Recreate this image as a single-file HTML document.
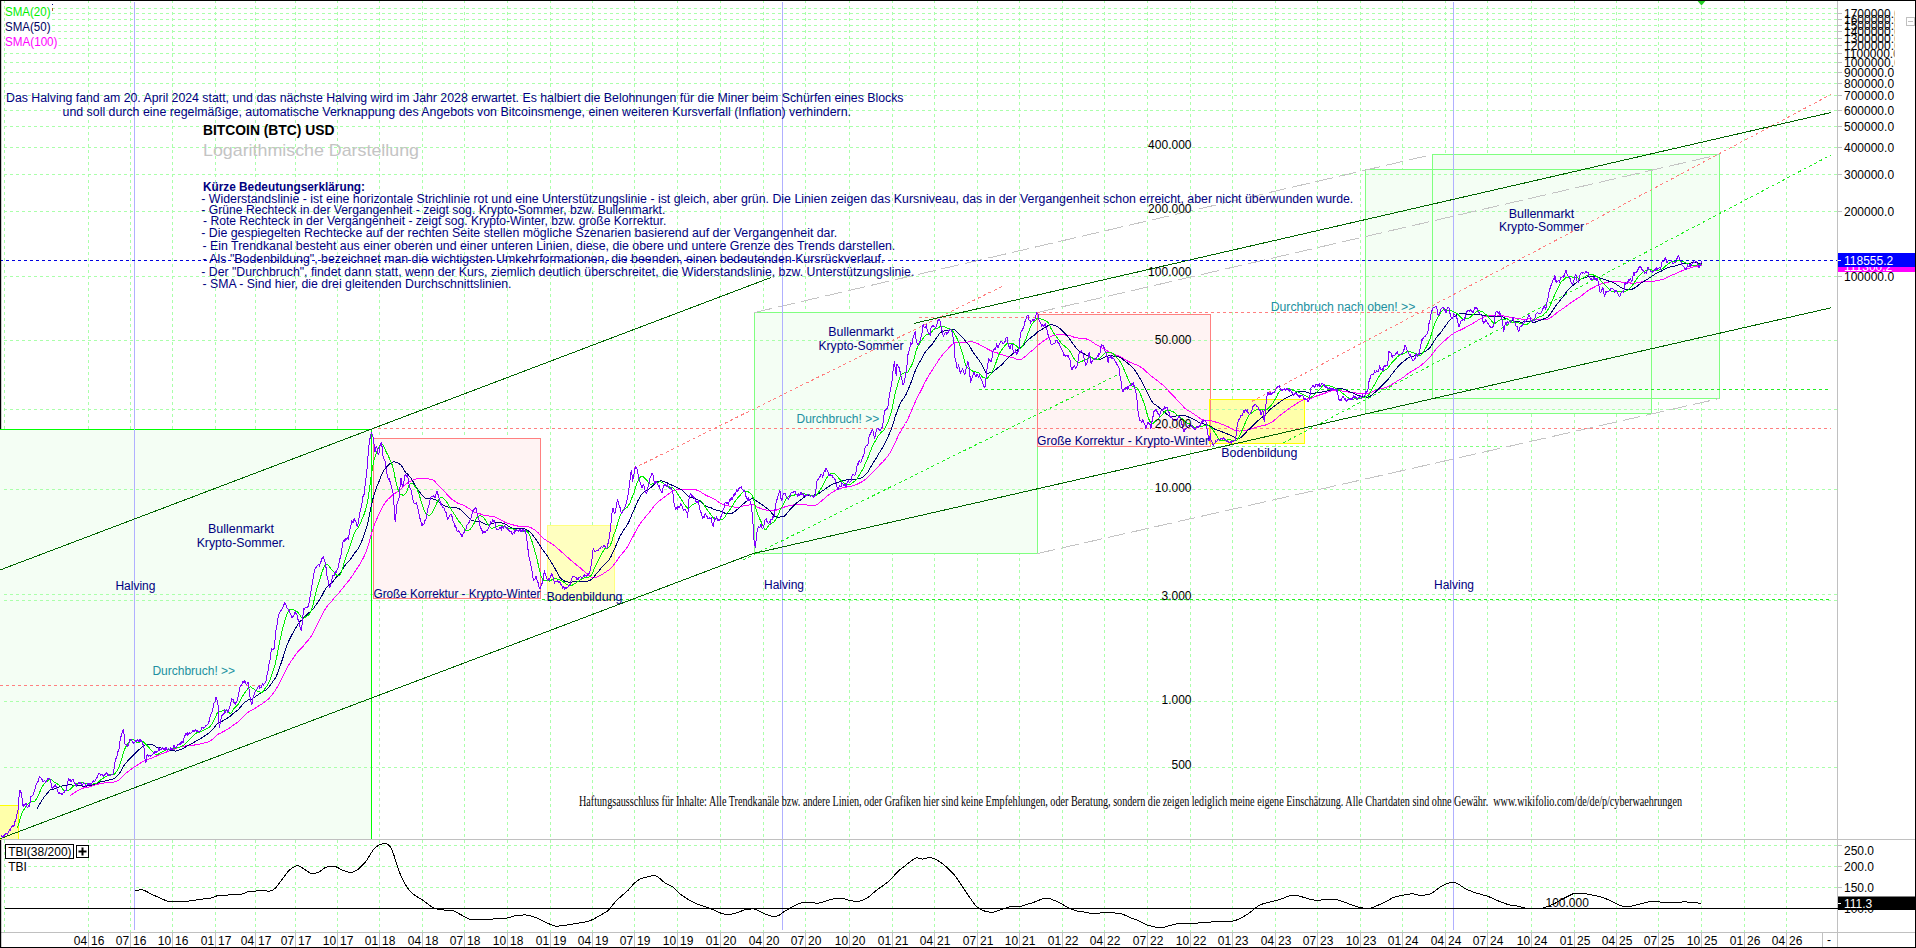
<!DOCTYPE html>
<html lang="de"><head><meta charset="utf-8"><title>BITCOIN (BTC) USD</title>
<style>html,body{margin:0;padding:0;background:#fff;overflow:hidden}svg text{white-space:pre}</style></head>
<body>
<svg width="1916" height="948" viewBox="0 0 1916 948" style="display:block;font-family:'Liberation Sans',Arial,sans-serif;font-size:12px">
<rect width="1916" height="948" fill="#ffffff"/>
<g stroke="#aaffaa" stroke-width="1" stroke-dasharray="3 3" shape-rendering="crispEdges">
<line x1="4.5" y1="0" x2="4.5" y2="932.5"/>
<line x1="88.5" y1="0" x2="88.5" y2="932.5"/>
<line x1="130.5" y1="0" x2="130.5" y2="932.5"/>
<line x1="172.5" y1="0" x2="172.5" y2="932.5"/>
<line x1="215.5" y1="0" x2="215.5" y2="932.5"/>
<line x1="255.5" y1="0" x2="255.5" y2="932.5"/>
<line x1="295.5" y1="0" x2="295.5" y2="932.5"/>
<line x1="337.5" y1="0" x2="337.5" y2="932.5"/>
<line x1="379.5" y1="0" x2="379.5" y2="932.5"/>
<line x1="422.5" y1="0" x2="422.5" y2="932.5"/>
<line x1="464.5" y1="0" x2="464.5" y2="932.5"/>
<line x1="507.5" y1="0" x2="507.5" y2="932.5"/>
<line x1="550.5" y1="0" x2="550.5" y2="932.5"/>
<line x1="592.5" y1="0" x2="592.5" y2="932.5"/>
<line x1="634.5" y1="0" x2="634.5" y2="932.5"/>
<line x1="677.5" y1="0" x2="677.5" y2="932.5"/>
<line x1="720.5" y1="0" x2="720.5" y2="932.5"/>
<line x1="763.5" y1="0" x2="763.5" y2="932.5"/>
<line x1="805.5" y1="0" x2="805.5" y2="932.5"/>
<line x1="849.5" y1="0" x2="849.5" y2="932.5"/>
<line x1="892.5" y1="0" x2="892.5" y2="932.5"/>
<line x1="934.5" y1="0" x2="934.5" y2="932.5"/>
<line x1="977.5" y1="0" x2="977.5" y2="932.5"/>
<line x1="1019.5" y1="0" x2="1019.5" y2="932.5"/>
<line x1="1062.5" y1="0" x2="1062.5" y2="932.5"/>
<line x1="1104.5" y1="0" x2="1104.5" y2="932.5"/>
<line x1="1147.5" y1="0" x2="1147.5" y2="932.5"/>
<line x1="1190.5" y1="0" x2="1190.5" y2="932.5"/>
<line x1="1232.5" y1="0" x2="1232.5" y2="932.5"/>
<line x1="1275.5" y1="0" x2="1275.5" y2="932.5"/>
<line x1="1317.5" y1="0" x2="1317.5" y2="932.5"/>
<line x1="1360.5" y1="0" x2="1360.5" y2="932.5"/>
<line x1="1402.5" y1="0" x2="1402.5" y2="932.5"/>
<line x1="1445.5" y1="0" x2="1445.5" y2="932.5"/>
<line x1="1487.5" y1="0" x2="1487.5" y2="932.5"/>
<line x1="1531.5" y1="0" x2="1531.5" y2="932.5"/>
<line x1="1574.5" y1="0" x2="1574.5" y2="932.5"/>
<line x1="1616.5" y1="0" x2="1616.5" y2="932.5"/>
<line x1="1658.5" y1="0" x2="1658.5" y2="932.5"/>
<line x1="1701.5" y1="0" x2="1701.5" y2="932.5"/>
<line x1="1744.5" y1="0" x2="1744.5" y2="932.5"/>
<line x1="1786.5" y1="0" x2="1786.5" y2="932.5"/>
</g>
<rect x="0" y="429" width="371" height="410.5" fill="#f4fef4"/>
<rect x="754.5" y="312.5" width="283.0" height="241.0" fill="#f4fef4"/>
<rect x="1365.5" y="169.5" width="286.0" height="244.0" fill="#f4fef4"/>
<rect x="1432.5" y="154.5" width="287.0" height="244.0" fill="#f4fef4"/>
<rect x="373.5" y="438.5" width="167.0" height="160.0" fill="#fff3f3"/>
<rect x="1037.5" y="314.5" width="173.0" height="132.0" fill="#fff3f3"/>
<rect x="547.5" y="525.5" width="67.0" height="75.0" fill="#ffffc0"/>
<rect x="1209.5" y="399.5" width="95.0" height="44.0" fill="#ffffaa"/>
<rect x="-1" y="805.5" width="19.5" height="34.0" fill="#ffffaa"/>
<g stroke="#aaffaa" stroke-width="1" stroke-dasharray="3 3" shape-rendering="crispEdges">
<line x1="4" y1="8.5" x2="1837.5" y2="8.5"/>
<line x1="4" y1="13.5" x2="1837.5" y2="13.5"/>
<line x1="4" y1="19.5" x2="1837.5" y2="19.5"/>
<line x1="4" y1="25.5" x2="1837.5" y2="25.5"/>
<line x1="4" y1="31.5" x2="1837.5" y2="31.5"/>
<line x1="4" y1="38.5" x2="1837.5" y2="38.5"/>
<line x1="4" y1="45.5" x2="1837.5" y2="45.5"/>
<line x1="4" y1="53.5" x2="1837.5" y2="53.5"/>
<line x1="4" y1="62.5" x2="1837.5" y2="62.5"/>
<line x1="4" y1="72.5" x2="1837.5" y2="72.5"/>
<line x1="4" y1="83.5" x2="1837.5" y2="83.5"/>
<line x1="4" y1="95.5" x2="1837.5" y2="95.5"/>
<line x1="4" y1="110.5" x2="1837.5" y2="110.5"/>
<line x1="4" y1="126.5" x2="1837.5" y2="126.5"/>
<line x1="4" y1="147.5" x2="1837.5" y2="147.5"/>
<line x1="4" y1="174.5" x2="1837.5" y2="174.5"/>
<line x1="4" y1="211.5" x2="1837.5" y2="211.5"/>
<line x1="4" y1="276.5" x2="1837.5" y2="276.5"/>
<line x1="4" y1="340.5" x2="1837.5" y2="340.5"/>
<line x1="4" y1="409.5" x2="1837.5" y2="409.5"/>
<line x1="4" y1="489.5" x2="1837.5" y2="489.5"/>
<line x1="4" y1="594.5" x2="1837.5" y2="594.5"/>
<line x1="4" y1="600.5" x2="1837.5" y2="600.5"/>
<line x1="4" y1="701.5" x2="1837.5" y2="701.5"/>
<line x1="4" y1="767.5" x2="1837.5" y2="767.5"/>
<line x1="4" y1="845.5" x2="1837.5" y2="845.5"/>
<line x1="4" y1="866.5" x2="1837.5" y2="866.5"/>
<line x1="4" y1="887.5" x2="1837.5" y2="887.5"/>
<line x1="1212" y1="446.5" x2="1502" y2="446.5" stroke="#80ff80"/>
</g>
<g fill="none" stroke-width="1" shape-rendering="crispEdges">
<rect x="754.5" y="312.5" width="283.0" height="241.0" stroke="#80ff80"/>
<rect x="1365.5" y="169.5" width="286.0" height="244.0" stroke="#80ff80"/>
<rect x="1432.5" y="154.5" width="287.0" height="244.0" stroke="#80ff80"/>
<rect x="373.5" y="438.5" width="167.0" height="160.0" stroke="#ff8080"/>
<rect x="1037.5" y="314.5" width="173.0" height="132.0" stroke="#ff8080"/>
<rect x="1209.5" y="399.5" width="95.0" height="44.0" stroke="#ffff00"/>
<rect x="547.5" y="525.5" width="67.0" height="75.0" stroke="#ffff80"/>
<rect x="-1" y="805.5" width="19.5" height="34.0" stroke="#ffff00"/>
</g>
<g stroke="#00ff00" shape-rendering="crispEdges"><line x1="0" y1="429.5" x2="372" y2="429.5" stroke-width="1"/><line x1="371.5" y1="429" x2="371.5" y2="839" stroke-width="1"/></g>
<g stroke="#c4c4c4" stroke-width="1" stroke-dasharray="18 6" fill="none" shape-rendering="crispEdges">
<line x1="754.5" y1="312.5" x2="1432.5" y2="154.5"/>
<line x1="1037.5" y1="312.5" x2="1719.5" y2="154.5"/>
<line x1="1037.5" y1="553.5" x2="1719.5" y2="398.5"/>
</g>
<rect x="577" y="795" width="1108" height="15" fill="#fff"/>
<g stroke="#b0b0ff" stroke-width="1" shape-rendering="crispEdges">
<line x1="134.5" y1="2" x2="134.5" y2="930"/>
<line x1="782.5" y1="2" x2="782.5" y2="930"/>
<line x1="1453.5" y1="2" x2="1453.5" y2="930"/>
</g>
<g stroke-width="1" stroke-dasharray="3 3" fill="none" shape-rendering="crispEdges">
<g stroke="#ff8080">
<line x1="0" y1="685.5" x2="261" y2="685.5" shape-rendering="crispEdges"/>
<line x1="372" y1="428.5" x2="1831" y2="428.5" shape-rendering="crispEdges"/>
<line x1="919" y1="317.5" x2="1037" y2="317.5" shape-rendering="crispEdges"/>
<line x1="1037" y1="312.5" x2="1436" y2="312.5" shape-rendering="crispEdges"/>
<line x1="633.5" y1="468.4" x2="1002" y2="286.4"/>
<line x1="1252" y1="401.3" x2="1831" y2="94.5"/>
</g>
<g stroke="#22ee22">
<line x1="542" y1="599.5" x2="1831" y2="599.5" shape-rendering="crispEdges"/>
<line x1="979" y1="389.5" x2="1831" y2="389.5" shape-rendering="crispEdges"/>
<line x1="743" y1="560" x2="1120" y2="373.6"/>
<line x1="1283" y1="443" x2="1831" y2="155"/>
</g></g>
<g stroke="#006400" stroke-width="1" fill="none" shape-rendering="crispEdges">
<line x1="0" y1="570" x2="771" y2="277.5"/>
<line x1="0" y1="838.7" x2="756" y2="552.5"/>
<line x1="756" y1="553" x2="1831" y2="307.8"/>
<line x1="914" y1="323.4" x2="1831" y2="112.5"/>
</g>
<g fill="none" stroke-width="1" stroke-linejoin="round" shape-rendering="crispEdges">
<polyline stroke="#ff00ff" points="70.0,795.8 71.5,794.7 73.0,793.6 74.5,792.6 76.0,791.8 77.5,790.9 79.0,790.1 80.5,789.3 82.0,788.5 83.5,788.0 85.0,787.7 86.5,787.5 88.0,787.2 89.5,786.8 91.0,786.4 92.5,785.9 94.0,785.4 95.5,784.9 97.0,784.5 98.5,784.0 100.0,783.6 101.5,783.3 103.0,783.1 104.5,783.0 106.0,782.9 107.5,782.8 109.0,782.7 110.5,782.5 112.0,782.4 113.5,782.2 115.0,781.9 116.5,781.3 118.0,780.5 119.5,779.4 121.0,778.1 122.5,776.6 124.0,774.9 125.5,773.6 127.0,772.5 128.5,771.3 130.0,770.1 131.5,768.9 133.0,767.8 134.5,766.9 136.0,766.0 137.5,765.0 139.0,764.1 140.5,763.1 142.0,762.1 143.5,761.2 145.0,760.5 146.5,760.1 148.0,759.5 149.5,758.9 151.0,758.3 152.5,757.7 154.0,757.1 155.5,756.4 157.0,755.8 158.5,755.1 160.0,754.5 161.5,753.8 163.0,753.3 164.5,752.7 166.0,752.2 167.5,751.6 169.0,751.1 170.5,750.6 172.0,750.0 173.5,749.5 175.0,748.9 176.5,748.3 178.0,747.7 179.5,747.2 181.0,746.8 182.5,746.5 184.0,746.1 185.5,745.9 187.0,745.9 188.5,746.0 190.0,745.9 191.5,745.7 193.0,745.3 194.5,745.0 196.0,744.7 197.5,744.5 199.0,744.2 200.5,743.9 202.0,743.5 203.5,743.2 205.0,742.8 206.5,742.4 208.0,741.9 209.5,741.3 211.0,740.4 212.5,739.2 214.0,738.0 215.5,736.6 217.0,735.1 218.5,734.0 220.0,733.4 221.5,732.6 223.0,731.8 224.5,731.0 226.0,730.1 227.5,729.2 229.0,728.4 230.5,727.3 232.0,726.2 233.5,725.1 235.0,724.0 236.5,723.0 238.0,721.8 239.5,720.6 241.0,719.1 242.5,717.6 244.0,716.1 245.5,714.6 247.0,713.2 248.5,711.9 250.0,710.9 251.5,710.2 253.0,709.5 254.5,708.6 256.0,707.7 257.5,706.7 259.0,705.7 260.5,704.7 262.0,703.8 263.5,702.7 265.0,701.7 266.5,700.6 268.0,699.4 269.5,697.9 271.0,696.1 272.5,694.2 274.0,692.3 275.5,690.2 277.0,687.6 278.5,684.9 280.0,682.0 281.5,679.2 283.0,676.3 284.5,673.2 286.0,670.0 287.5,667.1 289.0,664.5 290.5,662.1 292.0,659.9 293.5,657.8 295.0,655.6 296.5,653.6 298.0,651.7 299.5,650.0 301.0,648.5 302.5,647.0 304.0,645.2 305.5,643.3 307.0,641.5 308.5,639.8 310.0,637.9 311.5,635.7 313.0,633.2 314.5,630.4 316.0,627.3 317.5,624.2 319.0,621.2 320.5,618.2 322.0,615.3 323.5,612.3 325.0,609.6 326.5,607.3 328.0,605.2 329.5,603.5 331.0,601.9 332.5,600.1 334.0,598.3 335.5,596.7 337.0,595.1 338.5,593.4 340.0,591.5 341.5,589.7 343.0,587.8 344.5,585.8 346.0,584.0 347.5,582.2 349.0,580.4 350.5,578.4 352.0,576.2 353.5,573.9 355.0,571.5 356.5,569.3 358.0,567.1 359.5,564.8 361.0,562.2 362.5,559.5 364.0,556.5 365.5,553.0 367.0,549.1 368.5,544.4 370.0,539.2 371.5,533.8 373.0,528.7 374.5,524.5 376.0,520.8 377.5,517.3 379.0,514.2 380.5,511.0 382.0,507.9 383.5,505.3 385.0,503.0 386.5,501.0 388.0,499.3 389.5,497.9 391.0,496.4 392.5,495.1 394.0,493.9 395.5,493.0 397.0,492.0 398.5,491.0 400.0,489.7 401.5,488.3 403.0,487.0 404.5,485.7 406.0,484.3 407.5,483.0 409.0,481.9 410.5,481.1 412.0,480.3 413.5,479.7 415.0,479.3 416.5,478.9 418.0,478.6 419.5,478.5 421.0,478.5 422.5,478.5 424.0,478.6 425.5,478.6 427.0,478.8 428.5,478.9 430.0,479.1 431.5,479.3 433.0,480.0 434.5,481.1 436.0,482.7 437.5,484.4 439.0,486.1 440.5,487.4 442.0,488.9 443.5,490.4 445.0,491.9 446.5,493.8 448.0,495.7 449.5,497.2 451.0,498.5 452.5,499.7 454.0,500.7 455.5,501.7 457.0,502.7 458.5,503.6 460.0,504.1 461.5,504.4 463.0,505.0 464.5,505.6 466.0,506.6 467.5,507.6 469.0,508.5 470.5,509.5 472.0,510.6 473.5,511.6 475.0,512.3 476.5,512.8 478.0,513.3 479.5,513.7 481.0,514.2 482.5,514.9 484.0,515.4 485.5,515.7 487.0,515.9 488.5,516.0 490.0,516.0 491.5,516.1 493.0,516.3 494.5,516.6 496.0,517.3 497.5,518.1 499.0,518.9 500.5,519.7 502.0,520.6 503.5,521.4 505.0,522.2 506.5,522.8 508.0,523.4 509.5,523.9 511.0,524.4 512.5,524.8 514.0,525.1 515.5,525.5 517.0,525.9 518.5,526.2 520.0,526.4 521.5,526.4 523.0,526.4 524.5,526.4 526.0,526.4 527.5,526.5 529.0,526.9 530.5,527.4 532.0,528.2 533.5,529.2 535.0,530.2 536.5,531.4 538.0,532.7 539.5,534.3 541.0,535.9 542.5,537.5 544.0,538.8 545.5,539.8 547.0,540.8 548.5,541.8 550.0,542.7 551.5,543.6 553.0,544.6 554.5,545.8 556.0,547.0 557.5,548.3 559.0,549.7 560.5,551.1 562.0,552.3 563.5,553.6 565.0,554.9 566.5,556.3 568.0,557.6 569.5,559.0 571.0,560.4 572.5,561.7 574.0,562.9 575.5,564.1 577.0,565.3 578.5,566.5 580.0,567.7 581.5,569.0 583.0,570.3 584.5,571.6 586.0,572.9 587.5,574.1 589.0,575.4 590.5,576.6 592.0,577.6 593.5,577.7 595.0,577.5 596.5,577.2 598.0,576.6 599.5,575.8 601.0,575.0 602.5,574.2 604.0,573.2 605.5,572.2 607.0,571.2 608.5,570.3 610.0,569.2 611.5,567.7 613.0,565.7 614.5,563.8 616.0,561.8 617.5,559.7 619.0,557.6 620.5,555.6 622.0,553.8 623.5,552.1 625.0,550.2 626.5,548.2 628.0,546.0 629.5,543.4 631.0,540.4 632.5,537.4 634.0,534.6 635.5,531.7 637.0,528.8 638.5,526.3 640.0,524.0 641.5,522.0 643.0,520.0 644.5,518.1 646.0,516.3 647.5,514.7 649.0,512.9 650.5,510.9 652.0,508.8 653.5,506.8 655.0,505.1 656.5,503.5 658.0,502.1 659.5,500.8 661.0,499.7 662.5,498.6 664.0,497.4 665.5,496.2 667.0,495.1 668.5,494.0 670.0,492.9 671.5,491.9 673.0,490.9 674.5,490.3 676.0,489.9 677.5,489.7 679.0,489.6 680.5,489.5 682.0,489.4 683.5,489.5 685.0,489.6 686.5,489.6 688.0,489.7 689.5,489.5 691.0,489.2 692.5,489.1 694.0,489.2 695.5,489.5 697.0,490.2 698.5,490.7 700.0,491.5 701.5,492.5 703.0,493.6 704.5,494.5 706.0,495.3 707.5,496.0 709.0,496.7 710.5,497.3 712.0,497.9 713.5,498.7 715.0,499.5 716.5,500.5 718.0,501.6 719.5,502.6 721.0,503.4 722.5,504.2 724.0,504.8 725.5,505.2 727.0,505.5 728.5,505.8 730.0,506.2 731.5,506.6 733.0,506.9 734.5,507.1 736.0,507.3 737.5,507.3 739.0,507.2 740.5,506.8 742.0,506.2 743.5,505.8 745.0,505.5 746.5,505.3 748.0,505.1 749.5,504.9 751.0,504.7 752.5,504.7 754.0,505.1 755.5,506.1 757.0,506.9 758.5,507.6 760.0,508.2 761.5,508.8 763.0,509.3 764.5,509.8 766.0,510.0 767.5,510.2 769.0,510.3 770.5,510.4 772.0,510.5 773.5,510.5 775.0,510.4 776.5,510.0 778.0,509.5 779.5,508.7 781.0,508.2 782.5,507.8 784.0,507.2 785.5,506.6 787.0,506.1 788.5,505.9 790.0,505.6 791.5,505.3 793.0,505.1 794.5,504.8 796.0,504.6 797.5,504.5 799.0,504.5 800.5,504.4 802.0,504.5 803.5,504.6 805.0,504.8 806.5,505.0 808.0,505.2 809.5,505.3 811.0,505.4 812.5,505.4 814.0,505.3 815.5,505.2 817.0,504.7 818.5,503.7 820.0,502.3 821.5,500.9 823.0,499.6 824.5,498.3 826.0,497.0 827.5,495.7 829.0,494.5 830.5,493.5 832.0,492.6 833.5,491.6 835.0,490.7 836.5,489.9 838.0,489.3 839.5,488.7 841.0,488.2 842.5,487.8 844.0,487.5 845.5,487.4 847.0,487.1 848.5,486.7 850.0,486.4 851.5,486.1 853.0,485.6 854.5,485.1 856.0,484.6 857.5,484.0 859.0,483.3 860.5,482.5 862.0,481.7 863.5,480.8 865.0,479.7 866.5,478.6 868.0,477.3 869.5,475.8 871.0,474.2 872.5,472.5 874.0,471.0 875.5,469.6 877.0,467.9 878.5,466.3 880.0,464.7 881.5,463.1 883.0,461.8 884.5,460.0 886.0,458.2 887.5,456.4 889.0,454.3 890.5,452.0 892.0,449.3 893.5,446.2 895.0,442.7 896.5,439.7 898.0,436.4 899.5,433.4 901.0,430.7 902.5,428.3 904.0,426.0 905.5,423.5 907.0,420.8 908.5,417.7 910.0,414.2 911.5,410.8 913.0,407.3 914.5,403.7 916.0,400.2 917.5,397.1 919.0,394.3 920.5,391.5 922.0,388.5 923.5,385.4 925.0,382.4 926.5,379.5 928.0,376.8 929.5,374.4 931.0,372.0 932.5,369.6 934.0,367.2 935.5,364.9 937.0,362.7 938.5,360.4 940.0,358.1 941.5,356.0 943.0,354.3 944.5,352.7 946.0,351.0 947.5,349.3 949.0,347.7 950.5,346.2 952.0,344.7 953.5,343.5 955.0,342.8 956.5,342.3 958.0,342.1 959.5,342.1 961.0,342.2 962.5,342.2 964.0,342.3 965.5,342.3 967.0,342.2 968.5,341.8 970.0,341.6 971.5,341.7 973.0,341.9 974.5,342.3 976.0,342.9 977.5,343.5 979.0,344.2 980.5,345.2 982.0,346.0 983.5,346.8 985.0,347.6 986.5,348.4 988.0,349.2 989.5,350.0 991.0,350.8 992.5,351.6 994.0,352.0 995.5,352.4 997.0,352.8 998.5,353.4 1000.0,353.9 1001.5,354.3 1003.0,354.9 1004.5,355.6 1006.0,356.1 1007.5,356.4 1009.0,356.7 1010.5,357.1 1012.0,357.4 1013.5,357.9 1015.0,358.5 1016.5,359.2 1018.0,359.8 1019.5,360.0 1021.0,359.4 1022.5,358.5 1024.0,357.5 1025.5,356.3 1027.0,354.8 1028.5,353.4 1030.0,352.1 1031.5,350.9 1033.0,349.8 1034.5,348.7 1036.0,347.3 1037.5,345.7 1039.0,344.4 1040.5,343.3 1042.0,342.2 1043.5,341.1 1045.0,340.1 1046.5,339.0 1048.0,338.1 1049.5,337.2 1051.0,336.5 1052.5,335.9 1054.0,335.6 1055.5,335.2 1057.0,334.9 1058.5,334.6 1060.0,334.6 1061.5,334.6 1063.0,334.7 1064.5,334.8 1066.0,335.1 1067.5,335.4 1069.0,335.6 1070.5,335.9 1072.0,336.5 1073.5,337.0 1075.0,337.4 1076.5,337.7 1078.0,338.1 1079.5,338.1 1081.0,338.1 1082.5,338.1 1084.0,338.1 1085.5,338.5 1087.0,339.2 1088.5,339.8 1090.0,340.5 1091.5,341.4 1093.0,342.5 1094.5,343.5 1096.0,344.4 1097.5,345.3 1099.0,346.2 1100.5,347.0 1102.0,347.9 1103.5,348.8 1105.0,349.6 1106.5,350.4 1108.0,351.2 1109.5,352.1 1111.0,352.9 1112.5,353.7 1114.0,354.3 1115.5,354.9 1117.0,355.3 1118.5,355.8 1120.0,356.4 1121.5,357.3 1123.0,358.3 1124.5,359.3 1126.0,360.2 1127.5,361.0 1129.0,361.8 1130.5,362.4 1132.0,363.0 1133.5,363.7 1135.0,364.3 1136.5,364.8 1138.0,365.5 1139.5,366.4 1141.0,367.4 1142.5,368.3 1144.0,369.5 1145.5,370.9 1147.0,372.4 1148.5,373.7 1150.0,375.0 1151.5,376.2 1153.0,377.3 1154.5,378.5 1156.0,379.7 1157.5,380.8 1159.0,381.9 1160.5,383.2 1162.0,384.4 1163.5,385.6 1165.0,386.9 1166.5,388.4 1168.0,390.2 1169.5,391.9 1171.0,393.6 1172.5,395.2 1174.0,396.6 1175.5,398.2 1177.0,399.9 1178.5,401.5 1180.0,403.0 1181.5,404.6 1183.0,406.2 1184.5,407.9 1186.0,409.2 1187.5,410.2 1189.0,411.0 1190.5,411.9 1192.0,412.8 1193.5,413.8 1195.0,414.8 1196.5,415.8 1198.0,417.0 1199.5,418.1 1201.0,419.1 1202.5,419.8 1204.0,420.0 1205.5,420.0 1207.0,420.1 1208.5,420.4 1210.0,420.7 1211.5,420.9 1213.0,421.3 1214.5,421.8 1216.0,422.1 1217.5,422.5 1219.0,423.0 1220.5,423.7 1222.0,424.3 1223.5,424.9 1225.0,425.4 1226.5,426.1 1228.0,426.8 1229.5,427.6 1231.0,428.4 1232.5,429.2 1234.0,429.9 1235.5,430.5 1237.0,430.9 1238.5,431.0 1240.0,431.0 1241.5,430.8 1243.0,430.7 1244.5,430.5 1246.0,430.3 1247.5,430.0 1249.0,429.6 1250.5,429.2 1252.0,428.7 1253.5,428.2 1255.0,427.7 1256.5,427.2 1258.0,426.7 1259.5,426.3 1261.0,425.9 1262.5,425.5 1264.0,425.3 1265.5,425.0 1267.0,424.4 1268.5,423.6 1270.0,422.9 1271.5,422.2 1273.0,421.3 1274.5,420.1 1276.0,419.0 1277.5,417.7 1279.0,416.3 1280.5,415.0 1282.0,413.8 1283.5,412.7 1285.0,411.5 1286.5,410.4 1288.0,409.3 1289.5,408.3 1291.0,407.2 1292.5,406.2 1294.0,405.3 1295.5,404.3 1297.0,403.4 1298.5,402.4 1300.0,401.6 1301.5,400.7 1303.0,400.1 1304.5,399.7 1306.0,399.3 1307.5,399.0 1309.0,398.7 1310.5,398.4 1312.0,397.9 1313.5,397.3 1315.0,396.7 1316.5,396.0 1318.0,395.5 1319.5,395.0 1321.0,394.5 1322.5,394.0 1324.0,393.5 1325.5,393.0 1327.0,392.4 1328.5,391.9 1330.0,391.3 1331.5,390.9 1333.0,390.7 1334.5,390.6 1336.0,390.5 1337.5,390.4 1339.0,390.6 1340.5,390.8 1342.0,391.0 1343.5,391.2 1345.0,391.5 1346.5,391.8 1348.0,392.0 1349.5,392.2 1351.0,392.5 1352.5,392.7 1354.0,392.8 1355.5,393.0 1357.0,393.1 1358.5,393.3 1360.0,393.3 1361.5,393.4 1363.0,393.4 1364.5,393.4 1366.0,393.4 1367.5,393.2 1369.0,393.0 1370.5,392.5 1372.0,391.9 1373.5,391.3 1375.0,390.6 1376.5,390.1 1378.0,389.7 1379.5,389.2 1381.0,388.8 1382.5,388.4 1384.0,387.9 1385.5,387.4 1387.0,386.9 1388.5,386.3 1390.0,385.4 1391.5,384.5 1393.0,383.7 1394.5,382.8 1396.0,381.9 1397.5,380.9 1399.0,380.0 1400.5,379.2 1402.0,378.2 1403.5,377.3 1405.0,376.0 1406.5,374.7 1408.0,373.6 1409.5,372.6 1411.0,371.7 1412.5,370.8 1414.0,370.0 1415.5,369.1 1417.0,368.1 1418.5,367.2 1420.0,366.2 1421.5,365.1 1423.0,363.7 1424.5,362.4 1426.0,361.1 1427.5,359.7 1429.0,358.2 1430.5,356.4 1432.0,354.5 1433.5,352.4 1435.0,350.5 1436.5,348.7 1438.0,347.2 1439.5,345.8 1441.0,344.3 1442.5,342.7 1444.0,341.3 1445.5,339.9 1447.0,338.6 1448.5,337.2 1450.0,335.9 1451.5,334.8 1453.0,333.8 1454.5,332.9 1456.0,332.1 1457.5,331.3 1459.0,330.6 1460.5,330.0 1462.0,329.3 1463.5,328.5 1465.0,327.8 1466.5,326.9 1468.0,326.0 1469.5,325.2 1471.0,324.4 1472.5,323.6 1474.0,322.7 1475.5,321.7 1477.0,320.8 1478.5,319.8 1480.0,318.9 1481.5,318.2 1483.0,317.5 1484.5,316.9 1486.0,316.4 1487.5,316.0 1489.0,315.7 1490.5,315.5 1492.0,315.3 1493.5,315.2 1495.0,315.1 1496.5,315.0 1498.0,315.0 1499.5,315.2 1501.0,315.4 1502.5,315.7 1504.0,316.1 1505.5,316.3 1507.0,316.6 1508.5,316.9 1510.0,317.2 1511.5,317.4 1513.0,317.6 1514.5,317.9 1516.0,318.2 1517.5,318.4 1519.0,318.7 1520.5,319.0 1522.0,319.1 1523.5,319.2 1525.0,319.1 1526.5,319.1 1528.0,319.0 1529.5,318.9 1531.0,318.9 1532.5,319.1 1534.0,319.4 1535.5,319.5 1537.0,319.6 1538.5,319.6 1540.0,319.7 1541.5,319.8 1543.0,319.8 1544.5,319.6 1546.0,319.5 1547.5,319.2 1549.0,318.5 1550.5,317.6 1552.0,316.7 1553.5,315.6 1555.0,314.3 1556.5,313.1 1558.0,311.9 1559.5,310.8 1561.0,309.8 1562.5,308.8 1564.0,307.9 1565.5,306.8 1567.0,305.6 1568.5,304.4 1570.0,303.3 1571.5,302.3 1573.0,301.3 1574.5,300.4 1576.0,299.3 1577.5,298.4 1579.0,297.5 1580.5,296.5 1582.0,295.3 1583.5,294.1 1585.0,292.9 1586.5,291.7 1588.0,290.6 1589.5,289.6 1591.0,288.8 1592.5,288.0 1594.0,287.2 1595.5,286.5 1597.0,285.6 1598.5,284.8 1600.0,284.2 1601.5,283.8 1603.0,283.3 1604.5,283.0 1606.0,282.6 1607.5,282.3 1609.0,282.0 1610.5,281.7 1612.0,281.3 1613.5,281.1 1615.0,281.0 1616.5,281.1 1618.0,281.3 1619.5,281.7 1621.0,282.0 1622.5,282.2 1624.0,282.5 1625.5,282.6 1627.0,282.7 1628.5,282.8 1630.0,282.9 1631.5,283.2 1633.0,283.2 1634.5,283.2 1636.0,283.0 1637.5,282.7 1639.0,282.4 1640.5,282.1 1642.0,281.9 1643.5,281.6 1645.0,281.4 1646.5,281.4 1648.0,281.3 1649.5,281.2 1651.0,281.2 1652.5,281.1 1654.0,281.1 1655.5,280.9 1657.0,280.7 1658.5,280.4 1660.0,280.1 1661.5,279.8 1663.0,279.4 1664.5,278.8 1666.0,278.0 1667.5,277.3 1669.0,276.6 1670.5,275.8 1672.0,275.1 1673.5,274.5 1675.0,273.9 1676.5,273.2 1678.0,272.5 1679.5,271.8 1681.0,271.2 1682.5,270.6 1684.0,270.0 1685.5,269.4 1687.0,268.9 1688.5,268.4 1690.0,267.9 1691.5,267.5 1693.0,267.1 1694.5,266.7 1696.0,266.3 1697.5,266.0 1699.0,265.8 1700.5,265.6 1702.0,265.3"/>
<polyline stroke="#000070" points="37.0,808.5 38.0,806.8 39.0,805.1 40.0,803.4 41.0,801.7 42.0,800.2 43.0,798.7 44.0,797.3 45.0,796.0 46.0,794.8 47.0,793.6 48.0,792.4 49.0,791.3 50.0,790.2 51.0,789.5 52.0,789.2 53.0,789.2 54.0,789.0 55.0,788.6 56.0,788.1 57.0,787.6 58.0,787.3 59.0,787.0 60.0,786.6 61.0,786.2 62.0,785.9 63.0,785.7 64.0,785.6 65.0,785.5 66.0,785.3 67.0,785.2 68.0,785.0 69.0,784.9 70.0,784.8 71.0,784.9 72.0,785.0 73.0,785.1 74.0,785.2 75.0,785.3 76.0,785.5 77.0,785.6 78.0,785.6 79.0,785.7 80.0,785.8 81.0,785.9 82.0,786.1 83.0,786.2 84.0,786.2 85.0,786.1 86.0,786.0 87.0,786.0 88.0,785.9 89.0,785.8 90.0,785.6 91.0,785.4 92.0,785.1 93.0,784.8 94.0,784.4 95.0,784.1 96.0,783.6 97.0,783.2 98.0,782.8 99.0,782.3 100.0,782.0 101.0,781.8 102.0,781.6 103.0,781.4 104.0,781.2 105.0,781.0 106.0,780.8 107.0,780.6 108.0,780.3 109.0,780.0 110.0,779.7 111.0,779.4 112.0,779.2 113.0,778.9 114.0,778.5 115.0,777.9 116.0,777.1 117.0,776.1 118.0,775.1 119.0,773.9 120.0,772.5 121.0,770.8 122.0,769.1 123.0,767.2 124.0,765.4 125.0,764.0 126.0,762.9 127.0,761.8 128.0,760.7 129.0,759.6 130.0,758.6 131.0,757.4 132.0,756.4 133.0,755.5 134.0,754.5 135.0,753.6 136.0,752.6 137.0,751.6 138.0,750.7 139.0,749.7 140.0,748.8 141.0,747.9 142.0,747.0 143.0,746.1 144.0,745.4 145.0,744.9 146.0,744.6 147.0,744.4 148.0,744.2 149.0,744.1 150.0,744.1 151.0,744.3 152.0,744.5 153.0,745.0 154.0,745.5 155.0,746.1 156.0,746.9 157.0,747.3 158.0,747.6 159.0,747.7 160.0,747.8 161.0,748.0 162.0,748.2 163.0,748.4 164.0,748.7 165.0,749.0 166.0,749.1 167.0,749.3 168.0,749.5 169.0,749.7 170.0,750.0 171.0,750.2 172.0,750.5 173.0,750.7 174.0,750.9 175.0,751.0 176.0,751.0 177.0,750.9 178.0,750.4 179.0,750.0 180.0,749.6 181.0,749.3 182.0,748.9 183.0,748.5 184.0,747.9 185.0,747.3 186.0,746.7 187.0,746.2 188.0,745.6 189.0,745.1 190.0,744.5 191.0,743.9 192.0,743.4 193.0,742.8 194.0,742.2 195.0,741.7 196.0,741.1 197.0,740.5 198.0,740.0 199.0,739.4 200.0,738.9 201.0,738.3 202.0,737.7 203.0,737.0 204.0,736.3 205.0,735.6 206.0,735.0 207.0,734.3 208.0,733.6 209.0,732.9 210.0,732.1 211.0,731.2 212.0,730.2 213.0,729.0 214.0,727.8 215.0,726.5 216.0,725.1 217.0,723.8 218.0,722.8 219.0,722.3 220.0,722.1 221.0,721.7 222.0,721.2 223.0,720.7 224.0,720.1 225.0,719.5 226.0,718.9 227.0,718.3 228.0,717.7 229.0,717.1 230.0,716.4 231.0,715.5 232.0,714.6 233.0,713.7 234.0,712.8 235.0,712.1 236.0,711.4 237.0,710.6 238.0,709.8 239.0,708.8 240.0,707.7 241.0,706.5 242.0,705.3 243.0,704.2 244.0,703.1 245.0,702.2 246.0,701.4 247.0,700.8 248.0,700.1 249.0,699.8 250.0,699.6 251.0,699.4 252.0,698.9 253.0,698.2 254.0,697.6 255.0,696.9 256.0,696.2 257.0,695.5 258.0,694.8 259.0,694.1 260.0,693.4 261.0,692.7 262.0,692.0 263.0,691.5 264.0,690.9 265.0,690.4 266.0,689.8 267.0,689.1 268.0,688.1 269.0,687.0 270.0,685.6 271.0,684.2 272.0,682.7 273.0,681.3 274.0,680.0 275.0,678.6 276.0,676.7 277.0,674.5 278.0,671.9 279.0,669.2 280.0,666.4 281.0,663.6 282.0,660.6 283.0,657.5 284.0,654.3 285.0,651.1 286.0,648.1 287.0,645.4 288.0,642.9 289.0,640.6 290.0,638.5 291.0,636.5 292.0,634.6 293.0,632.9 294.0,631.1 295.0,629.2 296.0,627.4 297.0,625.7 298.0,624.2 299.0,622.8 300.0,621.6 301.0,620.7 302.0,619.8 303.0,618.8 304.0,617.7 305.0,616.6 306.0,615.4 307.0,614.3 308.0,613.4 309.0,612.7 310.0,612.0 311.0,611.1 312.0,610.2 313.0,609.1 314.0,607.8 315.0,606.3 316.0,604.8 317.0,603.4 318.0,602.0 319.0,600.5 320.0,599.0 321.0,597.3 322.0,595.5 323.0,593.5 324.0,591.6 325.0,589.8 326.0,588.3 327.0,587.1 328.0,586.1 329.0,585.3 330.0,584.6 331.0,583.7 332.0,582.6 333.0,581.4 334.0,580.0 335.0,578.8 336.0,577.7 337.0,576.7 338.0,575.6 339.0,574.4 340.0,573.1 341.0,571.7 342.0,570.1 343.0,568.5 344.0,567.0 345.0,565.6 346.0,564.3 347.0,563.3 348.0,562.3 349.0,561.2 350.0,560.0 351.0,558.6 352.0,557.1 353.0,555.5 354.0,554.1 355.0,552.6 356.0,551.4 357.0,550.2 358.0,548.9 359.0,547.3 360.0,545.4 361.0,543.1 362.0,540.5 363.0,537.8 364.0,535.1 365.0,532.3 366.0,529.2 367.0,525.7 368.0,521.7 369.0,517.1 370.0,512.2 371.0,507.4 372.0,502.7 373.0,498.5 374.0,495.0 375.0,492.1 376.0,489.3 377.0,486.4 378.0,483.9 379.0,481.6 380.0,479.0 381.0,476.4 382.0,473.9 383.0,472.0 384.0,470.3 385.0,468.8 386.0,467.5 387.0,466.4 388.0,465.5 389.0,464.5 390.0,463.6 391.0,462.9 392.0,462.2 393.0,461.9 394.0,461.8 395.0,462.0 396.0,462.4 397.0,462.7 398.0,463.1 399.0,463.6 400.0,464.3 401.0,465.1 402.0,466.4 403.0,468.0 404.0,469.8 405.0,471.4 406.0,472.8 407.0,473.7 408.0,474.6 409.0,475.8 410.0,477.1 411.0,478.2 412.0,479.7 413.0,481.5 414.0,483.6 415.0,485.4 416.0,487.0 417.0,488.4 418.0,489.9 419.0,491.2 420.0,492.5 421.0,493.8 422.0,495.0 423.0,496.2 424.0,497.3 425.0,498.3 426.0,498.9 427.0,499.1 428.0,498.8 429.0,498.6 430.0,498.5 431.0,498.4 432.0,498.4 433.0,498.8 434.0,499.4 435.0,499.7 436.0,500.0 437.0,500.4 438.0,501.1 439.0,501.8 440.0,502.7 441.0,503.5 442.0,504.3 443.0,504.9 444.0,505.5 445.0,505.9 446.0,506.3 447.0,506.6 448.0,507.0 449.0,507.4 450.0,507.8 451.0,507.9 452.0,507.9 453.0,507.8 454.0,507.8 455.0,507.8 456.0,507.9 457.0,508.1 458.0,508.4 459.0,508.8 460.0,509.3 461.0,510.1 462.0,511.0 463.0,512.0 464.0,513.1 465.0,514.2 466.0,515.2 467.0,516.1 468.0,517.1 469.0,518.1 470.0,519.1 471.0,519.9 472.0,520.5 473.0,520.9 474.0,521.1 475.0,521.1 476.0,521.1 477.0,521.1 478.0,521.3 479.0,521.5 480.0,521.7 481.0,522.0 482.0,522.4 483.0,522.9 484.0,523.5 485.0,524.0 486.0,524.4 487.0,524.6 488.0,524.7 489.0,524.6 490.0,524.4 491.0,524.1 492.0,523.9 493.0,523.5 494.0,523.1 495.0,522.8 496.0,522.6 497.0,522.5 498.0,522.5 499.0,522.6 500.0,522.7 501.0,522.9 502.0,523.0 503.0,523.3 504.0,523.6 505.0,524.1 506.0,524.6 507.0,525.2 508.0,525.9 509.0,526.6 510.0,527.2 511.0,527.7 512.0,528.0 513.0,528.2 514.0,528.3 515.0,528.3 516.0,528.2 517.0,528.2 518.0,528.1 519.0,528.1 520.0,528.1 521.0,528.2 522.0,528.4 523.0,528.6 524.0,528.8 525.0,529.1 526.0,529.5 527.0,530.0 528.0,530.6 529.0,531.3 530.0,532.1 531.0,533.1 532.0,534.2 533.0,535.4 534.0,536.7 535.0,538.1 536.0,539.4 537.0,540.8 538.0,542.4 539.0,544.0 540.0,545.6 541.0,547.2 542.0,548.7 543.0,550.2 544.0,551.4 545.0,552.7 546.0,554.1 547.0,555.5 548.0,557.1 549.0,558.7 550.0,560.3 551.0,561.8 552.0,563.4 553.0,565.0 554.0,566.7 555.0,568.5 556.0,570.4 557.0,572.3 558.0,574.2 559.0,576.0 560.0,577.4 561.0,578.6 562.0,579.5 563.0,580.2 564.0,580.8 565.0,581.3 566.0,581.6 567.0,581.8 568.0,582.1 569.0,582.4 570.0,582.5 571.0,582.4 572.0,582.1 573.0,581.7 574.0,581.4 575.0,581.2 576.0,581.2 577.0,581.4 578.0,581.6 579.0,581.6 580.0,581.5 581.0,581.5 582.0,581.4 583.0,581.4 584.0,581.4 585.0,581.5 586.0,581.4 587.0,581.2 588.0,580.9 589.0,580.6 590.0,580.3 591.0,579.8 592.0,579.1 593.0,578.0 594.0,576.7 595.0,575.5 596.0,574.3 597.0,573.2 598.0,572.0 599.0,570.7 600.0,569.5 601.0,568.3 602.0,567.0 603.0,565.9 604.0,564.8 605.0,563.8 606.0,562.9 607.0,562.0 608.0,561.0 609.0,559.8 610.0,558.3 611.0,556.5 612.0,554.4 613.0,552.0 614.0,549.8 615.0,547.7 616.0,545.5 617.0,543.1 618.0,540.7 619.0,538.5 620.0,536.4 621.0,534.5 622.0,532.8 623.0,531.2 624.0,529.6 625.0,528.2 626.0,526.7 627.0,525.2 628.0,523.5 629.0,521.5 630.0,519.3 631.0,516.7 632.0,514.3 633.0,512.1 634.0,509.9 635.0,507.5 636.0,505.1 637.0,502.8 638.0,500.6 639.0,498.7 640.0,496.9 641.0,495.3 642.0,494.0 643.0,492.9 644.0,491.9 645.0,491.2 646.0,490.7 647.0,490.1 648.0,489.5 649.0,488.9 650.0,488.2 651.0,487.4 652.0,486.4 653.0,485.4 654.0,484.5 655.0,483.7 656.0,483.0 657.0,482.3 658.0,481.7 659.0,481.3 660.0,481.0 661.0,480.9 662.0,481.0 663.0,481.3 664.0,481.8 665.0,482.0 666.0,482.3 667.0,482.7 668.0,483.2 669.0,483.8 670.0,484.4 671.0,484.8 672.0,485.2 673.0,485.5 674.0,485.9 675.0,486.4 676.0,487.1 677.0,487.6 678.0,488.1 679.0,488.5 680.0,488.9 681.0,489.4 682.0,490.1 683.0,491.0 684.0,492.1 685.0,493.2 686.0,494.2 687.0,495.2 688.0,496.1 689.0,496.7 690.0,497.2 691.0,497.5 692.0,497.8 693.0,498.1 694.0,498.3 695.0,498.5 696.0,499.0 697.0,499.5 698.0,500.0 699.0,500.6 700.0,501.3 701.0,502.1 702.0,503.0 703.0,504.0 704.0,504.9 705.0,505.6 706.0,506.3 707.0,506.6 708.0,506.9 709.0,507.2 710.0,507.5 711.0,507.8 712.0,508.3 713.0,508.9 714.0,509.5 715.0,509.8 716.0,510.1 717.0,510.4 718.0,510.7 719.0,510.9 720.0,511.1 721.0,511.3 722.0,511.9 723.0,512.4 724.0,512.8 725.0,513.2 726.0,513.3 727.0,513.4 728.0,513.5 729.0,513.6 730.0,513.6 731.0,513.5 732.0,513.2 733.0,512.8 734.0,512.2 735.0,511.4 736.0,510.6 737.0,509.7 738.0,508.9 739.0,508.0 740.0,507.1 741.0,506.1 742.0,505.1 743.0,504.2 744.0,503.4 745.0,502.5 746.0,501.6 747.0,501.0 748.0,500.5 749.0,499.9 750.0,499.4 751.0,499.0 752.0,498.7 753.0,498.7 754.0,499.1 755.0,499.9 756.0,500.7 757.0,501.3 758.0,502.0 759.0,502.6 760.0,503.3 761.0,503.9 762.0,504.6 763.0,505.4 764.0,506.1 765.0,506.8 766.0,507.5 767.0,508.3 768.0,509.3 769.0,510.2 770.0,511.3 771.0,512.3 772.0,513.4 773.0,514.4 774.0,515.5 775.0,516.3 776.0,516.8 777.0,517.1 778.0,517.3 779.0,517.2 780.0,516.9 781.0,516.8 782.0,516.8 783.0,516.7 784.0,516.3 785.0,515.6 786.0,514.5 787.0,513.2 788.0,511.9 789.0,510.8 790.0,509.7 791.0,508.7 792.0,507.6 793.0,506.6 794.0,505.6 795.0,504.5 796.0,503.6 797.0,502.7 798.0,502.0 799.0,501.2 800.0,500.4 801.0,499.6 802.0,498.8 803.0,498.0 804.0,497.4 805.0,496.7 806.0,496.2 807.0,495.6 808.0,495.3 809.0,495.1 810.0,495.0 811.0,495.0 812.0,495.1 813.0,495.2 814.0,495.1 815.0,494.9 816.0,494.9 817.0,494.5 818.0,494.0 819.0,493.4 820.0,492.7 821.0,491.9 822.0,491.2 823.0,490.5 824.0,489.8 825.0,489.1 826.0,488.4 827.0,487.6 828.0,487.0 829.0,486.3 830.0,485.7 831.0,485.1 832.0,484.6 833.0,484.1 834.0,483.6 835.0,483.2 836.0,482.8 837.0,482.5 838.0,482.3 839.0,482.0 840.0,481.8 841.0,481.5 842.0,481.2 843.0,480.8 844.0,480.5 845.0,480.2 846.0,479.9 847.0,479.5 848.0,479.1 849.0,479.0 850.0,479.1 851.0,479.2 852.0,479.2 853.0,479.2 854.0,479.2 855.0,479.2 856.0,479.2 857.0,479.1 858.0,478.9 859.0,478.7 860.0,478.4 861.0,478.0 862.0,477.5 863.0,476.9 864.0,476.1 865.0,475.2 866.0,474.1 867.0,473.0 868.0,471.8 869.0,470.2 870.0,468.4 871.0,466.6 872.0,464.8 873.0,463.0 874.0,461.4 875.0,460.0 876.0,458.4 877.0,456.7 878.0,454.9 879.0,453.3 880.0,451.7 881.0,450.1 882.0,448.6 883.0,446.9 884.0,445.0 885.0,443.0 886.0,440.9 887.0,438.9 888.0,436.8 889.0,434.5 890.0,432.2 891.0,429.7 892.0,426.9 893.0,423.9 894.0,420.6 895.0,417.3 896.0,414.6 897.0,411.8 898.0,409.1 899.0,406.5 900.0,404.2 901.0,402.2 902.0,400.6 903.0,399.1 904.0,397.7 905.0,396.2 906.0,394.5 907.0,392.4 908.0,390.1 909.0,387.6 910.0,385.1 911.0,382.5 912.0,379.9 913.0,377.2 914.0,374.4 915.0,371.5 916.0,369.0 917.0,366.9 918.0,365.1 919.0,363.3 920.0,361.5 921.0,359.7 922.0,357.8 923.0,355.9 924.0,354.1 925.0,352.6 926.0,351.1 927.0,350.0 928.0,348.8 929.0,347.6 930.0,346.7 931.0,345.7 932.0,344.5 933.0,343.1 934.0,341.6 935.0,340.1 936.0,338.6 937.0,337.1 938.0,335.7 939.0,334.2 940.0,333.0 941.0,332.2 942.0,331.7 943.0,331.4 944.0,331.1 945.0,330.9 946.0,330.8 947.0,330.8 948.0,330.7 949.0,330.5 950.0,330.1 951.0,329.6 952.0,329.2 953.0,329.1 954.0,329.3 955.0,330.0 956.0,330.9 957.0,331.9 958.0,332.9 959.0,334.0 960.0,335.1 961.0,336.1 962.0,337.1 963.0,338.0 964.0,339.2 965.0,340.5 966.0,341.8 967.0,343.0 968.0,344.0 969.0,345.2 970.0,346.7 971.0,348.6 972.0,350.4 973.0,352.2 974.0,353.6 975.0,354.9 976.0,356.1 977.0,357.4 978.0,358.7 979.0,360.2 980.0,361.7 981.0,363.3 982.0,365.1 983.0,367.0 984.0,369.0 985.0,370.8 986.0,372.4 987.0,373.0 988.0,373.1 989.0,373.0 990.0,372.8 991.0,372.7 992.0,372.4 993.0,371.7 994.0,370.9 995.0,370.2 996.0,369.4 997.0,368.4 998.0,367.6 999.0,366.9 1000.0,366.1 1001.0,365.4 1002.0,364.5 1003.0,363.4 1004.0,362.3 1005.0,361.2 1006.0,360.0 1007.0,358.9 1008.0,357.9 1009.0,357.0 1010.0,356.2 1011.0,355.4 1012.0,354.5 1013.0,353.6 1014.0,352.9 1015.0,352.1 1016.0,351.2 1017.0,350.4 1018.0,349.7 1019.0,349.0 1020.0,348.2 1021.0,347.4 1022.0,346.4 1023.0,345.4 1024.0,344.4 1025.0,343.3 1026.0,342.3 1027.0,341.2 1028.0,340.1 1029.0,339.2 1030.0,338.3 1031.0,337.5 1032.0,336.7 1033.0,336.0 1034.0,335.3 1035.0,334.5 1036.0,333.6 1037.0,332.6 1038.0,331.7 1039.0,331.1 1040.0,330.6 1041.0,330.0 1042.0,329.4 1043.0,328.7 1044.0,328.1 1045.0,327.5 1046.0,326.8 1047.0,326.2 1048.0,325.7 1049.0,325.3 1050.0,324.9 1051.0,324.7 1052.0,324.7 1053.0,324.9 1054.0,325.2 1055.0,325.5 1056.0,326.0 1057.0,326.4 1058.0,327.0 1059.0,327.8 1060.0,328.7 1061.0,329.6 1062.0,330.5 1063.0,331.4 1064.0,332.3 1065.0,333.4 1066.0,334.4 1067.0,335.5 1068.0,336.7 1069.0,338.0 1070.0,339.5 1071.0,341.0 1072.0,342.5 1073.0,343.9 1074.0,345.1 1075.0,346.4 1076.0,347.7 1077.0,349.1 1078.0,350.3 1079.0,351.2 1080.0,351.9 1081.0,352.5 1082.0,352.9 1083.0,353.3 1084.0,353.7 1085.0,354.2 1086.0,354.9 1087.0,355.5 1088.0,356.1 1089.0,356.6 1090.0,357.0 1091.0,357.6 1092.0,358.2 1093.0,358.7 1094.0,359.1 1095.0,359.3 1096.0,359.4 1097.0,359.5 1098.0,359.5 1099.0,359.4 1100.0,359.3 1101.0,359.1 1102.0,358.7 1103.0,358.2 1104.0,357.6 1105.0,357.0 1106.0,356.5 1107.0,356.3 1108.0,356.1 1109.0,355.9 1110.0,355.7 1111.0,355.6 1112.0,355.8 1113.0,356.0 1114.0,356.2 1115.0,356.5 1116.0,356.7 1117.0,356.9 1118.0,356.9 1119.0,356.9 1120.0,357.3 1121.0,357.9 1122.0,358.7 1123.0,359.6 1124.0,360.3 1125.0,361.0 1126.0,361.8 1127.0,362.6 1128.0,363.4 1129.0,364.3 1130.0,365.1 1131.0,366.0 1132.0,367.0 1133.0,368.0 1134.0,369.2 1135.0,370.5 1136.0,371.9 1137.0,373.5 1138.0,375.2 1139.0,376.9 1140.0,378.6 1141.0,380.3 1142.0,382.1 1143.0,384.0 1144.0,385.9 1145.0,388.0 1146.0,390.1 1147.0,392.1 1148.0,394.0 1149.0,395.9 1150.0,397.9 1151.0,399.9 1152.0,401.6 1153.0,402.9 1154.0,403.9 1155.0,404.5 1156.0,405.2 1157.0,405.9 1158.0,406.7 1159.0,407.6 1160.0,408.4 1161.0,409.2 1162.0,410.0 1163.0,410.8 1164.0,411.6 1165.0,412.5 1166.0,413.4 1167.0,414.3 1168.0,415.1 1169.0,415.7 1170.0,416.1 1171.0,416.3 1172.0,416.2 1173.0,416.1 1174.0,416.0 1175.0,416.0 1176.0,416.0 1177.0,415.9 1178.0,415.6 1179.0,415.3 1180.0,415.0 1181.0,415.0 1182.0,415.0 1183.0,415.1 1184.0,415.2 1185.0,415.5 1186.0,415.9 1187.0,416.4 1188.0,416.8 1189.0,417.3 1190.0,417.7 1191.0,418.0 1192.0,418.4 1193.0,418.8 1194.0,419.4 1195.0,420.0 1196.0,420.6 1197.0,421.2 1198.0,421.8 1199.0,422.4 1200.0,422.9 1201.0,423.4 1202.0,423.7 1203.0,423.9 1204.0,424.0 1205.0,424.1 1206.0,424.2 1207.0,424.4 1208.0,424.8 1209.0,425.4 1210.0,425.9 1211.0,426.5 1212.0,427.3 1213.0,428.1 1214.0,428.8 1215.0,429.3 1216.0,429.7 1217.0,430.0 1218.0,430.3 1219.0,430.7 1220.0,431.0 1221.0,431.4 1222.0,431.8 1223.0,432.2 1224.0,432.6 1225.0,433.0 1226.0,433.4 1227.0,433.8 1228.0,434.2 1229.0,434.6 1230.0,435.1 1231.0,435.5 1232.0,436.0 1233.0,436.5 1234.0,437.1 1235.0,437.6 1236.0,438.2 1237.0,438.5 1238.0,438.6 1239.0,438.4 1240.0,438.0 1241.0,437.3 1242.0,436.4 1243.0,435.6 1244.0,434.6 1245.0,433.5 1246.0,432.4 1247.0,431.2 1248.0,430.2 1249.0,429.3 1250.0,428.5 1251.0,427.6 1252.0,426.7 1253.0,425.7 1254.0,424.7 1255.0,423.6 1256.0,422.6 1257.0,421.7 1258.0,420.7 1259.0,419.8 1260.0,418.9 1261.0,418.1 1262.0,417.3 1263.0,416.5 1264.0,415.8 1265.0,415.2 1266.0,414.3 1267.0,413.1 1268.0,411.7 1269.0,410.5 1270.0,409.6 1271.0,408.7 1272.0,407.9 1273.0,407.2 1274.0,406.4 1275.0,405.7 1276.0,405.0 1277.0,404.2 1278.0,403.5 1279.0,402.7 1280.0,402.0 1281.0,401.2 1282.0,400.5 1283.0,399.8 1284.0,399.1 1285.0,398.5 1286.0,398.0 1287.0,397.4 1288.0,397.0 1289.0,396.5 1290.0,396.0 1291.0,395.5 1292.0,395.0 1293.0,394.4 1294.0,393.9 1295.0,393.4 1296.0,392.8 1297.0,392.1 1298.0,391.6 1299.0,391.4 1300.0,391.4 1301.0,391.5 1302.0,391.6 1303.0,391.7 1304.0,391.8 1305.0,391.9 1306.0,392.1 1307.0,392.3 1308.0,392.7 1309.0,393.0 1310.0,393.3 1311.0,393.4 1312.0,393.4 1313.0,393.4 1314.0,393.3 1315.0,393.1 1316.0,392.9 1317.0,392.8 1318.0,392.7 1319.0,392.6 1320.0,392.4 1321.0,392.3 1322.0,392.0 1323.0,391.8 1324.0,391.6 1325.0,391.4 1326.0,391.2 1327.0,391.0 1328.0,390.8 1329.0,390.6 1330.0,390.4 1331.0,390.3 1332.0,390.1 1333.0,389.9 1334.0,389.7 1335.0,389.5 1336.0,389.3 1337.0,389.1 1338.0,388.9 1339.0,388.9 1340.0,388.9 1341.0,388.9 1342.0,388.9 1343.0,389.0 1344.0,389.3 1345.0,389.7 1346.0,390.1 1347.0,390.6 1348.0,391.0 1349.0,391.5 1350.0,391.9 1351.0,392.3 1352.0,392.7 1353.0,393.1 1354.0,393.6 1355.0,394.0 1356.0,394.4 1357.0,394.9 1358.0,395.2 1359.0,395.6 1360.0,395.9 1361.0,396.1 1362.0,396.4 1363.0,396.6 1364.0,396.7 1365.0,396.9 1366.0,397.0 1367.0,397.0 1368.0,397.0 1369.0,396.8 1370.0,396.4 1371.0,395.7 1372.0,394.9 1373.0,394.0 1374.0,393.1 1375.0,392.3 1376.0,391.4 1377.0,390.5 1378.0,389.5 1379.0,388.5 1380.0,387.5 1381.0,386.5 1382.0,385.5 1383.0,384.6 1384.0,383.6 1385.0,382.6 1386.0,381.6 1387.0,380.6 1388.0,379.5 1389.0,378.1 1390.0,376.7 1391.0,375.2 1392.0,374.0 1393.0,372.8 1394.0,371.5 1395.0,370.3 1396.0,369.0 1397.0,367.8 1398.0,366.7 1399.0,365.6 1400.0,364.6 1401.0,363.6 1402.0,362.7 1403.0,362.0 1404.0,361.2 1405.0,360.3 1406.0,359.5 1407.0,358.7 1408.0,358.1 1409.0,357.6 1410.0,357.1 1411.0,356.7 1412.0,356.4 1413.0,356.2 1414.0,355.9 1415.0,355.7 1416.0,355.3 1417.0,354.9 1418.0,354.6 1419.0,354.2 1420.0,353.8 1421.0,353.4 1422.0,353.0 1423.0,352.6 1424.0,352.0 1425.0,351.4 1426.0,350.8 1427.0,350.1 1428.0,349.4 1429.0,348.5 1430.0,347.4 1431.0,346.1 1432.0,344.5 1433.0,342.9 1434.0,341.3 1435.0,339.7 1436.0,338.1 1437.0,336.8 1438.0,335.6 1439.0,334.6 1440.0,333.4 1441.0,332.1 1442.0,330.7 1443.0,329.2 1444.0,327.8 1445.0,326.4 1446.0,325.0 1447.0,323.7 1448.0,322.3 1449.0,321.0 1450.0,319.9 1451.0,318.9 1452.0,318.0 1453.0,317.2 1454.0,316.5 1455.0,315.8 1456.0,315.2 1457.0,314.7 1458.0,314.3 1459.0,314.0 1460.0,313.7 1461.0,313.5 1462.0,313.4 1463.0,313.4 1464.0,313.6 1465.0,313.9 1466.0,314.1 1467.0,314.2 1468.0,314.4 1469.0,314.5 1470.0,314.6 1471.0,314.5 1472.0,314.4 1473.0,314.4 1474.0,314.4 1475.0,314.4 1476.0,314.4 1477.0,314.4 1478.0,314.4 1479.0,314.4 1480.0,314.6 1481.0,314.8 1482.0,315.0 1483.0,315.2 1484.0,315.3 1485.0,315.4 1486.0,315.5 1487.0,315.7 1488.0,316.0 1489.0,316.2 1490.0,316.4 1491.0,316.5 1492.0,316.5 1493.0,316.7 1494.0,316.8 1495.0,316.7 1496.0,316.5 1497.0,316.3 1498.0,316.2 1499.0,316.2 1500.0,316.3 1501.0,316.4 1502.0,316.7 1503.0,317.1 1504.0,317.7 1505.0,318.2 1506.0,318.6 1507.0,319.0 1508.0,319.4 1509.0,319.9 1510.0,320.2 1511.0,320.5 1512.0,320.8 1513.0,320.9 1514.0,321.0 1515.0,321.1 1516.0,321.2 1517.0,321.4 1518.0,321.6 1519.0,321.9 1520.0,322.1 1521.0,322.1 1522.0,322.1 1523.0,322.0 1524.0,321.9 1525.0,321.7 1526.0,321.5 1527.0,321.4 1528.0,321.4 1529.0,321.5 1530.0,321.6 1531.0,321.9 1532.0,322.1 1533.0,322.3 1534.0,322.4 1535.0,322.3 1536.0,321.8 1537.0,321.4 1538.0,321.0 1539.0,320.7 1540.0,320.4 1541.0,320.0 1542.0,319.7 1543.0,319.3 1544.0,318.8 1545.0,318.4 1546.0,318.2 1547.0,317.6 1548.0,316.8 1549.0,315.7 1550.0,314.5 1551.0,313.0 1552.0,311.5 1553.0,310.1 1554.0,308.5 1555.0,307.0 1556.0,305.6 1557.0,304.3 1558.0,303.0 1559.0,301.7 1560.0,300.5 1561.0,299.3 1562.0,298.1 1563.0,296.9 1564.0,295.5 1565.0,294.1 1566.0,292.6 1567.0,291.2 1568.0,290.0 1569.0,288.9 1570.0,288.0 1571.0,287.1 1572.0,286.2 1573.0,285.4 1574.0,284.6 1575.0,283.7 1576.0,282.8 1577.0,282.0 1578.0,281.3 1579.0,280.6 1580.0,279.9 1581.0,279.2 1582.0,278.6 1583.0,278.2 1584.0,277.8 1585.0,277.5 1586.0,277.2 1587.0,277.0 1588.0,276.8 1589.0,276.6 1590.0,276.6 1591.0,276.6 1592.0,276.6 1593.0,276.6 1594.0,276.7 1595.0,276.7 1596.0,276.7 1597.0,276.8 1598.0,277.1 1599.0,277.4 1600.0,277.9 1601.0,278.3 1602.0,278.7 1603.0,278.9 1604.0,279.2 1605.0,279.6 1606.0,279.9 1607.0,280.3 1608.0,280.8 1609.0,281.2 1610.0,281.5 1611.0,281.8 1612.0,282.1 1613.0,282.5 1614.0,283.0 1615.0,283.6 1616.0,284.2 1617.0,284.8 1618.0,285.4 1619.0,286.2 1620.0,286.9 1621.0,287.6 1622.0,288.1 1623.0,288.5 1624.0,288.8 1625.0,289.1 1626.0,289.2 1627.0,289.3 1628.0,289.4 1629.0,289.5 1630.0,289.6 1631.0,289.5 1632.0,289.3 1633.0,288.8 1634.0,288.2 1635.0,287.7 1636.0,287.1 1637.0,286.4 1638.0,285.5 1639.0,284.7 1640.0,283.9 1641.0,283.1 1642.0,282.4 1643.0,281.8 1644.0,281.2 1645.0,280.7 1646.0,280.2 1647.0,279.6 1648.0,278.9 1649.0,278.2 1650.0,277.6 1651.0,276.9 1652.0,276.1 1653.0,275.5 1654.0,274.9 1655.0,274.2 1656.0,273.6 1657.0,273.0 1658.0,272.5 1659.0,272.1 1660.0,271.7 1661.0,271.3 1662.0,270.7 1663.0,270.2 1664.0,269.5 1665.0,268.9 1666.0,268.4 1667.0,268.0 1668.0,267.7 1669.0,267.3 1670.0,267.0 1671.0,266.7 1672.0,266.6 1673.0,266.4 1674.0,266.3 1675.0,266.1 1676.0,265.8 1677.0,265.4 1678.0,265.0 1679.0,264.5 1680.0,264.2 1681.0,264.0 1682.0,263.9 1683.0,263.7 1684.0,263.6 1685.0,263.5 1686.0,263.4 1687.0,263.4 1688.0,263.3 1689.0,263.2 1690.0,263.1 1691.0,263.0 1692.0,262.9 1693.0,262.8 1694.0,262.7 1695.0,262.7 1696.0,262.8 1697.0,262.9 1698.0,263.0 1699.0,263.3 1700.0,263.4 1701.0,263.5 1702.0,263.5"/>
<polyline stroke="#00ee00" points="17.0,827.7 18.0,825.8 19.0,823.0 20.0,819.4 21.0,816.0 22.0,813.2 23.0,811.3 24.0,809.5 25.0,807.9 26.0,806.3 27.0,804.9 28.0,803.8 29.0,803.0 30.0,802.1 31.0,801.2 32.0,800.9 33.0,801.2 34.0,801.4 35.0,800.9 36.0,799.5 37.0,797.8 38.0,795.9 39.0,793.9 40.0,791.6 41.0,789.4 42.0,787.3 43.0,785.6 44.0,784.3 45.0,783.2 46.0,782.2 47.0,781.3 48.0,780.6 49.0,780.0 50.0,779.6 51.0,779.6 52.0,780.2 53.0,781.1 54.0,781.8 55.0,782.4 56.0,783.0 57.0,783.6 58.0,784.3 59.0,785.1 60.0,786.0 61.0,787.0 62.0,788.2 63.0,789.5 64.0,790.3 65.0,790.7 66.0,790.8 67.0,790.8 68.0,790.5 69.0,789.9 70.0,789.3 71.0,788.5 72.0,787.6 73.0,786.6 74.0,785.6 75.0,784.9 76.0,784.3 77.0,783.6 78.0,783.1 79.0,782.6 80.0,782.3 81.0,782.3 82.0,782.6 83.0,782.9 84.0,783.1 85.0,783.4 86.0,783.8 87.0,784.1 88.0,784.2 89.0,784.1 90.0,784.1 91.0,784.1 92.0,784.1 93.0,784.1 94.0,783.9 95.0,783.7 96.0,783.4 97.0,782.9 98.0,782.1 99.0,781.3 100.0,780.5 101.0,779.7 102.0,779.1 103.0,778.4 104.0,777.7 105.0,777.0 106.0,776.4 107.0,775.8 108.0,775.3 109.0,775.0 110.0,774.8 111.0,774.8 112.0,774.8 113.0,774.7 114.0,774.4 115.0,773.5 116.0,772.3 117.0,770.7 118.0,769.0 119.0,766.9 120.0,764.4 121.0,761.3 122.0,757.9 123.0,754.3 124.0,750.9 125.0,748.5 126.0,746.5 127.0,744.9 128.0,743.6 129.0,742.4 130.0,741.3 131.0,740.3 132.0,739.7 133.0,739.7 134.0,740.1 135.0,740.9 136.0,741.8 137.0,742.6 138.0,742.6 139.0,742.3 140.0,742.0 141.0,741.7 142.0,741.6 143.0,741.8 144.0,742.3 145.0,743.4 146.0,744.6 147.0,745.7 148.0,746.6 149.0,747.6 150.0,748.8 151.0,750.0 152.0,751.1 153.0,752.1 154.0,753.0 155.0,753.9 156.0,754.5 157.0,754.9 158.0,754.6 159.0,753.7 160.0,753.1 161.0,752.6 162.0,752.1 163.0,751.5 164.0,751.0 165.0,750.5 166.0,750.1 167.0,749.7 168.0,749.5 169.0,749.3 170.0,749.1 171.0,749.0 172.0,748.8 173.0,748.7 174.0,748.5 175.0,748.3 176.0,748.1 177.0,747.9 178.0,747.6 179.0,747.3 180.0,747.0 181.0,746.6 182.0,746.2 183.0,745.6 184.0,744.8 185.0,743.8 186.0,742.8 187.0,741.8 188.0,740.9 189.0,739.9 190.0,739.0 191.0,738.1 192.0,737.1 193.0,736.1 194.0,735.1 195.0,734.1 196.0,733.3 197.0,732.8 198.0,732.4 199.0,732.1 200.0,731.7 201.0,731.4 202.0,731.0 203.0,730.5 204.0,730.0 205.0,729.5 206.0,729.1 207.0,728.6 208.0,728.1 209.0,727.4 210.0,726.5 211.0,725.3 212.0,723.8 213.0,722.1 214.0,720.2 215.0,718.1 216.0,715.8 217.0,713.6 218.0,712.0 219.0,711.4 220.0,711.5 221.0,711.3 222.0,710.9 223.0,710.6 224.0,710.4 225.0,710.3 226.0,710.5 227.0,711.0 228.0,711.7 229.0,712.7 230.0,713.3 231.0,713.3 232.0,711.9 233.0,709.9 234.0,708.4 235.0,707.4 236.0,706.5 237.0,705.5 238.0,704.5 239.0,703.2 240.0,701.4 241.0,699.4 242.0,697.3 243.0,695.4 244.0,693.7 245.0,692.4 246.0,691.2 247.0,689.8 248.0,688.2 249.0,687.2 250.0,686.9 251.0,687.1 252.0,687.8 253.0,688.5 254.0,689.2 255.0,689.9 256.0,690.6 257.0,691.1 258.0,691.5 259.0,691.7 260.0,692.0 261.0,692.4 262.0,692.3 263.0,691.5 264.0,690.1 265.0,688.6 266.0,687.2 267.0,685.8 268.0,684.2 269.0,682.2 270.0,679.9 271.0,677.0 272.0,673.9 273.0,670.9 274.0,667.9 275.0,664.7 276.0,660.3 277.0,655.6 278.0,650.5 279.0,645.3 280.0,640.3 281.0,635.7 282.0,631.4 283.0,627.4 284.0,623.8 285.0,620.4 286.0,617.2 287.0,614.2 288.0,611.7 289.0,610.2 290.0,609.3 291.0,609.0 292.0,609.1 293.0,609.5 294.0,609.9 295.0,610.3 296.0,610.8 297.0,611.5 298.0,612.5 299.0,613.8 300.0,615.3 301.0,616.8 302.0,618.1 303.0,618.5 304.0,618.2 305.0,617.5 306.0,616.7 307.0,615.9 308.0,615.3 309.0,614.6 310.0,613.2 311.0,611.1 312.0,608.3 313.0,604.7 314.0,600.5 315.0,595.9 316.0,591.9 317.0,588.4 318.0,585.2 319.0,582.0 320.0,578.8 321.0,575.6 322.0,572.4 323.0,569.5 324.0,566.9 325.0,565.2 326.0,564.3 327.0,564.1 328.0,564.8 329.0,565.9 330.0,567.4 331.0,568.8 332.0,569.9 333.0,570.9 334.0,571.9 335.0,573.1 336.0,574.4 337.0,575.6 338.0,576.1 339.0,575.9 340.0,574.8 341.0,572.9 342.0,570.1 343.0,566.6 344.0,563.1 345.0,560.0 346.0,557.1 347.0,554.4 348.0,551.8 349.0,549.1 350.0,546.1 351.0,542.9 352.0,539.8 353.0,536.9 354.0,534.2 355.0,531.9 356.0,530.2 357.0,529.0 358.0,527.9 359.0,526.4 360.0,524.4 361.0,522.0 362.0,519.4 363.0,516.9 364.0,514.5 365.0,511.6 366.0,508.2 367.0,504.1 368.0,498.7 369.0,492.1 370.0,484.9 371.0,477.6 372.0,470.8 373.0,465.0 374.0,460.5 375.0,457.2 376.0,454.0 377.0,450.9 378.0,448.6 379.0,446.9 380.0,445.3 381.0,444.2 382.0,444.0 383.0,445.0 384.0,446.8 385.0,449.0 386.0,451.4 387.0,453.5 388.0,455.3 389.0,457.4 390.0,459.9 391.0,462.1 392.0,464.5 393.0,467.8 394.0,472.2 395.0,477.5 396.0,482.2 397.0,486.0 398.0,489.4 399.0,492.2 400.0,493.9 401.0,494.2 402.0,494.7 403.0,495.2 404.0,495.1 405.0,494.3 406.0,492.9 407.0,491.0 408.0,488.1 409.0,485.5 410.0,484.2 411.0,483.4 412.0,483.1 413.0,483.7 414.0,485.2 415.0,486.6 416.0,487.7 417.0,489.3 418.0,491.5 419.0,494.3 420.0,497.5 421.0,501.0 422.0,504.3 423.0,507.3 424.0,510.0 425.0,512.2 426.0,513.8 427.0,514.7 428.0,515.1 429.0,515.3 430.0,515.1 431.0,514.3 432.0,512.8 433.0,511.1 434.0,509.2 435.0,507.1 436.0,504.9 437.0,502.5 438.0,500.5 439.0,498.9 440.0,497.9 441.0,497.5 442.0,497.6 443.0,498.0 444.0,498.8 445.0,499.9 446.0,501.1 447.0,502.4 448.0,504.0 449.0,505.8 450.0,507.6 451.0,509.3 452.0,510.8 453.0,512.2 454.0,513.7 455.0,515.2 456.0,516.7 457.0,518.4 458.0,520.0 459.0,521.4 460.0,522.6 461.0,523.8 462.0,525.3 463.0,526.7 464.0,528.2 465.0,529.5 466.0,530.3 467.0,530.7 468.0,530.6 469.0,530.2 470.0,529.4 471.0,528.3 472.0,527.0 473.0,525.4 474.0,523.5 475.0,521.4 476.0,519.2 477.0,517.6 478.0,516.4 479.0,515.8 480.0,515.7 481.0,516.0 482.0,516.5 483.0,517.2 484.0,518.3 485.0,519.6 486.0,521.2 487.0,522.8 488.0,524.5 489.0,526.1 490.0,527.3 491.0,528.0 492.0,528.2 493.0,527.9 494.0,527.3 495.0,526.9 496.0,526.6 497.0,526.3 498.0,526.1 499.0,525.9 500.0,525.8 501.0,525.8 502.0,525.8 503.0,526.0 504.0,526.3 505.0,526.7 506.0,527.3 507.0,527.8 508.0,528.1 509.0,528.3 510.0,528.4 511.0,528.6 512.0,528.8 513.0,529.1 514.0,529.4 515.0,529.6 516.0,529.9 517.0,530.1 518.0,530.4 519.0,530.7 520.0,530.9 521.0,531.1 522.0,531.2 523.0,531.2 524.0,531.1 525.0,530.8 526.0,530.7 527.0,531.3 528.0,532.4 529.0,534.1 530.0,536.2 531.0,538.7 532.0,541.5 533.0,544.7 534.0,548.1 535.0,551.7 536.0,555.2 537.0,559.1 538.0,563.5 539.0,568.1 540.0,572.2 541.0,575.6 542.0,578.1 543.0,579.7 544.0,580.5 545.0,580.8 546.0,580.8 547.0,580.7 548.0,580.8 549.0,581.1 550.0,581.1 551.0,580.5 552.0,579.6 553.0,578.8 554.0,578.3 555.0,578.2 556.0,578.3 557.0,578.8 558.0,579.4 559.0,579.8 560.0,580.1 561.0,580.5 562.0,580.8 563.0,581.4 564.0,582.3 565.0,583.3 566.0,584.2 567.0,584.8 568.0,585.1 569.0,585.3 570.0,585.5 571.0,585.6 572.0,585.3 573.0,584.8 574.0,584.1 575.0,583.4 576.0,582.8 577.0,582.2 578.0,581.6 579.0,580.8 580.0,580.1 581.0,579.4 582.0,578.7 583.0,578.2 584.0,577.9 585.0,577.7 586.0,577.7 587.0,577.6 588.0,577.4 589.0,577.0 590.0,576.4 591.0,575.4 592.0,574.0 593.0,571.7 594.0,569.3 595.0,567.1 596.0,565.1 597.0,563.2 598.0,561.2 599.0,559.2 600.0,557.2 601.0,555.2 602.0,553.3 603.0,551.4 604.0,549.8 605.0,548.7 606.0,548.5 607.0,548.4 608.0,547.9 609.0,547.1 610.0,545.7 611.0,543.6 612.0,540.8 613.0,537.4 614.0,534.4 615.0,531.7 616.0,528.8 617.0,525.5 618.0,522.1 619.0,519.0 620.0,516.1 621.0,513.8 622.0,511.9 623.0,510.5 624.0,509.4 625.0,508.7 626.0,508.2 627.0,507.4 628.0,506.1 629.0,504.5 630.0,502.8 631.0,500.2 632.0,497.6 633.0,495.4 634.0,492.7 635.0,489.4 636.0,486.2 637.0,483.2 638.0,480.7 639.0,478.9 640.0,477.5 641.0,476.6 642.0,476.4 643.0,476.6 644.0,477.4 645.0,478.5 646.0,479.4 647.0,480.5 648.0,481.9 649.0,483.2 650.0,484.2 651.0,484.4 652.0,484.1 653.0,483.7 654.0,483.4 655.0,483.1 656.0,482.9 657.0,482.7 658.0,482.4 659.0,482.0 660.0,481.7 661.0,481.8 662.0,482.4 663.0,483.1 664.0,483.9 665.0,484.8 666.0,485.7 667.0,486.2 668.0,486.5 669.0,486.8 670.0,487.2 671.0,487.5 672.0,487.8 673.0,488.1 674.0,488.9 675.0,489.8 676.0,491.1 677.0,492.7 678.0,494.4 679.0,496.0 680.0,497.5 681.0,498.9 682.0,500.4 683.0,502.0 684.0,503.7 685.0,505.2 686.0,506.7 687.0,507.6 688.0,508.3 689.0,507.8 690.0,506.9 691.0,506.0 692.0,505.1 693.0,504.4 694.0,503.9 695.0,503.4 696.0,502.9 697.0,502.3 698.0,501.8 699.0,501.3 700.0,501.0 701.0,500.8 702.0,501.8 703.0,503.3 704.0,505.0 705.0,506.5 706.0,508.0 707.0,509.4 708.0,510.9 709.0,512.3 710.0,513.6 711.0,514.9 712.0,516.3 713.0,517.7 714.0,518.6 715.0,518.8 716.0,518.8 717.0,519.0 718.0,519.2 719.0,519.5 720.0,519.8 721.0,519.8 722.0,519.5 723.0,518.9 724.0,518.2 725.0,516.9 726.0,515.0 727.0,513.3 728.0,512.1 729.0,510.8 730.0,509.5 731.0,508.0 732.0,506.4 733.0,504.7 734.0,503.0 735.0,501.5 736.0,500.1 737.0,498.8 738.0,497.6 739.0,496.5 740.0,495.4 741.0,494.3 742.0,493.1 743.0,492.2 744.0,491.6 745.0,491.2 746.0,491.1 747.0,491.3 748.0,491.7 749.0,492.2 750.0,492.9 751.0,493.8 752.0,495.3 753.0,497.5 754.0,500.9 755.0,504.8 756.0,508.6 757.0,511.7 758.0,514.6 759.0,517.1 760.0,519.5 761.0,521.6 762.0,523.9 763.0,526.3 764.0,528.3 765.0,529.4 766.0,529.4 767.0,528.2 768.0,526.6 769.0,525.1 770.0,524.4 771.0,523.8 772.0,523.2 773.0,522.6 774.0,521.8 775.0,520.6 776.0,518.7 777.0,516.7 778.0,514.8 779.0,512.8 780.0,510.3 781.0,508.2 782.0,506.7 783.0,504.9 784.0,502.9 785.0,501.0 786.0,499.3 787.0,497.9 788.0,497.1 789.0,496.7 790.0,496.4 791.0,496.0 792.0,495.8 793.0,495.9 794.0,495.5 795.0,494.7 796.0,494.4 797.0,494.4 798.0,494.5 799.0,494.5 800.0,494.3 801.0,493.8 802.0,493.5 803.0,493.4 804.0,493.6 805.0,493.9 806.0,494.2 807.0,494.5 808.0,494.8 809.0,494.9 810.0,495.1 811.0,495.2 812.0,495.3 813.0,495.5 814.0,495.7 815.0,495.9 816.0,495.7 817.0,494.5 818.0,493.1 819.0,491.6 820.0,490.0 821.0,488.5 822.0,486.8 823.0,485.1 824.0,483.3 825.0,481.4 826.0,479.4 827.0,477.4 828.0,475.8 829.0,474.4 830.0,474.0 831.0,473.7 832.0,473.6 833.0,473.6 834.0,473.8 835.0,474.1 836.0,474.7 837.0,475.8 838.0,477.0 839.0,478.4 840.0,479.7 841.0,480.7 842.0,481.5 843.0,482.2 844.0,482.8 845.0,483.5 846.0,484.2 847.0,484.7 848.0,484.8 849.0,484.8 850.0,484.4 851.0,483.9 852.0,483.2 853.0,482.4 854.0,481.6 855.0,481.0 856.0,480.1 857.0,478.8 858.0,477.1 859.0,475.4 860.0,473.8 861.0,472.2 862.0,470.5 863.0,468.7 864.0,466.7 865.0,464.4 866.0,462.2 867.0,459.9 868.0,457.5 869.0,454.9 870.0,452.4 871.0,449.9 872.0,447.4 873.0,445.1 874.0,443.2 875.0,441.6 876.0,439.8 877.0,437.9 878.0,436.3 879.0,435.0 880.0,433.7 881.0,432.6 882.0,431.7 883.0,431.1 884.0,429.7 885.0,428.0 886.0,426.2 887.0,424.1 888.0,421.7 889.0,418.9 890.0,416.0 891.0,412.7 892.0,408.8 893.0,404.2 894.0,399.1 895.0,394.1 896.0,390.3 897.0,386.6 898.0,383.1 899.0,380.1 900.0,377.4 901.0,375.3 902.0,374.1 903.0,373.3 904.0,373.0 905.0,372.7 906.0,372.7 907.0,372.7 908.0,372.1 909.0,370.2 910.0,368.4 911.0,366.6 912.0,364.6 913.0,362.0 914.0,358.7 915.0,354.8 916.0,351.4 917.0,348.5 918.0,346.3 919.0,344.4 920.0,342.7 921.0,341.3 922.0,339.9 923.0,338.5 924.0,337.2 925.0,335.9 926.0,334.8 927.0,334.2 928.0,334.2 929.0,334.0 930.0,333.6 931.0,332.6 932.0,331.4 933.0,330.2 934.0,329.2 935.0,328.7 936.0,328.5 937.0,328.3 938.0,327.9 939.0,327.3 940.0,326.8 941.0,326.3 942.0,326.1 943.0,326.0 944.0,326.4 945.0,326.8 946.0,327.4 947.0,327.9 948.0,328.2 949.0,328.5 950.0,328.9 951.0,329.4 952.0,330.3 953.0,331.5 954.0,332.9 955.0,334.8 956.0,336.6 957.0,338.6 958.0,340.8 959.0,343.2 960.0,345.9 961.0,348.9 962.0,352.0 963.0,355.3 964.0,359.0 965.0,362.7 966.0,365.7 967.0,367.6 968.0,367.9 969.0,368.3 970.0,368.7 971.0,369.8 972.0,370.8 973.0,371.2 974.0,371.2 975.0,371.5 976.0,372.0 977.0,372.2 978.0,372.3 979.0,372.8 980.0,373.8 981.0,375.2 982.0,376.5 983.0,377.3 984.0,377.6 985.0,378.2 986.0,378.7 987.0,378.4 988.0,377.5 989.0,376.2 990.0,375.0 991.0,373.9 992.0,372.4 993.0,370.4 994.0,367.8 995.0,365.3 996.0,362.6 997.0,359.6 998.0,356.8 999.0,354.5 1000.0,352.4 1001.0,350.8 1002.0,349.4 1003.0,348.1 1004.0,346.8 1005.0,345.6 1006.0,344.5 1007.0,343.7 1008.0,343.2 1009.0,343.1 1010.0,343.3 1011.0,343.3 1012.0,343.1 1013.0,343.6 1014.0,344.4 1015.0,345.1 1016.0,345.7 1017.0,346.5 1018.0,347.4 1019.0,348.3 1020.0,348.5 1021.0,347.8 1022.0,346.5 1023.0,344.9 1024.0,343.2 1025.0,341.3 1026.0,339.0 1027.0,336.1 1028.0,333.2 1029.0,330.8 1030.0,328.4 1031.0,326.2 1032.0,324.2 1033.0,322.7 1034.0,321.6 1035.0,320.8 1036.0,319.8 1037.0,318.7 1038.0,318.0 1039.0,317.9 1040.0,318.3 1041.0,319.0 1042.0,319.5 1043.0,319.9 1044.0,320.0 1045.0,320.3 1046.0,320.9 1047.0,321.5 1048.0,322.5 1049.0,324.1 1050.0,326.1 1051.0,328.4 1052.0,330.3 1053.0,332.0 1054.0,333.5 1055.0,334.8 1056.0,336.1 1057.0,337.5 1058.0,338.9 1059.0,340.3 1060.0,341.6 1061.0,342.8 1062.0,343.8 1063.0,344.8 1064.0,345.6 1065.0,346.4 1066.0,347.3 1067.0,348.2 1068.0,349.1 1069.0,350.2 1070.0,351.6 1071.0,353.3 1072.0,355.2 1073.0,357.0 1074.0,358.5 1075.0,359.8 1076.0,360.9 1077.0,361.9 1078.0,362.4 1079.0,362.3 1080.0,361.9 1081.0,361.6 1082.0,361.3 1083.0,360.8 1084.0,360.1 1085.0,359.5 1086.0,359.3 1087.0,359.1 1088.0,358.7 1089.0,357.8 1090.0,356.9 1091.0,356.9 1092.0,357.5 1093.0,358.3 1094.0,358.9 1095.0,359.4 1096.0,359.7 1097.0,359.9 1098.0,359.5 1099.0,358.6 1100.0,357.8 1101.0,356.8 1102.0,355.9 1103.0,355.1 1104.0,354.1 1105.0,353.1 1106.0,352.5 1107.0,352.3 1108.0,352.5 1109.0,352.7 1110.0,352.7 1111.0,352.7 1112.0,353.0 1113.0,353.4 1114.0,354.3 1115.0,355.5 1116.0,356.8 1117.0,358.0 1118.0,359.2 1119.0,360.3 1120.0,361.5 1121.0,362.9 1122.0,364.7 1123.0,367.1 1124.0,369.5 1125.0,371.9 1126.0,374.2 1127.0,376.5 1128.0,378.7 1129.0,380.8 1130.0,382.7 1131.0,384.5 1132.0,386.0 1133.0,386.9 1134.0,387.1 1135.0,387.1 1136.0,387.1 1137.0,387.7 1138.0,389.0 1139.0,390.9 1140.0,393.2 1141.0,395.5 1142.0,397.9 1143.0,400.4 1144.0,403.2 1145.0,406.3 1146.0,409.9 1147.0,413.5 1148.0,416.6 1149.0,419.4 1150.0,421.5 1151.0,423.1 1152.0,423.6 1153.0,423.3 1154.0,422.5 1155.0,421.5 1156.0,420.6 1157.0,419.8 1158.0,418.9 1159.0,417.9 1160.0,416.9 1161.0,416.0 1162.0,415.0 1163.0,413.9 1164.0,412.5 1165.0,411.4 1166.0,410.7 1167.0,410.4 1168.0,410.4 1169.0,410.6 1170.0,410.8 1171.0,411.0 1172.0,411.2 1173.0,411.6 1174.0,412.3 1175.0,413.1 1176.0,414.0 1177.0,414.9 1178.0,415.7 1179.0,416.3 1180.0,417.0 1181.0,417.8 1182.0,418.7 1183.0,419.6 1184.0,420.6 1185.0,421.6 1186.0,422.3 1187.0,422.9 1188.0,423.4 1189.0,423.8 1190.0,424.2 1191.0,424.8 1192.0,425.5 1193.0,426.4 1194.0,426.9 1195.0,427.3 1196.0,427.4 1197.0,427.2 1198.0,426.9 1199.0,426.7 1200.0,426.6 1201.0,426.5 1202.0,426.3 1203.0,426.0 1204.0,425.7 1205.0,425.2 1206.0,424.9 1207.0,424.8 1208.0,425.2 1209.0,426.1 1210.0,426.8 1211.0,427.4 1212.0,428.5 1213.0,430.0 1214.0,431.5 1215.0,433.0 1216.0,434.5 1217.0,436.2 1218.0,437.9 1219.0,439.4 1220.0,440.5 1221.0,440.9 1222.0,440.8 1223.0,440.7 1224.0,440.9 1225.0,440.7 1226.0,440.4 1227.0,440.1 1228.0,439.9 1229.0,439.9 1230.0,439.9 1231.0,440.0 1232.0,440.1 1233.0,440.2 1234.0,440.3 1235.0,440.5 1236.0,440.5 1237.0,439.8 1238.0,438.4 1239.0,436.7 1240.0,434.8 1241.0,432.8 1242.0,430.6 1243.0,428.2 1244.0,425.9 1245.0,423.5 1246.0,421.2 1247.0,418.9 1248.0,416.9 1249.0,415.2 1250.0,414.2 1251.0,413.4 1252.0,412.7 1253.0,411.9 1254.0,411.1 1255.0,410.5 1256.0,409.9 1257.0,409.5 1258.0,409.3 1259.0,409.3 1260.0,409.4 1261.0,409.5 1262.0,409.4 1263.0,409.2 1264.0,409.6 1265.0,410.3 1266.0,410.2 1267.0,409.6 1268.0,408.6 1269.0,407.6 1270.0,406.6 1271.0,405.5 1272.0,404.2 1273.0,402.8 1274.0,401.3 1275.0,399.6 1276.0,397.9 1277.0,395.8 1278.0,393.5 1279.0,392.1 1280.0,391.1 1281.0,390.7 1282.0,390.4 1283.0,390.1 1284.0,389.7 1285.0,389.4 1286.0,389.1 1287.0,388.9 1288.0,388.8 1289.0,388.8 1290.0,389.0 1291.0,389.3 1292.0,389.8 1293.0,390.2 1294.0,390.6 1295.0,390.9 1296.0,391.2 1297.0,391.5 1298.0,392.0 1299.0,392.5 1300.0,393.0 1301.0,393.5 1302.0,394.0 1303.0,394.5 1304.0,394.9 1305.0,395.4 1306.0,395.9 1307.0,396.4 1308.0,396.9 1309.0,397.5 1310.0,397.6 1311.0,397.3 1312.0,396.6 1313.0,395.8 1314.0,395.0 1315.0,394.1 1316.0,393.1 1317.0,392.1 1318.0,391.2 1319.0,390.2 1320.0,389.0 1321.0,387.8 1322.0,386.5 1323.0,385.6 1324.0,385.2 1325.0,385.1 1326.0,385.1 1327.0,385.3 1328.0,385.5 1329.0,385.7 1330.0,386.0 1331.0,386.4 1332.0,386.7 1333.0,387.0 1334.0,387.4 1335.0,387.9 1336.0,388.4 1337.0,388.8 1338.0,389.4 1339.0,390.3 1340.0,391.3 1341.0,392.2 1342.0,393.0 1343.0,393.7 1344.0,394.3 1345.0,395.0 1346.0,395.9 1347.0,396.8 1348.0,397.6 1349.0,398.4 1350.0,399.1 1351.0,399.6 1352.0,399.5 1353.0,399.3 1354.0,399.1 1355.0,398.9 1356.0,399.0 1357.0,399.0 1358.0,398.9 1359.0,398.7 1360.0,398.4 1361.0,398.1 1362.0,397.8 1363.0,397.5 1364.0,397.2 1365.0,396.9 1366.0,396.4 1367.0,395.9 1368.0,395.3 1369.0,394.4 1370.0,392.8 1371.0,391.0 1372.0,389.2 1373.0,387.4 1374.0,385.5 1375.0,383.7 1376.0,381.9 1377.0,380.1 1378.0,378.4 1379.0,376.6 1380.0,374.9 1381.0,373.4 1382.0,372.2 1383.0,371.4 1384.0,370.7 1385.0,370.1 1386.0,369.4 1387.0,368.8 1388.0,368.1 1389.0,366.6 1390.0,365.1 1391.0,363.7 1392.0,362.6 1393.0,361.7 1394.0,360.7 1395.0,359.5 1396.0,358.4 1397.0,357.3 1398.0,356.3 1399.0,355.5 1400.0,354.7 1401.0,354.0 1402.0,354.0 1403.0,354.0 1404.0,353.7 1405.0,353.1 1406.0,352.2 1407.0,351.7 1408.0,351.6 1409.0,351.6 1410.0,351.7 1411.0,351.9 1412.0,352.2 1413.0,352.6 1414.0,353.1 1415.0,353.4 1416.0,353.6 1417.0,354.0 1418.0,354.7 1419.0,355.3 1420.0,355.4 1421.0,354.9 1422.0,353.8 1423.0,352.5 1424.0,351.0 1425.0,349.4 1426.0,347.5 1427.0,345.6 1428.0,343.6 1429.0,341.3 1430.0,338.7 1431.0,335.6 1432.0,332.2 1433.0,329.0 1434.0,326.1 1435.0,323.4 1436.0,320.9 1437.0,318.7 1438.0,316.9 1439.0,315.5 1440.0,313.9 1441.0,312.3 1442.0,311.1 1443.0,310.1 1444.0,309.5 1445.0,309.5 1446.0,309.8 1447.0,310.0 1448.0,310.1 1449.0,310.3 1450.0,310.6 1451.0,310.9 1452.0,311.1 1453.0,311.5 1454.0,311.9 1455.0,312.3 1456.0,313.0 1457.0,313.7 1458.0,314.5 1459.0,315.5 1460.0,316.5 1461.0,317.5 1462.0,318.4 1463.0,319.0 1464.0,319.2 1465.0,319.1 1466.0,318.9 1467.0,318.7 1468.0,318.4 1469.0,318.0 1470.0,317.5 1471.0,316.7 1472.0,315.6 1473.0,314.6 1474.0,313.8 1475.0,313.0 1476.0,312.2 1477.0,311.5 1478.0,311.0 1479.0,310.7 1480.0,310.9 1481.0,311.2 1482.0,311.5 1483.0,312.2 1484.0,313.0 1485.0,313.8 1486.0,314.5 1487.0,315.4 1488.0,316.4 1489.0,317.7 1490.0,319.0 1491.0,320.2 1492.0,321.4 1493.0,322.4 1494.0,323.3 1495.0,323.2 1496.0,322.7 1497.0,321.9 1498.0,321.2 1499.0,320.5 1500.0,320.0 1501.0,319.4 1502.0,319.1 1503.0,319.1 1504.0,319.3 1505.0,319.3 1506.0,319.0 1507.0,318.8 1508.0,319.3 1509.0,319.9 1510.0,320.7 1511.0,321.4 1512.0,321.9 1513.0,322.2 1514.0,322.5 1515.0,322.7 1516.0,322.6 1517.0,322.3 1518.0,322.5 1519.0,323.1 1520.0,323.5 1521.0,323.8 1522.0,324.0 1523.0,324.1 1524.0,324.2 1525.0,324.3 1526.0,324.4 1527.0,324.3 1528.0,323.8 1529.0,323.0 1530.0,322.1 1531.0,321.5 1532.0,320.7 1533.0,320.2 1534.0,319.8 1535.0,319.4 1536.0,318.8 1537.0,318.2 1538.0,317.6 1539.0,317.0 1540.0,316.5 1541.0,316.2 1542.0,315.9 1543.0,315.4 1544.0,314.3 1545.0,313.2 1546.0,312.4 1547.0,311.1 1548.0,309.6 1549.0,307.8 1550.0,305.8 1551.0,303.6 1552.0,301.4 1553.0,299.0 1554.0,296.5 1555.0,293.9 1556.0,291.7 1557.0,289.8 1558.0,287.8 1559.0,285.7 1560.0,283.9 1561.0,282.3 1562.0,281.1 1563.0,280.3 1564.0,279.5 1565.0,278.6 1566.0,277.7 1567.0,277.2 1568.0,277.1 1569.0,277.0 1570.0,276.8 1571.0,276.8 1572.0,277.0 1573.0,277.2 1574.0,277.5 1575.0,277.5 1576.0,277.4 1577.0,277.6 1578.0,278.2 1579.0,278.9 1580.0,279.2 1581.0,279.0 1582.0,278.6 1583.0,278.0 1584.0,277.5 1585.0,276.8 1586.0,276.1 1587.0,275.4 1588.0,275.0 1589.0,274.9 1590.0,274.8 1591.0,274.7 1592.0,274.7 1593.0,274.8 1594.0,275.2 1595.0,275.7 1596.0,276.2 1597.0,276.6 1598.0,277.1 1599.0,277.9 1600.0,279.4 1601.0,280.8 1602.0,282.0 1603.0,282.7 1604.0,283.8 1605.0,285.0 1606.0,286.1 1607.0,287.1 1608.0,288.1 1609.0,289.2 1610.0,290.3 1611.0,291.1 1612.0,291.5 1613.0,291.3 1614.0,291.1 1615.0,291.2 1616.0,291.5 1617.0,291.4 1618.0,291.2 1619.0,291.4 1620.0,291.6 1621.0,291.7 1622.0,291.8 1623.0,291.8 1624.0,291.8 1625.0,291.6 1626.0,291.2 1627.0,290.6 1628.0,289.9 1629.0,289.1 1630.0,288.1 1631.0,287.1 1632.0,285.9 1633.0,284.4 1634.0,282.9 1635.0,281.5 1636.0,280.1 1637.0,278.6 1638.0,277.3 1639.0,276.0 1640.0,274.9 1641.0,273.8 1642.0,272.9 1643.0,272.1 1644.0,271.5 1645.0,270.9 1646.0,270.5 1647.0,270.5 1648.0,270.1 1649.0,269.8 1650.0,269.6 1651.0,269.7 1652.0,270.0 1653.0,270.4 1654.0,270.6 1655.0,270.7 1656.0,270.7 1657.0,270.5 1658.0,270.2 1659.0,269.9 1660.0,269.5 1661.0,269.4 1662.0,269.0 1663.0,268.3 1664.0,267.4 1665.0,266.5 1666.0,265.6 1667.0,264.8 1668.0,264.1 1669.0,263.3 1670.0,262.7 1671.0,262.1 1672.0,261.7 1673.0,261.3 1674.0,261.1 1675.0,261.0 1676.0,261.0 1677.0,261.0 1678.0,260.9 1679.0,260.8 1680.0,260.8 1681.0,260.9 1682.0,261.2 1683.0,261.6 1684.0,262.1 1685.0,262.5 1686.0,262.9 1687.0,263.2 1688.0,263.5 1689.0,264.0 1690.0,264.4 1691.0,265.0 1692.0,265.5 1693.0,265.8 1694.0,265.8 1695.0,265.7 1696.0,265.4 1697.0,265.1 1698.0,264.8 1699.0,264.7 1700.0,264.5 1701.0,264.3 1702.0,263.9"/>
<polyline stroke="#8000ff" points="0.8,837.3 1.5,835.8 2.1,836.7 2.8,837.1 3.4,835.8 4.1,836.3 4.7,834.5 5.4,834.4 6.0,833.5 6.7,833.6 7.4,834.6 8.0,832.6 8.7,831.9 9.3,830.3 10.0,829.3 10.6,830.5 11.3,827.1 12.0,826.4 12.6,826.2 13.3,825.0 13.9,826.4 14.6,821.0 15.2,821.4 15.9,819.5 16.5,815.6 17.2,813.9 17.9,811.5 18.5,804.9 19.2,794.7 19.8,790.0 20.5,791.9 21.1,792.8 21.8,796.4 22.4,799.9 23.1,806.3 23.8,804.5 24.4,805.5 25.1,804.2 25.7,803.7 26.4,803.9 27.0,806.8 27.7,807.9 28.4,805.6 29.0,806.4 29.7,805.7 30.3,800.3 31.0,796.1 31.6,796.6 32.3,795.9 32.9,795.2 33.6,793.3 34.3,791.3 34.9,789.0 35.6,787.5 36.2,784.3 36.9,782.9 37.5,781.5 38.2,781.4 38.8,778.9 39.5,777.0 40.2,777.1 40.8,777.9 41.5,779.4 42.1,779.7 42.8,781.8 43.4,782.0 44.1,780.9 44.8,780.8 45.4,782.2 46.1,782.1 46.7,781.4 47.4,779.2 48.0,778.0 48.7,779.2 49.3,778.7 50.0,778.9 50.7,780.2 51.3,785.7 52.0,787.5 52.6,788.4 53.3,788.0 53.9,786.4 54.6,786.1 55.2,784.3 55.9,786.4 56.6,786.8 57.2,790.3 57.9,791.2 58.5,793.4 59.2,793.3 59.8,792.5 60.5,793.6 61.2,793.1 61.8,794.2 62.5,794.1 63.1,793.0 63.8,792.8 64.4,791.8 65.1,790.4 65.7,790.4 66.4,790.1 67.1,785.6 67.7,783.0 68.4,778.6 69.0,779.8 69.7,780.1 70.3,779.2 71.0,781.9 71.6,781.5 72.3,779.6 73.0,779.3 73.6,779.9 74.3,783.2 74.9,782.7 75.6,784.6 76.2,786.5 76.9,784.3 77.6,784.4 78.2,783.5 78.9,782.2 79.5,782.9 80.2,783.4 80.8,782.3 81.5,783.9 82.1,785.0 82.8,785.1 83.5,782.8 84.1,783.7 84.8,783.3 85.4,786.1 86.1,785.5 86.7,785.4 87.4,783.8 88.0,783.4 88.7,784.5 89.4,784.4 90.0,783.3 90.7,784.1 91.3,784.2 92.0,783.3 92.6,781.6 93.3,780.1 94.0,781.4 94.6,781.3 95.3,780.3 95.9,778.9 96.6,777.3 97.2,777.3 97.9,775.3 98.5,774.1 99.2,773.4 99.9,774.0 100.5,775.1 101.2,774.3 101.8,774.3 102.5,775.0 103.1,776.3 103.8,775.1 104.4,776.0 105.1,774.3 105.8,773.9 106.4,772.7 107.1,773.7 107.7,775.9 108.4,775.0 109.0,775.6 109.7,775.9 110.4,775.4 111.0,775.1 111.7,774.7 112.3,774.6 113.0,773.7 113.6,771.9 114.3,767.5 114.9,762.5 115.6,760.1 116.3,757.3 116.9,757.0 117.6,751.8 118.2,751.4 118.9,750.7 119.5,744.2 120.2,739.5 120.8,736.9 121.5,735.9 122.2,732.2 122.8,730.7 123.5,729.2 124.1,734.6 124.8,743.9 125.4,744.5 126.1,744.5 126.8,745.2 127.4,746.6 128.1,745.2 128.7,744.2 129.4,742.3 130.0,739.4 130.7,740.0 131.3,739.0 132.0,741.0 132.7,742.0 133.3,743.2 134.0,742.6 134.6,742.8 135.3,740.9 135.9,741.9 136.6,741.4 137.2,739.8 137.9,740.3 138.6,740.3 139.2,742.1 139.9,739.0 140.5,741.3 141.2,740.2 141.8,741.7 142.5,744.2 143.2,744.1 143.8,746.1 144.5,750.9 145.1,760.5 145.8,762.6 146.4,760.0 147.1,754.8 147.7,754.3 148.4,756.6 149.1,755.6 149.7,755.7 150.4,756.5 151.0,754.7 151.7,755.9 152.3,754.6 153.0,754.4 153.6,752.6 154.3,753.1 155.0,751.3 155.6,752.5 156.3,752.3 156.9,751.8 157.6,751.1 158.2,750.9 158.9,747.4 159.6,750.4 160.2,749.2 160.9,749.4 161.5,748.9 162.2,747.6 162.8,748.3 163.5,749.3 164.1,749.9 164.8,748.0 165.5,747.8 166.1,750.1 166.8,747.9 167.4,750.7 168.1,748.9 168.7,748.0 169.4,749.8 170.0,750.5 170.7,747.5 171.4,750.0 172.0,747.9 172.7,749.2 173.3,747.0 174.0,745.5 174.6,747.1 175.3,747.2 176.0,747.9 176.6,747.2 177.3,745.8 177.9,744.8 178.6,744.4 179.2,744.4 179.9,743.7 180.5,744.1 181.2,741.8 181.9,743.6 182.5,741.7 183.2,742.4 183.8,738.9 184.5,736.0 185.1,735.7 185.8,733.8 186.4,734.2 187.1,732.7 187.8,735.7 188.4,734.6 189.1,732.5 189.7,733.2 190.4,733.8 191.0,732.9 191.7,732.4 192.4,730.9 193.0,730.7 193.7,731.0 194.3,731.7 195.0,730.0 195.6,729.7 196.3,731.9 196.9,729.9 197.6,731.8 198.3,731.0 198.9,731.6 199.6,732.2 200.2,730.6 200.9,730.0 201.5,727.7 202.2,727.3 202.8,727.9 203.5,728.1 204.2,727.5 204.8,728.1 205.5,725.8 206.1,725.4 206.8,725.8 207.4,724.6 208.1,724.2 208.8,721.3 209.4,721.1 210.1,716.9 210.7,716.2 211.4,712.2 212.0,712.4 212.7,708.2 213.3,707.8 214.0,703.3 214.7,702.2 215.3,701.4 216.0,697.2 216.6,697.9 217.3,701.0 217.9,703.0 218.6,715.2 219.2,728.1 219.9,724.1 220.6,722.5 221.2,718.0 221.9,715.8 222.5,715.4 223.2,713.5 223.8,715.0 224.5,710.0 225.2,711.7 225.8,712.1 226.5,709.5 227.1,710.0 227.8,712.4 228.4,710.5 229.1,709.0 229.7,707.4 230.4,703.7 231.1,701.4 231.7,698.2 232.4,699.4 233.0,699.0 233.7,701.8 234.3,703.4 235.0,702.5 235.6,704.1 236.3,702.2 237.0,700.7 237.6,697.4 238.3,696.3 238.9,692.9 239.6,689.7 240.2,685.8 240.9,685.8 241.6,684.4 242.2,683.4 242.9,681.3 243.5,682.8 244.2,682.5 244.8,680.5 245.5,683.3 246.1,683.9 246.8,684.3 247.5,682.4 248.1,682.2 248.8,687.1 249.4,693.6 250.1,697.8 250.7,700.9 251.4,703.1 252.0,704.6 252.7,699.9 253.4,695.1 254.0,695.0 254.7,692.2 255.3,691.7 256.0,690.2 256.6,689.4 257.3,688.5 258.0,686.8 258.6,687.0 259.3,685.8 259.9,688.5 260.6,687.1 261.2,687.9 261.9,685.7 262.5,683.4 263.2,686.1 263.9,684.1 264.5,683.5 265.2,682.7 265.8,682.5 266.5,679.1 267.1,673.8 267.8,673.1 268.4,667.6 269.1,663.5 269.8,661.5 270.4,656.6 271.1,651.2 271.7,648.1 272.4,649.8 273.0,649.9 273.7,649.1 274.4,647.8 275.0,640.1 275.7,630.9 276.3,628.4 277.0,625.0 277.6,621.3 278.3,615.7 278.9,614.5 279.6,613.5 280.3,611.2 280.9,610.2 281.6,611.0 282.2,607.9 282.9,607.2 283.5,605.0 284.2,604.9 284.8,602.6 285.5,603.7 286.2,605.5 286.8,607.9 287.5,608.5 288.1,609.5 288.8,610.3 289.4,611.2 290.1,613.0 290.8,615.0 291.4,615.0 292.1,617.9 292.7,617.4 293.4,615.4 294.0,614.8 294.7,612.8 295.3,611.8 296.0,613.4 296.7,614.1 297.3,616.5 298.0,619.4 298.6,621.4 299.3,622.0 299.9,626.6 300.6,628.5 301.2,630.9 301.9,625.8 302.6,618.3 303.2,613.2 303.9,608.7 304.5,609.0 305.2,607.6 305.8,607.4 306.5,608.0 307.2,608.0 307.8,606.9 308.5,607.0 309.1,601.9 309.8,598.0 310.4,594.7 311.1,590.1 311.7,586.0 312.4,584.1 313.1,578.4 313.7,573.8 314.4,571.2 315.0,569.4 315.7,567.3 316.3,567.9 317.0,565.9 317.6,565.4 318.3,564.8 319.0,564.9 319.6,566.3 320.3,561.9 320.9,563.1 321.6,559.0 322.2,558.2 322.9,557.7 323.6,556.9 324.2,559.7 324.9,561.0 325.5,566.0 326.2,568.1 326.8,575.3 327.5,576.5 328.1,580.7 328.8,583.3 329.5,587.7 330.1,586.8 330.8,585.7 331.4,581.2 332.1,578.7 332.7,576.0 333.4,575.3 334.0,576.1 334.7,573.1 335.4,571.4 336.0,572.6 336.7,570.3 337.3,569.3 338.0,567.9 338.6,563.6 339.3,562.6 340.0,558.5 340.6,557.3 341.3,553.6 341.9,548.3 342.6,544.9 343.2,540.7 343.9,540.8 344.5,541.5 345.2,538.8 345.9,540.9 346.5,538.5 347.2,538.7 347.8,537.6 348.5,539.3 349.1,534.1 349.8,531.0 350.4,526.9 351.1,525.2 351.8,520.7 352.4,521.7 353.1,522.8 353.7,519.4 354.4,518.8 355.0,520.8 355.7,521.1 356.4,523.5 357.0,526.0 357.7,526.4 358.3,522.6 359.0,518.0 359.6,514.7 360.3,510.5 360.9,508.2 361.6,504.9 362.3,501.4 362.9,496.7 363.6,497.0 364.2,493.4 364.9,486.9 365.5,480.9 366.2,476.8 366.8,471.8 367.5,461.5 368.2,453.6 368.8,446.5 369.5,442.4 370.1,437.8 370.8,435.1 371.4,432.1 372.1,434.2 372.8,436.4 373.4,439.3 374.1,444.6 374.7,451.8 375.4,451.4 376.0,447.3 376.7,446.3 377.3,450.0 378.0,454.1 378.7,454.4 379.3,451.0 380.0,446.4 380.6,443.7 381.3,442.9 381.9,445.4 382.6,452.2 383.2,457.7 383.9,458.5 384.6,459.8 385.2,461.3 385.9,466.9 386.5,471.3 387.2,475.6 387.8,477.2 388.5,479.4 389.2,478.8 389.8,481.2 390.5,482.3 391.1,485.1 391.8,487.6 392.4,490.8 393.1,493.5 393.7,500.4 394.4,509.8 395.1,521.3 395.7,518.8 396.4,509.1 397.0,503.9 397.7,502.2 398.3,499.7 399.0,498.5 399.6,491.6 400.3,484.4 401.0,478.4 401.6,483.1 402.3,485.5 402.9,486.3 403.6,483.4 404.2,480.4 404.9,475.3 405.6,474.8 406.2,475.8 406.9,476.2 407.5,475.8 408.2,478.7 408.8,482.7 409.5,485.7 410.1,488.0 410.8,489.6 411.5,492.3 412.1,495.4 412.8,498.8 413.4,501.3 414.1,503.7 414.7,503.8 415.4,503.9 416.0,502.8 416.7,503.1 417.4,506.4 418.0,508.8 418.7,511.6 419.3,515.9 420.0,518.5 420.6,520.5 421.3,522.7 422.0,525.9 422.6,523.7 423.3,524.8 423.9,524.4 424.6,521.0 425.2,520.3 425.9,519.8 426.5,515.7 427.2,512.2 427.9,508.8 428.5,505.7 429.2,504.3 429.8,501.1 430.5,498.6 431.1,496.9 431.8,496.1 432.4,496.2 433.1,497.2 433.8,495.3 434.4,497.7 435.1,497.5 435.7,495.3 436.4,492.5 437.0,491.0 437.7,494.0 438.4,494.7 439.0,498.2 439.7,499.0 440.3,502.3 441.0,504.7 441.6,503.4 442.3,507.3 442.9,507.2 443.6,507.4 444.3,509.0 444.9,510.3 445.6,512.4 446.2,511.9 446.9,516.3 447.5,519.2 448.2,518.5 448.8,517.6 449.5,516.2 450.2,514.2 450.8,514.9 451.5,514.4 452.1,516.9 452.8,520.8 453.4,521.3 454.1,523.2 454.8,526.4 455.4,525.7 456.1,527.8 456.7,530.5 457.4,531.4 458.0,532.0 458.7,530.4 459.3,531.7 460.0,532.9 460.7,534.2 461.3,535.0 462.0,537.2 462.6,536.0 463.3,532.9 463.9,533.0 464.6,531.8 465.2,529.7 465.9,529.3 466.6,527.4 467.2,524.4 467.9,524.2 468.5,522.2 469.2,522.4 469.8,520.0 470.5,519.6 471.2,516.9 471.8,515.3 472.5,512.1 473.1,509.4 473.8,511.4 474.4,508.6 475.1,509.0 475.7,507.2 476.4,510.0 477.1,513.8 477.7,515.0 478.4,518.9 479.0,519.5 479.7,525.0 480.3,527.2 481.0,528.5 481.6,529.7 482.3,531.2 483.0,533.5 483.6,531.3 484.3,533.0 484.9,531.7 485.6,532.8 486.2,530.6 486.9,530.8 487.6,529.1 488.2,528.8 488.9,527.8 489.5,525.2 490.2,524.3 490.8,521.6 491.5,522.2 492.1,521.8 492.8,519.5 493.5,521.5 494.1,520.5 494.8,522.6 495.4,525.0 496.1,527.9 496.7,529.9 497.4,529.6 498.0,529.4 498.7,529.9 499.4,528.6 500.0,527.6 500.7,527.3 501.3,530.2 502.0,525.6 502.6,527.3 503.3,528.6 504.0,527.3 504.6,525.7 505.3,526.9 505.9,528.2 506.6,529.0 507.2,527.5 507.9,529.5 508.5,529.5 509.2,530.8 509.9,532.0 510.5,531.3 511.2,531.2 511.8,533.7 512.5,534.5 513.1,533.0 513.8,532.1 514.4,533.6 515.1,529.9 515.8,531.2 516.4,529.4 517.1,530.2 517.7,530.4 518.4,531.9 519.0,529.7 519.7,530.3 520.4,529.4 521.0,531.5 521.7,530.5 522.3,531.2 523.0,529.6 523.6,530.1 524.3,531.2 524.9,529.9 525.6,530.5 526.3,535.6 526.9,540.0 527.6,544.1 528.2,551.7 528.9,556.2 529.5,560.9 530.2,561.3 530.8,565.0 531.5,567.8 532.2,572.3 532.8,577.4 533.5,580.2 534.1,580.2 534.8,579.0 535.4,578.3 536.1,576.2 536.8,579.5 537.4,581.9 538.1,582.3 538.7,586.0 539.4,589.0 540.0,588.6 540.7,587.2 541.3,585.2 542.0,583.6 542.7,582.5 543.3,577.5 544.0,573.1 544.6,571.0 545.3,575.1 545.9,575.4 546.6,577.0 547.2,580.2 547.9,580.7 548.6,578.9 549.2,580.8 549.9,578.8 550.5,576.0 551.2,575.8 551.8,573.2 552.5,575.6 553.2,577.4 553.8,579.7 554.5,583.7 555.1,581.7 555.8,581.4 556.4,581.2 557.1,581.8 557.7,580.9 558.4,582.2 559.1,581.6 559.7,581.9 560.4,583.5 561.0,584.9 561.7,584.8 562.3,586.4 563.0,588.4 563.6,586.6 564.3,587.7 565.0,589.4 565.6,588.0 566.3,588.2 566.9,587.1 567.6,587.6 568.2,586.9 568.9,585.4 569.6,584.7 570.2,584.3 570.9,582.2 571.5,578.2 572.2,577.8 572.8,576.2 573.5,576.2 574.1,576.2 574.8,576.7 575.5,577.8 576.1,577.4 576.8,579.7 577.4,578.8 578.1,579.5 578.7,577.8 579.4,578.0 580.0,577.2 580.7,576.7 581.4,578.1 582.0,576.8 582.7,577.5 583.3,575.9 584.0,576.9 584.6,575.0 585.3,576.0 586.0,575.8 586.6,576.2 587.3,575.1 587.9,574.1 588.6,574.5 589.2,573.2 589.9,571.2 590.5,568.5 591.2,564.7 591.9,560.7 592.5,553.4 593.2,548.3 593.8,549.7 594.5,551.1 595.1,551.5 595.8,551.0 596.4,550.6 597.1,551.2 597.8,550.4 598.4,550.9 599.1,548.9 599.7,548.4 600.4,548.6 601.0,546.8 601.7,546.5 602.4,547.6 603.0,546.7 603.7,545.9 604.3,546.2 605.0,545.7 605.6,547.8 606.3,548.0 606.9,548.2 607.6,544.8 608.3,542.7 608.9,539.9 609.6,535.7 610.2,531.0 610.9,524.3 611.5,516.7 612.2,511.8 612.8,508.0 613.5,510.0 614.2,512.6 614.8,513.8 615.5,510.2 616.1,507.4 616.8,502.8 617.4,500.0 618.1,501.6 618.8,503.8 619.4,507.6 620.1,506.9 620.7,511.3 621.4,513.3 622.0,513.2 622.7,512.0 623.3,510.2 624.0,509.4 624.7,508.2 625.3,505.4 626.0,504.1 626.6,502.1 627.3,499.1 627.9,496.1 628.6,491.1 629.2,486.9 629.9,480.9 630.6,476.2 631.2,470.0 631.9,473.7 632.5,481.2 633.2,478.2 633.8,474.7 634.5,472.1 635.2,466.6 635.8,468.1 636.5,467.8 637.1,469.2 637.8,472.6 638.4,475.7 639.1,479.0 639.7,480.7 640.4,483.4 641.1,485.4 641.7,487.0 642.4,487.7 643.0,484.9 643.7,484.0 644.3,488.2 645.0,489.7 645.6,491.3 646.3,493.8 647.0,491.7 647.6,487.4 648.3,486.4 648.9,483.2 649.6,481.2 650.2,477.2 650.9,475.9 651.6,474.2 652.2,473.2 652.9,474.3 653.5,477.0 654.2,482.3 654.8,483.7 655.5,483.2 656.1,480.9 656.8,482.2 657.5,483.8 658.1,484.9 658.8,487.0 659.4,486.0 660.1,489.2 660.7,489.7 661.4,492.2 662.0,492.8 662.7,490.1 663.4,486.0 664.0,485.4 664.7,484.3 665.3,484.2 666.0,486.3 666.6,485.9 667.3,484.7 668.0,485.7 668.6,486.9 669.3,488.7 669.9,488.5 670.6,488.7 671.2,487.3 671.9,489.9 672.5,491.4 673.2,495.6 673.9,502.2 674.5,504.8 675.2,508.4 675.8,509.7 676.5,507.9 677.1,506.6 677.8,509.1 678.4,506.2 679.1,507.1 679.8,507.1 680.4,503.6 681.1,504.6 681.7,505.4 682.4,507.6 683.0,508.7 683.7,510.5 684.4,509.4 685.0,509.1 685.7,510.4 686.3,511.1 687.0,513.2 687.6,517.8 688.3,508.3 688.9,499.2 689.6,497.3 690.3,494.0 690.9,493.4 691.6,496.9 692.2,495.6 692.9,496.2 693.5,497.3 694.2,497.6 694.8,498.4 695.5,500.4 696.2,503.0 696.8,501.9 697.5,502.3 698.1,500.6 698.8,504.2 699.4,505.7 700.1,510.2 700.8,511.6 701.4,514.3 702.1,516.6 702.7,518.5 703.4,516.7 704.0,517.6 704.7,514.7 705.3,513.8 706.0,515.2 706.7,515.6 707.3,517.4 708.0,519.0 708.6,518.4 709.3,518.1 709.9,517.7 710.6,518.3 711.2,517.6 711.9,522.7 712.6,524.5 713.2,526.5 713.9,522.5 714.5,518.0 715.2,519.1 715.8,519.8 716.5,516.8 717.2,519.1 717.8,521.0 718.5,520.0 719.1,520.6 719.8,519.3 720.4,517.8 721.1,516.3 721.7,515.1 722.4,512.4 723.1,509.3 723.7,508.4 724.4,507.5 725.0,503.2 725.7,502.3 726.3,503.0 727.0,503.9 727.6,502.2 728.3,504.5 729.0,502.2 729.6,500.8 730.3,498.4 730.9,500.3 731.6,498.0 732.2,499.7 732.9,496.9 733.6,495.9 734.2,493.2 734.9,495.4 735.5,492.8 736.2,492.1 736.8,489.3 737.5,491.4 738.1,490.6 738.8,488.2 739.5,488.0 740.1,487.8 740.8,487.8 741.4,486.9 742.1,489.8 742.7,489.3 743.4,490.3 744.0,491.6 744.7,490.8 745.4,493.5 746.0,496.6 746.7,497.9 747.3,498.8 748.0,500.5 748.6,498.0 749.3,499.4 750.0,500.7 750.6,503.2 751.3,504.1 751.9,511.0 752.6,519.3 753.2,526.4 753.9,539.5 754.5,543.4 755.2,547.2 755.9,542.6 756.5,533.2 757.2,531.0 757.8,528.3 758.5,526.9 759.1,527.4 759.8,527.7 760.4,525.3 761.1,524.6 761.8,528.1 762.4,528.3 763.1,527.9 763.7,525.0 764.4,524.7 765.0,520.1 765.7,519.2 766.4,518.6 767.0,521.5 767.7,523.0 768.3,523.1 769.0,523.0 769.6,521.5 770.3,523.1 770.9,519.6 771.6,519.3 772.3,519.1 772.9,516.7 773.6,517.1 774.2,515.8 774.9,510.4 775.5,506.0 776.2,501.4 776.8,500.3 777.5,497.8 778.2,495.7 778.8,493.7 779.5,491.0 780.1,491.3 780.8,497.7 781.4,500.0 782.1,500.2 782.8,495.6 783.4,494.7 784.1,493.1 784.7,493.6 785.4,493.4 786.0,495.8 786.7,496.2 787.3,498.8 788.0,498.2 788.7,499.5 789.3,497.1 790.0,495.5 790.6,494.4 791.3,492.7 791.9,492.4 792.6,492.9 793.2,492.3 793.9,491.3 794.6,491.8 795.2,491.9 795.9,493.7 796.5,494.6 797.2,494.4 797.8,496.7 798.5,493.2 799.2,494.1 799.8,495.6 800.5,493.2 801.1,491.8 801.8,494.9 802.4,494.8 803.1,493.8 803.7,496.3 804.4,495.2 805.1,495.5 805.7,496.3 806.4,495.6 807.0,494.7 807.7,495.1 808.3,494.1 809.0,495.3 809.6,495.5 810.3,496.6 811.0,495.8 811.6,495.3 812.3,495.5 812.9,496.2 813.6,497.5 814.2,496.5 814.9,494.8 815.6,496.0 816.2,486.1 816.9,481.3 817.5,479.1 818.2,479.3 818.8,478.3 819.5,476.6 820.1,476.5 820.8,474.5 821.5,474.8 822.1,475.3 822.8,477.5 823.4,473.5 824.1,472.1 824.7,470.2 825.4,471.4 826.0,468.0 826.7,468.8 827.4,471.5 828.0,471.7 828.7,475.3 829.3,475.6 830.0,474.6 830.6,475.3 831.3,475.0 832.0,475.2 832.6,477.1 833.3,477.5 833.9,477.9 834.6,479.2 835.2,479.7 835.9,483.0 836.5,484.2 837.2,488.5 837.9,489.5 838.5,488.7 839.2,486.3 839.8,485.8 840.5,486.8 841.1,486.5 841.8,482.7 842.4,483.1 843.1,484.0 843.8,485.6 844.4,484.3 845.1,486.4 845.7,484.9 846.4,486.1 847.0,483.0 847.7,481.1 848.4,480.6 849.0,482.3 849.7,482.4 850.3,481.2 851.0,481.5 851.6,477.4 852.3,475.3 852.9,474.2 853.6,474.4 854.3,475.2 854.9,475.1 855.6,474.5 856.2,471.2 856.9,466.7 857.5,463.3 858.2,464.5 858.8,461.3 859.5,460.8 860.2,462.8 860.8,462.0 861.5,461.2 862.1,459.0 862.8,456.9 863.4,455.8 864.1,453.6 864.8,449.0 865.4,447.2 866.1,445.7 866.7,445.0 867.4,446.0 868.0,443.7 868.7,438.8 869.3,435.6 870.0,434.3 870.7,434.1 871.3,431.1 872.0,430.8 872.6,429.7 873.3,432.5 873.9,436.0 874.6,438.5 875.2,435.5 875.9,432.2 876.6,430.1 877.2,428.4 877.9,428.4 878.5,429.6 879.2,429.5 879.8,430.5 880.5,430.1 881.2,428.1 881.8,427.9 882.5,427.3 883.1,422.3 883.8,415.7 884.4,413.1 885.1,409.2 885.7,410.9 886.4,409.4 887.1,408.2 887.7,408.1 888.4,402.8 889.0,398.4 889.7,393.8 890.3,390.9 891.0,387.5 891.6,384.3 892.3,378.1 893.0,371.2 893.6,367.0 894.3,361.8 894.9,366.1 895.6,372.6 896.2,375.2 896.9,364.7 897.6,365.1 898.2,366.3 898.9,367.0 899.5,369.8 900.2,372.1 900.8,375.2 901.5,379.2 902.1,380.1 902.8,384.5 903.5,384.2 904.1,383.2 904.8,378.6 905.4,375.9 906.1,371.4 906.7,367.8 907.4,361.0 908.0,354.5 908.7,352.4 909.4,349.0 910.0,347.4 910.7,342.8 911.3,343.9 912.0,344.4 912.6,340.2 913.3,336.6 914.0,335.3 914.6,332.7 915.3,331.8 915.9,338.6 916.6,341.6 917.2,343.4 917.9,345.2 918.5,344.9 919.2,342.5 919.9,341.5 920.5,340.1 921.2,336.4 921.8,335.0 922.5,329.7 923.1,324.4 923.8,326.7 924.4,327.7 925.1,328.1 925.8,326.5 926.4,324.9 927.1,329.7 927.7,330.3 928.4,333.8 929.0,333.7 929.7,333.7 930.4,335.4 931.0,327.7 931.7,326.7 932.3,327.0 933.0,325.4 933.6,326.3 934.3,326.2 934.9,326.5 935.6,328.6 936.3,325.2 936.9,324.2 937.6,321.6 938.2,319.9 938.9,319.3 939.5,320.3 940.2,321.6 940.8,323.9 941.5,330.9 942.2,330.9 942.8,334.4 943.5,336.3 944.1,334.5 944.8,334.1 945.4,332.2 946.1,331.9 946.8,334.1 947.4,332.7 948.1,332.3 948.7,330.3 949.4,330.4 950.0,329.6 950.7,329.3 951.3,331.4 952.0,331.6 952.7,335.0 953.3,338.0 954.0,343.8 954.6,357.0 955.3,359.4 955.9,361.1 956.6,366.4 957.2,368.3 957.9,367.2 958.6,364.3 959.2,368.7 959.9,372.1 960.5,373.8 961.2,370.7 961.8,371.3 962.5,368.5 963.2,370.3 963.8,372.7 964.5,374.1 965.1,374.0 965.8,370.1 966.4,367.5 967.1,364.7 967.7,361.2 968.4,362.4 969.1,367.3 969.7,371.8 970.4,382.1 971.0,380.7 971.7,378.2 972.3,377.7 973.0,375.3 973.6,372.6 974.3,372.9 975.0,374.9 975.6,376.6 976.3,376.3 976.9,374.8 977.6,375.1 978.2,376.5 978.9,377.4 979.6,374.7 980.2,377.8 980.9,378.9 981.5,380.4 982.2,381.7 982.8,383.7 983.5,385.6 984.1,387.1 984.8,387.2 985.5,384.9 986.1,377.0 986.8,370.0 987.4,366.2 988.1,362.8 988.7,358.4 989.4,360.4 990.0,360.5 990.7,361.7 991.4,361.1 992.0,358.0 992.7,353.1 993.3,349.6 994.0,348.9 994.6,349.0 995.3,349.6 996.0,347.1 996.6,344.0 997.3,345.7 997.9,347.9 998.6,347.9 999.2,343.7 999.9,343.0 1000.5,341.5 1001.2,341.7 1001.9,341.9 1002.5,342.9 1003.2,343.8 1003.8,343.8 1004.5,341.7 1005.1,342.0 1005.8,338.5 1006.4,337.7 1007.1,337.6 1007.8,341.1 1008.4,345.5 1009.1,346.6 1009.7,348.2 1010.4,348.4 1011.0,345.3 1011.7,344.6 1012.4,344.9 1013.0,349.6 1013.7,352.5 1014.3,352.8 1015.0,352.3 1015.6,350.0 1016.3,354.1 1016.9,353.7 1017.6,353.2 1018.3,350.3 1018.9,350.3 1019.6,342.2 1020.2,336.2 1020.9,332.9 1021.5,330.1 1022.2,331.1 1022.8,328.4 1023.5,328.9 1024.2,325.2 1024.8,321.0 1025.5,321.8 1026.1,318.5 1026.8,316.4 1027.4,315.9 1028.1,315.7 1028.8,319.7 1029.4,320.1 1030.1,320.7 1030.7,323.2 1031.4,321.0 1032.0,321.4 1032.7,319.9 1033.3,319.5 1034.0,320.5 1034.7,320.4 1035.3,317.0 1036.0,315.5 1036.6,312.5 1037.3,313.3 1037.9,313.5 1038.6,318.2 1039.2,321.3 1039.9,321.5 1040.6,323.1 1041.2,324.3 1041.9,326.8 1042.5,324.9 1043.2,325.6 1043.8,326.2 1044.5,324.7 1045.2,323.6 1045.8,326.5 1046.5,328.7 1047.1,329.9 1047.8,333.8 1048.4,336.0 1049.1,338.0 1049.7,339.5 1050.4,341.5 1051.1,343.9 1051.7,344.9 1052.4,344.9 1053.0,344.4 1053.7,343.2 1054.3,343.1 1055.0,343.0 1055.6,340.7 1056.3,341.0 1057.0,340.6 1057.6,341.9 1058.3,342.7 1058.9,343.6 1059.6,343.9 1060.2,346.7 1060.9,348.1 1061.6,348.0 1062.2,351.3 1062.9,351.8 1063.5,355.4 1064.2,354.2 1064.8,355.1 1065.5,356.4 1066.1,355.9 1066.8,355.6 1067.5,356.7 1068.1,355.0 1068.8,356.8 1069.4,359.7 1070.1,360.3 1070.7,366.1 1071.4,368.9 1072.0,370.1 1072.7,367.3 1073.4,367.9 1074.0,366.5 1074.7,365.8 1075.3,368.9 1076.0,367.8 1076.6,367.4 1077.3,365.4 1078.0,360.9 1078.6,355.8 1079.3,352.8 1079.9,352.8 1080.6,352.4 1081.2,350.2 1081.9,351.8 1082.5,352.3 1083.2,354.1 1083.9,357.4 1084.5,360.6 1085.2,362.9 1085.8,365.1 1086.5,365.0 1087.1,362.2 1087.8,360.2 1088.4,357.3 1089.1,352.0 1089.8,356.1 1090.4,359.6 1091.1,363.8 1091.7,362.1 1092.4,361.0 1093.0,359.9 1093.7,359.3 1094.4,358.4 1095.0,358.2 1095.7,359.5 1096.3,358.9 1097.0,356.6 1097.6,355.6 1098.3,356.8 1098.9,353.7 1099.6,354.3 1100.3,352.0 1100.9,347.0 1101.6,344.3 1102.2,345.2 1102.9,345.4 1103.5,346.3 1104.2,348.0 1104.8,350.7 1105.5,351.5 1106.2,353.7 1106.8,356.5 1107.5,359.4 1108.1,362.7 1108.8,357.5 1109.4,357.6 1110.1,357.3 1110.8,355.5 1111.4,357.9 1112.1,358.9 1112.7,357.3 1113.4,359.0 1114.0,358.6 1114.7,361.0 1115.3,361.5 1116.0,362.5 1116.7,364.5 1117.3,364.5 1118.0,366.2 1118.6,366.4 1119.3,368.8 1119.9,375.1 1120.6,379.9 1121.2,382.1 1121.9,388.9 1122.6,391.7 1123.2,391.1 1123.9,389.0 1124.5,389.0 1125.2,388.4 1125.8,387.7 1126.5,388.3 1127.2,386.4 1127.8,389.9 1128.5,387.4 1129.1,385.5 1129.8,385.8 1130.4,385.1 1131.1,385.5 1131.7,383.7 1132.4,384.4 1133.1,382.7 1133.7,385.3 1134.4,385.3 1135.0,389.3 1135.7,389.1 1136.3,395.7 1137.0,399.9 1137.6,407.1 1138.3,413.1 1139.0,416.9 1139.6,420.3 1140.3,420.8 1140.9,421.0 1141.6,422.2 1142.2,421.0 1142.9,419.5 1143.6,420.7 1144.2,423.8 1144.9,424.8 1145.5,428.3 1146.2,428.0 1146.8,425.5 1147.5,422.8 1148.1,421.9 1148.8,423.1 1149.5,424.2 1150.1,424.7 1150.8,428.1 1151.4,426.3 1152.1,420.8 1152.7,417.5 1153.4,415.3 1154.0,410.6 1154.7,411.1 1155.4,410.1 1156.0,409.5 1156.7,411.2 1157.3,411.3 1158.0,413.5 1158.6,413.4 1159.3,416.2 1160.0,414.1 1160.6,412.5 1161.3,410.4 1161.9,410.3 1162.6,410.1 1163.2,409.4 1163.9,408.9 1164.5,407.0 1165.2,408.4 1165.9,407.7 1166.5,407.4 1167.2,407.6 1167.8,410.6 1168.5,412.7 1169.1,412.0 1169.8,416.5 1170.4,417.3 1171.1,416.4 1171.8,417.2 1172.4,418.5 1173.1,420.2 1173.7,419.3 1174.4,419.1 1175.0,420.9 1175.7,419.1 1176.4,420.2 1177.0,420.2 1177.7,418.4 1178.3,417.9 1179.0,416.6 1179.6,416.5 1180.3,418.6 1180.9,420.3 1181.6,423.3 1182.3,425.4 1182.9,428.6 1183.6,430.9 1184.2,431.8 1184.9,429.7 1185.5,428.7 1186.2,428.1 1186.8,428.5 1187.5,426.8 1188.2,426.1 1188.8,425.1 1189.5,426.4 1190.1,425.5 1190.8,424.8 1191.4,425.5 1192.1,427.6 1192.8,426.5 1193.4,428.9 1194.1,429.2 1194.7,428.7 1195.4,429.1 1196.0,427.8 1196.7,426.8 1197.3,427.1 1198.0,426.1 1198.7,427.1 1199.3,425.9 1200.0,425.8 1200.6,425.4 1201.3,421.0 1201.9,423.6 1202.6,420.8 1203.2,421.8 1203.9,420.0 1204.6,420.0 1205.2,420.8 1205.9,421.1 1206.5,426.2 1207.2,429.5 1207.8,432.4 1208.5,439.4 1209.2,440.9 1209.8,437.1 1210.5,433.7 1211.1,440.9 1211.8,441.0 1212.4,443.3 1213.1,445.2 1213.7,444.7 1214.4,443.5 1215.1,442.7 1215.7,440.9 1216.4,442.0 1217.0,440.7 1217.7,439.6 1218.3,439.8 1219.0,439.9 1219.6,440.6 1220.3,439.8 1221.0,438.5 1221.6,438.4 1222.3,438.1 1222.9,439.3 1223.6,437.1 1224.2,439.0 1224.9,440.1 1225.6,439.4 1226.2,441.2 1226.9,441.3 1227.5,440.8 1228.2,441.9 1228.8,442.5 1229.5,442.7 1230.1,441.6 1230.8,442.1 1231.5,443.9 1232.1,440.3 1232.8,441.3 1233.4,441.7 1234.1,440.7 1234.7,441.0 1235.4,440.2 1236.0,436.1 1236.7,430.7 1237.4,423.4 1238.0,421.9 1238.7,420.4 1239.3,418.8 1240.0,417.8 1240.6,415.4 1241.3,415.9 1242.0,415.5 1242.6,414.2 1243.3,412.7 1243.9,410.2 1244.6,412.3 1245.2,409.8 1245.9,410.1 1246.5,411.6 1247.2,409.2 1247.9,412.3 1248.5,413.1 1249.2,414.0 1249.8,414.4 1250.5,413.9 1251.1,411.3 1251.8,410.9 1252.4,409.4 1253.1,405.9 1253.8,406.1 1254.4,405.6 1255.1,404.2 1255.7,404.2 1256.4,406.2 1257.0,406.8 1257.7,406.3 1258.4,408.2 1259.0,410.3 1259.7,409.8 1260.3,411.1 1261.0,414.6 1261.6,414.2 1262.3,410.8 1262.9,410.4 1263.6,416.8 1264.3,421.4 1264.9,416.9 1265.6,408.1 1266.2,402.8 1266.9,396.2 1267.5,392.9 1268.2,392.5 1268.8,394.8 1269.5,393.9 1270.2,392.7 1270.8,394.8 1271.5,394.6 1272.1,393.2 1272.8,392.7 1273.4,393.0 1274.1,392.9 1274.8,391.0 1275.4,390.5 1276.1,389.1 1276.7,388.0 1277.4,386.9 1278.0,387.3 1278.7,386.1 1279.3,385.9 1280.0,388.1 1280.7,388.8 1281.3,390.2 1282.0,389.0 1282.6,390.9 1283.3,389.5 1283.9,388.9 1284.6,388.6 1285.2,390.2 1285.9,389.6 1286.6,388.4 1287.2,388.3 1287.9,389.8 1288.5,389.6 1289.2,392.0 1289.8,389.4 1290.5,389.5 1291.2,391.5 1291.8,392.3 1292.5,392.9 1293.1,394.0 1293.8,395.5 1294.4,393.4 1295.1,393.4 1295.7,392.4 1296.4,394.5 1297.1,395.2 1297.7,394.4 1298.4,396.1 1299.0,395.4 1299.7,397.1 1300.3,396.3 1301.0,395.3 1301.6,396.0 1302.3,395.5 1303.0,395.6 1303.6,397.9 1304.3,398.8 1304.9,400.2 1305.6,398.9 1306.2,399.4 1306.9,399.2 1307.6,401.9 1308.2,402.0 1308.9,400.3 1309.5,398.0 1310.2,394.4 1310.8,388.6 1311.5,387.6 1312.1,386.7 1312.8,385.8 1313.5,385.5 1314.1,387.2 1314.8,386.7 1315.4,386.7 1316.1,384.1 1316.7,384.7 1317.4,386.3 1318.0,384.5 1318.7,385.1 1319.4,383.9 1320.0,386.7 1320.7,385.3 1321.3,384.1 1322.0,383.3 1322.6,383.4 1323.3,384.0 1324.0,385.6 1324.6,385.0 1325.3,387.5 1325.9,386.5 1326.6,386.4 1327.2,388.8 1327.9,387.8 1328.5,388.8 1329.2,388.2 1329.9,387.6 1330.5,390.6 1331.2,388.7 1331.8,390.9 1332.5,388.3 1333.1,387.8 1333.8,389.8 1334.4,390.0 1335.1,389.9 1335.8,389.0 1336.4,391.2 1337.1,389.2 1337.7,392.1 1338.4,397.9 1339.0,399.5 1339.7,400.9 1340.4,399.7 1341.0,400.9 1341.7,399.9 1342.3,396.6 1343.0,396.0 1343.6,397.5 1344.3,398.3 1344.9,400.2 1345.6,399.0 1346.3,401.6 1346.9,401.4 1347.6,400.2 1348.2,398.8 1348.9,399.9 1349.5,399.1 1350.2,399.8 1350.8,398.8 1351.5,399.3 1352.2,397.8 1352.8,399.3 1353.5,395.4 1354.1,396.3 1354.8,397.5 1355.4,396.1 1356.1,398.7 1356.8,397.4 1357.4,399.1 1358.1,397.6 1358.7,397.3 1359.4,397.3 1360.0,396.4 1360.7,395.8 1361.3,398.1 1362.0,396.0 1362.7,394.9 1363.3,396.6 1364.0,395.9 1364.6,395.3 1365.3,394.8 1365.9,391.2 1366.6,392.2 1367.2,391.4 1367.9,389.4 1368.6,387.7 1369.2,378.8 1369.9,377.9 1370.5,378.7 1371.2,374.0 1371.8,374.5 1372.5,374.7 1373.2,374.3 1373.8,374.6 1374.5,371.0 1375.1,372.4 1375.8,372.9 1376.4,370.5 1377.1,371.0 1377.7,372.0 1378.4,370.7 1379.1,369.1 1379.7,365.9 1380.4,368.7 1381.0,369.7 1381.7,369.0 1382.3,368.6 1383.0,370.9 1383.6,367.1 1384.3,365.8 1385.0,366.6 1385.6,365.7 1386.3,365.3 1386.9,365.1 1387.6,365.5 1388.2,359.0 1388.9,351.4 1389.6,352.0 1390.2,353.0 1390.9,352.5 1391.5,355.6 1392.2,357.2 1392.8,355.6 1393.5,355.7 1394.1,356.2 1394.8,355.2 1395.5,353.5 1396.1,354.2 1396.8,352.6 1397.4,351.8 1398.1,354.1 1398.7,354.1 1399.4,354.7 1400.0,354.4 1400.7,354.4 1401.4,353.3 1402.0,353.9 1402.7,353.9 1403.3,351.0 1404.0,349.6 1404.6,345.0 1405.3,345.2 1406.0,347.0 1406.6,349.4 1407.3,350.9 1407.9,352.2 1408.6,352.0 1409.2,354.4 1409.9,355.6 1410.5,354.4 1411.2,357.2 1411.9,358.4 1412.5,360.3 1413.2,360.1 1413.8,361.0 1414.5,358.1 1415.1,358.3 1415.8,354.6 1416.4,353.6 1417.1,356.2 1417.8,356.2 1418.4,353.1 1419.1,354.3 1419.7,349.7 1420.4,347.4 1421.0,344.3 1421.7,339.0 1422.4,340.8 1423.0,338.5 1423.7,337.7 1424.3,336.3 1425.0,337.2 1425.6,335.3 1426.3,334.8 1426.9,334.6 1427.6,332.1 1428.3,330.5 1428.9,323.8 1429.6,321.7 1430.2,319.3 1430.9,315.0 1431.5,311.3 1432.2,310.4 1432.8,308.5 1433.5,307.6 1434.2,307.3 1434.8,307.4 1435.5,306.6 1436.1,306.5 1436.8,306.7 1437.4,313.1 1438.1,314.7 1438.8,316.0 1439.4,314.0 1440.1,311.2 1440.7,309.2 1441.4,309.0 1442.0,308.2 1442.7,307.4 1443.3,307.0 1444.0,308.5 1444.7,310.1 1445.3,311.0 1446.0,313.2 1446.6,309.2 1447.3,309.0 1447.9,307.1 1448.6,307.5 1449.2,308.7 1449.9,313.2 1450.6,314.7 1451.2,317.8 1451.9,318.6 1452.5,318.9 1453.2,316.2 1453.8,313.4 1454.5,314.4 1455.2,315.0 1455.8,316.9 1456.5,317.0 1457.1,318.7 1457.8,321.9 1458.4,325.2 1459.1,326.6 1459.7,324.9 1460.4,322.4 1461.1,320.9 1461.7,320.8 1462.4,320.1 1463.0,319.6 1463.7,319.0 1464.3,320.5 1465.0,317.6 1465.6,315.4 1466.3,313.1 1467.0,311.3 1467.6,311.1 1468.3,310.2 1468.9,309.9 1469.6,312.0 1470.2,309.8 1470.9,311.1 1471.6,310.8 1472.2,312.0 1472.9,312.7 1473.5,311.3 1474.2,309.4 1474.8,307.7 1475.5,307.2 1476.1,308.9 1476.8,307.7 1477.5,310.6 1478.1,311.4 1478.8,312.9 1479.4,312.9 1480.1,314.2 1480.7,314.2 1481.4,315.4 1482.0,315.9 1482.7,319.9 1483.4,323.5 1484.0,322.6 1484.7,321.9 1485.3,319.7 1486.0,321.9 1486.6,320.7 1487.3,323.1 1488.0,323.4 1488.6,323.4 1489.3,326.4 1489.9,326.4 1490.6,327.0 1491.2,327.7 1491.9,327.7 1492.5,326.7 1493.2,326.8 1493.9,325.3 1494.5,317.5 1495.2,314.3 1495.8,312.2 1496.5,311.7 1497.1,311.6 1497.8,312.3 1498.4,313.7 1499.1,311.7 1499.8,314.5 1500.4,313.4 1501.1,316.2 1501.7,319.4 1502.4,321.1 1503.0,326.4 1503.7,331.2 1504.4,328.3 1505.0,325.3 1505.7,322.1 1506.3,324.8 1507.0,322.4 1507.6,321.6 1508.3,323.8 1508.9,322.5 1509.6,321.2 1510.3,322.4 1510.9,321.1 1511.6,320.6 1512.2,319.2 1512.9,316.9 1513.5,319.7 1514.2,321.1 1514.8,322.2 1515.5,324.0 1516.2,326.5 1516.8,326.1 1517.5,327.7 1518.1,330.0 1518.8,331.3 1519.4,329.9 1520.1,327.0 1520.8,326.6 1521.4,325.9 1522.1,326.0 1522.7,323.8 1523.4,323.2 1524.0,323.0 1524.7,320.5 1525.3,321.7 1526.0,321.1 1526.7,319.2 1527.3,318.9 1528.0,316.7 1528.6,314.2 1529.3,315.2 1529.9,316.8 1530.6,320.6 1531.2,320.7 1531.9,322.1 1532.6,321.7 1533.2,320.3 1533.9,321.1 1534.5,321.0 1535.2,317.4 1535.8,314.5 1536.5,313.6 1537.2,312.5 1537.8,313.0 1538.5,313.5 1539.1,314.2 1539.8,313.3 1540.4,313.0 1541.1,313.0 1541.7,312.7 1542.4,309.3 1543.1,308.6 1543.7,306.8 1544.4,305.6 1545.0,307.5 1545.7,309.6 1546.3,307.0 1547.0,301.7 1547.6,300.8 1548.3,296.6 1549.0,292.1 1549.6,289.6 1550.3,287.9 1550.9,285.8 1551.6,285.3 1552.2,282.2 1552.9,279.9 1553.6,278.4 1554.2,280.0 1554.9,275.4 1555.5,279.7 1556.2,282.9 1556.8,280.9 1557.5,281.6 1558.1,280.9 1558.8,280.5 1559.5,282.3 1560.1,279.6 1560.8,277.0 1561.4,277.6 1562.1,277.1 1562.7,276.7 1563.4,275.4 1564.0,277.5 1564.7,273.2 1565.4,272.0 1566.0,270.4 1566.7,273.3 1567.3,275.2 1568.0,276.2 1568.6,276.3 1569.3,277.0 1570.0,278.5 1570.6,280.3 1571.3,283.3 1571.9,283.7 1572.6,284.5 1573.2,282.4 1573.9,280.7 1574.5,276.9 1575.2,275.5 1575.9,274.4 1576.5,278.3 1577.2,281.8 1577.8,281.0 1578.5,282.2 1579.1,278.8 1579.8,275.7 1580.4,274.6 1581.1,272.9 1581.8,272.8 1582.4,274.0 1583.1,271.9 1583.7,272.7 1584.4,273.3 1585.0,273.2 1585.7,271.5 1586.4,271.9 1587.0,272.4 1587.7,272.8 1588.3,272.5 1589.0,275.7 1589.6,276.4 1590.3,279.5 1590.9,278.4 1591.6,279.7 1592.3,279.4 1592.9,279.0 1593.6,278.2 1594.2,277.2 1594.9,280.2 1595.5,278.5 1596.2,278.4 1596.8,280.6 1597.5,278.9 1598.2,281.5 1598.8,284.3 1599.5,291.3 1600.1,292.4 1600.8,292.4 1601.4,291.2 1602.1,289.3 1602.8,287.7 1603.4,288.7 1604.1,295.1 1604.7,296.1 1605.4,294.3 1606.0,290.9 1606.7,293.0 1607.3,291.1 1608.0,291.5 1608.7,291.2 1609.3,290.1 1610.0,290.8 1610.6,288.5 1611.3,288.4 1611.9,288.3 1612.6,289.0 1613.2,289.3 1613.9,289.5 1614.6,292.3 1615.2,291.4 1615.9,290.4 1616.5,291.5 1617.2,291.9 1617.8,293.5 1618.5,295.4 1619.2,296.1 1619.8,296.6 1620.5,293.6 1621.1,292.6 1621.8,292.0 1622.4,291.4 1623.1,292.5 1623.7,291.2 1624.4,289.2 1625.1,282.2 1625.7,284.2 1626.4,283.6 1627.0,283.9 1627.7,281.7 1628.3,279.7 1629.0,281.4 1629.6,279.6 1630.3,278.0 1631.0,279.7 1631.6,282.0 1632.3,280.2 1632.9,276.7 1633.6,272.7 1634.2,275.9 1634.9,272.2 1635.6,272.8 1636.2,271.1 1636.9,272.8 1637.5,270.4 1638.2,269.3 1638.8,267.2 1639.5,266.6 1640.1,267.5 1640.8,266.2 1641.5,269.6 1642.1,270.2 1642.8,269.7 1643.4,271.0 1644.1,272.0 1644.7,273.2 1645.4,272.1 1646.0,273.0 1646.7,273.0 1647.4,267.8 1648.0,267.4 1648.7,268.9 1649.3,269.4 1650.0,270.2 1650.6,271.2 1651.3,271.3 1652.0,271.5 1652.6,272.2 1653.3,271.6 1653.9,270.9 1654.6,270.9 1655.2,268.3 1655.9,270.6 1656.5,267.7 1657.2,269.3 1657.9,268.2 1658.5,268.9 1659.2,267.5 1659.8,267.0 1660.5,269.3 1661.1,266.8 1661.8,262.8 1662.4,261.5 1663.1,261.5 1663.8,260.7 1664.4,259.8 1665.1,257.7 1665.7,259.1 1666.4,260.3 1667.0,262.7 1667.7,261.1 1668.4,260.3 1669.0,261.3 1669.7,260.2 1670.3,260.5 1671.0,260.9 1671.6,260.2 1672.3,263.5 1672.9,263.7 1673.6,263.6 1674.3,262.7 1674.9,262.7 1675.6,262.5 1676.2,259.7 1676.9,258.4 1677.5,258.7 1678.2,255.5 1678.8,256.4 1679.5,259.7 1680.2,260.5 1680.8,261.9 1681.5,262.9 1682.1,265.0 1682.8,265.6 1683.4,266.1 1684.1,267.1 1684.8,268.4 1685.4,269.1 1686.1,269.4 1686.7,268.7 1687.4,264.4 1688.0,266.1 1688.7,266.2 1689.3,266.3 1690.0,264.3 1690.7,266.8 1691.3,265.2 1692.0,263.7 1692.6,263.8 1693.3,262.7 1693.9,261.8 1694.6,262.5 1695.2,261.4 1695.9,260.9 1696.6,262.2 1697.2,263.2 1697.9,264.0 1698.5,268.0 1699.2,265.7 1699.8,267.1 1700.5,264.9 1701.2,261.9 1701.8,261.6"/>
</g>
<line x1="0" y1="260.5" x2="1838" y2="260.5" stroke="#0000e0" stroke-width="1" stroke-dasharray="3 3" shape-rendering="crispEdges"/>
<rect x="5" y="5" width="47" height="30" fill="#fff"/><rect x="5" y="35" width="53.5" height="15" fill="#fff"/>
<rect x="52" y="4" width="1" height="1" fill="#000080"/><rect x="52" y="8" width="1" height="3" fill="#b06020"/>
<text x="5" y="15.8" fill="#00ee00" textLength="45.5" lengthAdjust="spacingAndGlyphs">SMA(20)</text>
<text x="5" y="30.6" fill="#000060" textLength="45.5" lengthAdjust="spacingAndGlyphs">SMA(50)</text>
<text x="5" y="45.6" fill="#ff00ff" textLength="52.5" lengthAdjust="spacingAndGlyphs">SMA(100)</text>
<text x="6" y="102" fill="#000080" textLength="897.5" lengthAdjust="spacingAndGlyphs">Das Halving fand am 20. April 2024 statt, und das nächste Halving wird im Jahr 2028 erwartet. Es halbiert die Belohnungen für die Miner beim Schürfen eines Blocks</text>
<text x="62.5" y="116" fill="#000080" textLength="788.5" lengthAdjust="spacingAndGlyphs">und soll durch eine regelmäßige, automatische Verknappung des Angebots von Bitcoinsmenge, einen weiteren Kursverfall (Inflation) verhindern.</text>
<text x="203" y="135" fill="#000000" font-size="14" font-weight="bold" textLength="131.5" lengthAdjust="spacingAndGlyphs">BITCOIN (BTC) USD</text>
<text x="203" y="155.5" fill="#c4c4c4" font-size="17" textLength="216" lengthAdjust="spacingAndGlyphs">Logarithmische Darstellung</text>
<text x="203" y="190.5" fill="#000080" font-weight="bold" textLength="162" lengthAdjust="spacingAndGlyphs">Kürze Bedeutungserklärung:</text>
<text x="201.3" y="202.6" fill="#000080" textLength="1152" lengthAdjust="spacingAndGlyphs">- Widerstandslinie - ist eine horizontale Strichlinie rot und eine Unterstützungslinie - ist gleich, aber grün. Die Linien zeigen das Kursniveau, das in der Vergangenheit schon erreicht, aber nicht überwunden wurde.</text>
<text x="201.3" y="213.6" fill="#000080" textLength="464" lengthAdjust="spacingAndGlyphs">- Grüne Rechteck in der Vergangenheit - zeigt sog. Krypto-Sommer, bzw. Bullenmarkt.</text>
<text x="203" y="224.6" fill="#000080" textLength="463.3" lengthAdjust="spacingAndGlyphs">- Rote Rechteck in der Vergangenheit - zeigt sog. Krypto-Winter, bzw. große Korrektur.</text>
<text x="201.3" y="237" fill="#000080" textLength="636" lengthAdjust="spacingAndGlyphs">- Die gespiegelten Rechtecke auf der rechten Seite stellen mögliche Szenarien basierend auf der Vergangenheit dar.</text>
<text x="202.5" y="250.3" fill="#000080" textLength="692.8" lengthAdjust="spacingAndGlyphs">- Ein Trendkanal besteht aus einer oberen und einer unteren Linien, diese, die obere und untere Grenze des Trends darstellen.</text>
<text x="202.5" y="263" fill="#000080" textLength="681.8" lengthAdjust="spacingAndGlyphs">- Als "Bodenbildung", bezeichnet man die wichtigsten Umkehrformationen, die beenden, einen bedeutenden Kursrückverlauf.</text>
<text x="201.3" y="275.5" fill="#000080" textLength="713" lengthAdjust="spacingAndGlyphs">- Der "Durchbruch", findet dann statt, wenn der Kurs, ziemlich deutlich überschreitet, die Widerstandslinie, bzw. Unterstützungslinie.</text>
<text x="202.5" y="288" fill="#000080" textLength="309" lengthAdjust="spacingAndGlyphs">- SMA - Sind hier, die drei gleitenden Durchschnittslinien.</text>
<text x="241" y="533" fill="#000080" text-anchor="middle" textLength="66" lengthAdjust="spacingAndGlyphs">Bullenmarkt</text>
<text x="241" y="547" fill="#000080" text-anchor="middle" textLength="88.6" lengthAdjust="spacingAndGlyphs">Krypto-Sommer.</text>
<text x="861" y="336" fill="#000080" text-anchor="middle" textLength="65.6" lengthAdjust="spacingAndGlyphs">Bullenmarkt</text>
<text x="861" y="350" fill="#000080" text-anchor="middle" textLength="85.1" lengthAdjust="spacingAndGlyphs">Krypto-Sommer</text>
<text x="1541.5" y="217.7" fill="#000080" text-anchor="middle" textLength="65.6" lengthAdjust="spacingAndGlyphs">Bullenmarkt</text>
<text x="1541.5" y="230.6" fill="#000080" text-anchor="middle" textLength="85.1" lengthAdjust="spacingAndGlyphs">Krypto-Sommer</text>
<text x="135.4" y="590" fill="#000080" text-anchor="middle">Halving</text>
<text x="784" y="588.7" fill="#000080" text-anchor="middle">Halving</text>
<text x="1454" y="589" fill="#000080" text-anchor="middle">Halving</text>
<text x="152.4" y="674.8" fill="#2090a0">Durchbruch! &gt;&gt;</text>
<text x="796.5" y="423" fill="#2090a0">Durchbruch! &gt;&gt;</text>
<text x="1270.7" y="310.5" fill="#2090a0" textLength="144.7" lengthAdjust="spacingAndGlyphs">Durchbruch nach oben! &gt;&gt;</text>
<text x="373.5" y="597.7" fill="#000080" textLength="167" lengthAdjust="spacingAndGlyphs">Große Korrektur - Krypto-Winter</text>
<text x="546.5" y="601.4" fill="#000080" textLength="76" lengthAdjust="spacingAndGlyphs">Bodenbildung</text>
<text x="1037" y="444.8" fill="#000080" textLength="172" lengthAdjust="spacingAndGlyphs">Große Korrektur - Krypto-Winter</text>
<text x="1221.3" y="456.7" fill="#000080" textLength="76" lengthAdjust="spacingAndGlyphs">Bodenbildung</text>
<text x="1191.5" y="148.5" fill="#000000" text-anchor="end">400.000</text>
<text x="1191.5" y="212.5" fill="#000000" text-anchor="end">200.000</text>
<text x="1191.5" y="275.5" fill="#000000" text-anchor="end">100.000</text>
<text x="1191.5" y="343.7" fill="#000000" text-anchor="end">50.000</text>
<text x="1191.5" y="427.7" fill="#000000" text-anchor="end">20.000</text>
<text x="1191.5" y="491.5" fill="#000000" text-anchor="end">10.000</text>
<text x="1191.5" y="599.5" fill="#000000" text-anchor="end">3.000</text>
<text x="1191.5" y="703.5" fill="#000000" text-anchor="end">1.000</text>
<text x="1191.5" y="768.5" fill="#000000" text-anchor="end">500</text>
<text x="579" y="806" fill="#000000" font-size="14" textLength="1103" lengthAdjust="spacingAndGlyphs" font-family="'Liberation Serif',serif">Haftungsausschluss für Inhalte: Alle Trendkanäle bzw. andere Linien, oder Grafiken hier sind keine Empfehlungen, oder Beratung, sondern die zeigen lediglich meine eigene Einschätzung. Alle Chartdaten sind ohne Gewähr.  www.wikifolio.com/de/de/p/cyberwaehrungen</text>
<rect x="1838.0" y="1" width="76.0" height="946" fill="#ffffff"/>
<g stroke="#c0c0c0" stroke-width="1" shape-rendering="crispEdges">
<line x1="1837.5" y1="1" x2="1837.5" y2="947"/>
<line x1="1" y1="839.5" x2="1915" y2="839.5"/>
<line x1="0" y1="932.5" x2="1915" y2="932.5"/>
<line x1="1822.5" y1="932.5" x2="1822.5" y2="947"/>
<line x1="88.5" y1="932.5" x2="88.5" y2="947"/>
<line x1="130.5" y1="932.5" x2="130.5" y2="947"/>
<line x1="172.5" y1="932.5" x2="172.5" y2="947"/>
<line x1="215.5" y1="932.5" x2="215.5" y2="947"/>
<line x1="255.5" y1="932.5" x2="255.5" y2="947"/>
<line x1="295.5" y1="932.5" x2="295.5" y2="947"/>
<line x1="337.5" y1="932.5" x2="337.5" y2="947"/>
<line x1="379.5" y1="932.5" x2="379.5" y2="947"/>
<line x1="422.5" y1="932.5" x2="422.5" y2="947"/>
<line x1="464.5" y1="932.5" x2="464.5" y2="947"/>
<line x1="507.5" y1="932.5" x2="507.5" y2="947"/>
<line x1="550.5" y1="932.5" x2="550.5" y2="947"/>
<line x1="592.5" y1="932.5" x2="592.5" y2="947"/>
<line x1="634.5" y1="932.5" x2="634.5" y2="947"/>
<line x1="677.5" y1="932.5" x2="677.5" y2="947"/>
<line x1="720.5" y1="932.5" x2="720.5" y2="947"/>
<line x1="763.5" y1="932.5" x2="763.5" y2="947"/>
<line x1="805.5" y1="932.5" x2="805.5" y2="947"/>
<line x1="849.5" y1="932.5" x2="849.5" y2="947"/>
<line x1="892.5" y1="932.5" x2="892.5" y2="947"/>
<line x1="934.5" y1="932.5" x2="934.5" y2="947"/>
<line x1="977.5" y1="932.5" x2="977.5" y2="947"/>
<line x1="1019.5" y1="932.5" x2="1019.5" y2="947"/>
<line x1="1062.5" y1="932.5" x2="1062.5" y2="947"/>
<line x1="1104.5" y1="932.5" x2="1104.5" y2="947"/>
<line x1="1147.5" y1="932.5" x2="1147.5" y2="947"/>
<line x1="1190.5" y1="932.5" x2="1190.5" y2="947"/>
<line x1="1232.5" y1="932.5" x2="1232.5" y2="947"/>
<line x1="1275.5" y1="932.5" x2="1275.5" y2="947"/>
<line x1="1317.5" y1="932.5" x2="1317.5" y2="947"/>
<line x1="1360.5" y1="932.5" x2="1360.5" y2="947"/>
<line x1="1402.5" y1="932.5" x2="1402.5" y2="947"/>
<line x1="1445.5" y1="932.5" x2="1445.5" y2="947"/>
<line x1="1487.5" y1="932.5" x2="1487.5" y2="947"/>
<line x1="1531.5" y1="932.5" x2="1531.5" y2="947"/>
<line x1="1574.5" y1="932.5" x2="1574.5" y2="947"/>
<line x1="1616.5" y1="932.5" x2="1616.5" y2="947"/>
<line x1="1658.5" y1="932.5" x2="1658.5" y2="947"/>
<line x1="1701.5" y1="932.5" x2="1701.5" y2="947"/>
<line x1="1744.5" y1="932.5" x2="1744.5" y2="947"/>
<line x1="1786.5" y1="932.5" x2="1786.5" y2="947"/>
<line x1="1837.5" y1="13.5" x2="1841.5" y2="13.5"/>
<line x1="1837.5" y1="19.5" x2="1841.5" y2="19.5"/>
<line x1="1837.5" y1="25.5" x2="1841.5" y2="25.5"/>
<line x1="1837.5" y1="31.5" x2="1841.5" y2="31.5"/>
<line x1="1837.5" y1="38.5" x2="1841.5" y2="38.5"/>
<line x1="1837.5" y1="45.5" x2="1841.5" y2="45.5"/>
<line x1="1837.5" y1="53.5" x2="1841.5" y2="53.5"/>
<line x1="1837.5" y1="62.5" x2="1841.5" y2="62.5"/>
<line x1="1837.5" y1="72.5" x2="1841.5" y2="72.5"/>
<line x1="1837.5" y1="83.5" x2="1841.5" y2="83.5"/>
<line x1="1837.5" y1="95.5" x2="1841.5" y2="95.5"/>
<line x1="1837.5" y1="110.5" x2="1841.5" y2="110.5"/>
<line x1="1837.5" y1="126.5" x2="1841.5" y2="126.5"/>
<line x1="1837.5" y1="147.5" x2="1841.5" y2="147.5"/>
<line x1="1837.5" y1="174.5" x2="1841.5" y2="174.5"/>
<line x1="1837.5" y1="211.5" x2="1841.5" y2="211.5"/>
<line x1="1837.5" y1="276.5" x2="1841.5" y2="276.5"/>
<line x1="1837.5" y1="845.5" x2="1841.5" y2="845.5"/>
<line x1="1837.5" y1="866.5" x2="1841.5" y2="866.5"/>
<line x1="1837.5" y1="887.5" x2="1841.5" y2="887.5"/>
</g>
<clipPath id="cl"><rect x="1838" y="0" width="56.5" height="948"/></clipPath>
<g clip-path="url(#cl)" fill="#000000">
<text x="1844" y="17.8">1700000.0</text>
<text x="1844" y="23.8">1600000.0</text>
<text x="1844" y="29.8">1500000.0</text>
<text x="1844" y="35.9">1400000.0</text>
<text x="1844" y="42.8">1300000.0</text>
<text x="1844" y="49.8">1200000.0</text>
<text x="1844" y="57.9">1100000.0</text>
<text x="1844" y="67.2">1000000.0</text>
<text x="1844" y="77.0">900000.0</text>
<text x="1844" y="88.0">800000.0</text>
<text x="1844" y="100.3">700000.0</text>
<text x="1844" y="114.7">600000.0</text>
<text x="1844" y="130.9">500000.0</text>
<text x="1844" y="152.1">400000.0</text>
<text x="1844" y="179.1">300000.0</text>
<text x="1844" y="216.0">200000.0</text>
<text x="1844" y="280.9">100000.0</text>
</g>
<rect x="1838" y="259" width="77" height="13" fill="#ff00ff"/>
<text x="1844" y="271" fill="#ffffff">111300.2</text>
<rect x="1838" y="253" width="77" height="14" fill="#0000ff"/>
<line x1="1838" y1="260.5" x2="1841" y2="260.5" stroke="#ffffff"/>
<text x="1844" y="264.8" fill="#ffffff">118555.2</text>
<rect x="1906.5" y="17.5" width="8" height="8" fill="#ffffff" stroke="#c0c0c0"/><line x1="1908" y1="21.5" x2="1913" y2="21.5" stroke="#c0c0c0"/>
<line x1="5" y1="908.5" x2="1837.5" y2="908.5" stroke="#000" stroke-width="1" shape-rendering="crispEdges"/>
<polyline fill="none" stroke="#000" stroke-width="1" shape-rendering="crispEdges" points="135.3,890.6 136.3,890.5 137.3,890.3 138.3,890.2 139.3,890.0 140.3,889.8 141.3,889.7 142.3,889.8 143.3,890.0 144.3,890.3 145.3,890.8 146.3,891.4 147.3,891.9 148.3,892.5 149.3,893.1 150.3,893.6 151.3,894.1 152.3,894.5 153.3,895.0 154.3,895.4 155.3,895.9 156.3,896.3 157.3,896.8 158.3,897.2 159.3,897.7 160.3,898.1 161.3,898.6 162.3,899.0 163.3,899.4 164.3,899.9 165.3,900.3 166.3,900.7 167.3,901.0 168.3,901.2 169.3,901.4 170.3,901.4 171.3,901.4 172.3,901.4 173.3,901.4 174.3,901.4 175.3,901.4 176.3,901.4 177.3,901.4 178.3,901.4 179.3,901.4 180.3,901.4 181.3,901.4 182.3,901.4 183.3,901.4 184.3,901.4 185.3,901.4 186.3,901.3 187.3,901.2 188.3,901.1 189.3,900.9 190.3,900.8 191.3,900.7 192.3,900.5 193.3,900.4 194.3,900.3 195.3,900.1 196.3,900.0 197.3,899.9 198.3,899.7 199.3,899.6 200.3,899.4 201.3,899.3 202.3,899.2 203.3,899.0 204.3,898.9 205.3,898.8 206.3,898.6 207.3,898.5 208.3,898.3 209.3,898.2 210.3,898.1 211.3,897.9 212.3,897.7 213.3,897.3 214.3,897.0 215.3,896.5 216.3,896.1 217.3,895.7 218.3,895.4 219.3,895.2 220.3,895.2 221.3,895.2 222.3,895.2 223.3,895.2 224.3,895.2 225.3,895.2 226.3,895.2 227.3,895.1 228.3,895.0 229.3,894.9 230.3,894.8 231.3,894.6 232.3,894.5 233.3,894.3 234.3,894.2 235.3,894.1 236.3,894.0 237.3,894.1 238.3,894.1 239.3,894.2 240.3,894.2 241.3,894.2 242.3,894.0 243.3,893.6 244.3,893.2 245.3,892.7 246.3,892.3 247.3,891.9 248.3,891.6 249.3,891.4 250.3,891.3 251.3,891.3 252.3,891.3 253.3,891.2 254.3,891.2 255.3,891.1 256.3,891.0 257.3,890.9 258.3,890.7 259.3,890.6 260.3,890.4 261.3,890.4 262.3,890.4 263.3,890.4 264.3,890.6 265.3,890.7 266.3,890.9 267.3,891.1 268.3,891.1 269.3,891.1 270.3,890.9 271.3,890.6 272.3,890.2 273.3,889.7 274.3,889.0 275.3,888.1 276.3,887.0 277.3,885.8 278.3,884.5 279.3,883.2 280.3,881.9 281.3,880.5 282.3,879.1 283.3,877.7 284.3,876.3 285.3,875.0 286.3,873.7 287.3,872.5 288.3,871.3 289.3,870.3 290.3,869.4 291.3,868.6 292.3,867.9 293.3,867.4 294.3,866.9 295.3,866.4 296.3,866.0 297.3,865.8 298.3,865.8 299.3,866.0 300.3,866.5 301.3,867.2 302.3,867.9 303.3,868.6 304.3,869.2 305.3,869.9 306.3,870.6 307.3,871.2 308.3,871.9 309.3,872.6 310.3,873.2 311.3,873.6 312.3,873.8 313.3,873.8 314.3,873.6 315.3,873.3 316.3,872.9 317.3,872.6 318.3,872.2 319.3,871.7 320.3,871.1 321.3,870.4 322.3,869.6 323.3,868.8 324.3,868.1 325.3,867.5 326.3,867.1 327.3,866.8 328.3,866.7 329.3,866.7 330.3,866.6 331.3,866.6 332.3,866.5 333.3,866.5 334.3,866.5 335.3,866.6 336.3,866.9 337.3,867.3 338.3,867.8 339.3,868.4 340.3,869.0 341.3,869.6 342.3,870.1 343.3,870.5 344.3,870.9 345.3,871.2 346.3,871.6 347.3,871.9 348.3,872.2 349.3,872.5 350.3,872.6 351.3,872.5 352.3,872.3 353.3,871.9 354.3,871.4 355.3,870.9 356.3,870.4 357.3,869.8 358.3,869.1 359.3,868.3 360.3,867.4 361.3,866.4 362.3,865.4 363.3,864.4 364.3,863.4 365.3,862.2 366.3,860.8 367.3,859.4 368.3,857.8 369.3,856.1 370.3,854.5 371.3,852.8 372.3,851.3 373.3,849.9 374.3,848.7 375.3,847.7 376.3,846.8 377.3,846.1 378.3,845.4 379.3,844.9 380.3,844.4 381.3,844.1 382.3,843.8 383.3,843.6 384.3,843.5 385.3,843.5 386.3,843.7 387.3,844.1 388.3,844.7 389.3,845.7 390.3,847.0 391.3,848.6 392.3,850.9 393.3,853.5 394.3,856.4 395.3,859.6 396.3,863.1 397.3,866.3 398.3,869.2 399.3,871.9 400.3,874.2 401.3,876.3 402.3,878.3 403.3,880.3 404.3,882.3 405.3,884.3 406.3,886.1 407.3,887.6 408.3,889.0 409.3,890.2 410.3,891.2 411.3,892.2 412.3,893.2 413.3,894.0 414.3,894.8 415.3,895.5 416.3,896.2 417.3,896.8 418.3,897.4 419.3,898.0 420.3,898.7 421.3,899.3 422.3,899.9 423.3,900.6 424.3,901.3 425.3,902.1 426.3,902.8 427.3,903.6 428.3,904.3 429.3,905.1 430.3,905.8 431.3,906.4 432.3,907.0 433.3,907.5 434.3,908.0 435.3,908.5 436.3,908.9 437.3,909.2 438.3,909.4 439.3,909.6 440.3,909.7 441.3,909.8 442.3,909.8 443.3,909.9 444.3,910.0 445.3,910.1 446.3,910.1 447.3,910.2 448.3,910.3 449.3,910.4 450.3,910.5 451.3,910.5 452.3,910.7 453.3,910.9 454.3,911.2 455.3,911.7 456.3,912.2 457.3,912.7 458.3,913.3 459.3,913.8 460.3,914.4 461.3,914.9 462.3,915.5 463.3,916.0 464.3,916.6 465.3,917.1 466.3,917.6 467.3,918.1 468.3,918.6 469.3,919.0 470.3,919.2 471.3,919.4 472.3,919.5 473.3,919.5 474.3,919.5 475.3,919.5 476.3,919.5 477.3,919.5 478.3,919.5 479.3,919.5 480.3,919.5 481.3,919.5 482.3,919.5 483.3,919.5 484.3,919.5 485.3,919.5 486.3,919.5 487.3,919.5 488.3,919.5 489.3,919.4 490.3,919.4 491.3,919.2 492.3,919.1 493.3,918.9 494.3,918.8 495.3,918.6 496.3,918.5 497.3,918.4 498.3,918.3 499.3,918.2 500.3,918.2 501.3,918.2 502.3,918.2 503.3,918.2 504.3,918.2 505.3,918.2 506.3,918.1 507.3,917.9 508.3,917.7 509.3,917.4 510.3,917.1 511.3,916.8 512.3,916.5 513.3,916.2 514.3,916.0 515.3,915.8 516.3,915.6 517.3,915.5 518.3,915.4 519.3,915.3 520.3,915.3 521.3,915.2 522.3,915.1 523.3,915.0 524.3,914.9 525.3,914.9 526.3,915.0 527.3,915.1 528.3,915.3 529.3,915.6 530.3,915.9 531.3,916.2 532.3,916.6 533.3,916.9 534.3,917.2 535.3,917.5 536.3,917.8 537.3,918.2 538.3,918.6 539.3,919.1 540.3,919.5 541.3,920.0 542.3,920.5 543.3,921.0 544.3,921.5 545.3,922.0 546.3,922.5 547.3,923.0 548.3,923.5 549.3,923.9 550.3,924.3 551.3,924.7 552.3,925.1 553.3,925.5 554.3,925.8 555.3,926.0 556.3,926.1 557.3,926.1 558.3,926.0 559.3,926.0 560.3,925.9 561.3,925.8 562.3,925.7 563.3,925.6 564.3,925.5 565.3,925.3 566.3,925.1 567.3,924.9 568.3,924.8 569.3,924.6 570.3,924.4 571.3,924.2 572.3,924.1 573.3,923.9 574.3,923.8 575.3,923.6 576.3,923.5 577.3,923.3 578.3,923.2 579.3,923.0 580.3,922.9 581.3,922.7 582.3,922.5 583.3,922.3 584.3,922.1 585.3,921.8 586.3,921.6 587.3,921.3 588.3,921.1 589.3,920.8 590.3,920.5 591.3,920.1 592.3,919.7 593.3,919.2 594.3,918.7 595.3,918.1 596.3,917.5 597.3,916.9 598.3,916.4 599.3,915.8 600.3,915.2 601.3,914.7 602.3,914.1 603.3,913.5 604.3,912.9 605.3,912.4 606.3,911.8 607.3,911.2 608.3,910.4 609.3,909.4 610.3,908.2 611.3,906.9 612.3,905.5 613.3,904.2 614.3,903.0 615.3,902.0 616.3,901.0 617.3,900.0 618.3,899.0 619.3,898.0 620.3,897.1 621.3,896.2 622.3,895.3 623.3,894.5 624.3,893.6 625.3,892.8 626.3,891.9 627.3,891.0 628.3,890.0 629.3,888.9 630.3,887.8 631.3,886.6 632.3,885.4 633.3,884.3 634.3,883.3 635.3,882.4 636.3,881.6 637.3,880.9 638.3,880.1 639.3,879.5 640.3,879.0 641.3,878.5 642.3,878.2 643.3,878.0 644.3,877.7 645.3,877.5 646.3,877.2 647.3,877.0 648.3,876.7 649.3,876.5 650.3,876.2 651.3,875.9 652.3,875.7 653.3,875.6 654.3,875.6 655.3,875.8 656.3,876.2 657.3,876.7 658.3,877.3 659.3,878.0 660.3,878.8 661.3,879.7 662.3,880.7 663.3,881.6 664.3,882.4 665.3,883.1 666.3,883.6 667.3,884.1 668.3,884.6 669.3,885.1 670.3,885.6 671.3,886.1 672.3,886.7 673.3,887.4 674.3,888.3 675.3,889.2 676.3,890.2 677.3,891.2 678.3,892.2 679.3,893.2 680.3,894.0 681.3,894.8 682.3,895.6 683.3,896.3 684.3,896.9 685.3,897.6 686.3,898.3 687.3,898.9 688.3,899.5 689.3,900.0 690.3,900.6 691.3,901.1 692.3,901.6 693.3,902.1 694.3,902.6 695.3,903.1 696.3,903.6 697.3,904.0 698.3,904.4 699.3,904.8 700.3,905.2 701.3,905.5 702.3,905.8 703.3,906.1 704.3,906.5 705.3,906.8 706.3,907.1 707.3,907.5 708.3,907.8 709.3,908.2 710.3,908.6 711.3,909.0 712.3,909.4 713.3,909.8 714.3,910.2 715.3,910.6 716.3,911.1 717.3,911.5 718.3,912.0 719.3,912.5 720.3,912.9 721.3,913.3 722.3,913.6 723.3,913.9 724.3,914.1 725.3,914.3 726.3,914.4 727.3,914.5 728.3,914.5 729.3,914.4 730.3,914.3 731.3,914.1 732.3,913.9 733.3,913.7 734.3,913.5 735.3,913.2 736.3,912.9 737.3,912.6 738.3,912.2 739.3,911.8 740.3,911.5 741.3,911.1 742.3,910.7 743.3,910.3 744.3,910.0 745.3,909.7 746.3,909.5 747.3,909.3 748.3,909.2 749.3,909.1 750.3,909.1 751.3,909.0 752.3,908.9 753.3,908.9 754.3,909.0 755.3,909.3 756.3,909.7 757.3,910.2 758.3,910.7 759.3,911.2 760.3,911.7 761.3,912.2 762.3,912.7 763.3,913.2 764.3,913.6 765.3,914.0 766.3,914.4 767.3,914.8 768.3,915.2 769.3,915.6 770.3,915.9 771.3,916.1 772.3,916.2 773.3,916.2 774.3,916.2 775.3,916.2 776.3,916.2 777.3,916.0 778.3,915.7 779.3,915.2 780.3,914.5 781.3,913.6 782.3,912.8 783.3,912.1 784.3,911.4 785.3,910.8 786.3,910.2 787.3,909.7 788.3,909.1 789.3,908.5 790.3,908.0 791.3,907.5 792.3,906.9 793.3,906.4 794.3,905.9 795.3,905.4 796.3,904.9 797.3,904.4 798.3,903.9 799.3,903.5 800.3,903.2 801.3,903.0 802.3,902.9 803.3,902.7 804.3,902.6 805.3,902.6 806.3,902.5 807.3,902.5 808.3,902.6 809.3,902.6 810.3,902.7 811.3,902.7 812.3,902.8 813.3,902.8 814.3,902.9 815.3,903.0 816.3,903.0 817.3,903.1 818.3,903.1 819.3,903.0 820.3,902.8 821.3,902.6 822.3,902.3 823.3,902.0 824.3,901.6 825.3,901.3 826.3,901.0 827.3,900.6 828.3,900.3 829.3,900.0 830.3,899.7 831.3,899.4 832.3,899.2 833.3,899.0 834.3,898.8 835.3,898.7 836.3,898.5 837.3,898.3 838.3,898.1 839.3,898.0 840.3,898.0 841.3,898.0 842.3,898.2 843.3,898.5 844.3,898.8 845.3,899.2 846.3,899.5 847.3,899.9 848.3,900.2 849.3,900.4 850.3,900.6 851.3,900.8 852.3,900.9 853.3,901.0 854.3,901.0 855.3,901.1 856.3,901.2 857.3,901.3 858.3,901.3 859.3,901.2 860.3,901.0 861.3,900.7 862.3,900.3 863.3,899.9 864.3,899.4 865.3,899.0 866.3,898.5 867.3,897.9 868.3,897.2 869.3,896.4 870.3,895.5 871.3,894.7 872.3,893.8 873.3,893.0 874.3,892.1 875.3,891.3 876.3,890.5 877.3,889.7 878.3,889.0 879.3,888.3 880.3,887.5 881.3,886.8 882.3,886.1 883.3,885.3 884.3,884.6 885.3,883.9 886.3,883.2 887.3,882.4 888.3,881.7 889.3,880.8 890.3,879.9 891.3,878.9 892.3,877.8 893.3,876.6 894.3,875.5 895.3,874.3 896.3,873.2 897.3,872.1 898.3,871.1 899.3,870.2 900.3,869.3 901.3,868.6 902.3,867.8 903.3,867.1 904.3,866.3 905.3,865.6 906.3,864.8 907.3,864.0 908.3,863.3 909.3,862.5 910.3,861.8 911.3,861.0 912.3,860.2 913.3,859.5 914.3,858.7 915.3,858.2 916.3,858.0 917.3,857.9 918.3,858.0 919.3,858.3 920.3,858.7 921.3,858.9 922.3,859.0 923.3,859.0 924.3,858.8 925.3,858.6 926.3,858.3 927.3,858.0 928.3,857.8 929.3,857.7 930.3,857.7 931.3,857.8 932.3,858.1 933.3,858.4 934.3,858.7 935.3,859.1 936.3,859.6 937.3,860.2 938.3,860.8 939.3,861.5 940.3,862.2 941.3,862.9 942.3,863.6 943.3,864.4 944.3,865.2 945.3,866.0 946.3,866.9 947.3,867.9 948.3,868.9 949.3,869.9 950.3,870.9 951.3,871.9 952.3,872.9 953.3,873.9 954.3,875.0 955.3,876.2 956.3,877.6 957.3,879.0 958.3,880.5 959.3,882.0 960.3,883.5 961.3,885.0 962.3,886.5 963.3,888.0 964.3,889.5 965.3,891.0 966.3,892.4 967.3,893.9 968.3,895.3 969.3,896.8 970.3,898.2 971.3,899.6 972.3,901.1 973.3,902.5 974.3,904.0 975.3,905.3 976.3,906.3 977.3,907.2 978.3,907.9 979.3,908.5 980.3,909.0 981.3,909.5 982.3,910.0 983.3,910.5 984.3,910.9 985.3,911.3 986.3,911.6 987.3,911.7 988.3,911.9 989.3,912.0 990.3,912.1 991.3,912.2 992.3,912.2 993.3,912.1 994.3,911.9 995.3,911.6 996.3,911.2 997.3,910.9 998.3,910.5 999.3,910.2 1000.3,909.8 1001.3,909.5 1002.3,909.2 1003.3,908.8 1004.3,908.5 1005.3,908.1 1006.3,907.8 1007.3,907.4 1008.3,907.1 1009.3,906.8 1010.3,906.6 1011.3,906.5 1012.3,906.4 1013.3,906.4 1014.3,906.4 1015.3,906.4 1016.3,906.4 1017.3,906.4 1018.3,906.4 1019.3,906.4 1020.3,906.3 1021.3,906.1 1022.3,905.8 1023.3,905.5 1024.3,905.2 1025.3,904.9 1026.3,904.6 1027.3,904.3 1028.3,904.0 1029.3,903.7 1030.3,903.4 1031.3,903.1 1032.3,902.8 1033.3,902.4 1034.3,902.1 1035.3,901.7 1036.3,901.3 1037.3,900.9 1038.3,900.5 1039.3,900.1 1040.3,899.7 1041.3,899.3 1042.3,898.9 1043.3,898.6 1044.3,898.4 1045.3,898.3 1046.3,898.4 1047.3,898.4 1048.3,898.5 1049.3,898.7 1050.3,898.9 1051.3,899.2 1052.3,899.5 1053.3,900.0 1054.3,900.4 1055.3,900.8 1056.3,901.3 1057.3,901.7 1058.3,902.2 1059.3,902.6 1060.3,903.2 1061.3,903.7 1062.3,904.3 1063.3,904.9 1064.3,905.4 1065.3,906.0 1066.3,906.6 1067.3,907.1 1068.3,907.6 1069.3,908.1 1070.3,908.5 1071.3,909.0 1072.3,909.4 1073.3,909.8 1074.3,910.2 1075.3,910.5 1076.3,910.8 1077.3,911.0 1078.3,911.1 1079.3,911.3 1080.3,911.4 1081.3,911.6 1082.3,911.7 1083.3,911.9 1084.3,912.0 1085.3,912.2 1086.3,912.4 1087.3,912.6 1088.3,912.8 1089.3,913.0 1090.3,913.2 1091.3,913.4 1092.3,913.5 1093.3,913.5 1094.3,913.5 1095.3,913.5 1096.3,913.4 1097.3,913.3 1098.3,913.2 1099.3,913.1 1100.3,913.0 1101.3,912.9 1102.3,912.8 1103.3,912.8 1104.3,912.7 1105.3,912.7 1106.3,912.7 1107.3,912.7 1108.3,912.7 1109.3,912.7 1110.3,912.7 1111.3,912.7 1112.3,912.8 1113.3,912.8 1114.3,912.9 1115.3,913.0 1116.3,913.1 1117.3,913.2 1118.3,913.3 1119.3,913.4 1120.3,913.6 1121.3,913.8 1122.3,914.1 1123.3,914.5 1124.3,914.9 1125.3,915.4 1126.3,915.8 1127.3,916.3 1128.3,916.7 1129.3,917.2 1130.3,917.6 1131.3,918.0 1132.3,918.3 1133.3,918.7 1134.3,919.0 1135.3,919.3 1136.3,919.7 1137.3,920.1 1138.3,920.5 1139.3,921.0 1140.3,921.5 1141.3,922.0 1142.3,922.6 1143.3,923.1 1144.3,923.6 1145.3,924.2 1146.3,924.6 1147.3,925.0 1148.3,925.4 1149.3,925.7 1150.3,925.9 1151.3,926.2 1152.3,926.5 1153.3,926.7 1154.3,926.9 1155.3,927.1 1156.3,927.2 1157.3,927.3 1158.3,927.4 1159.3,927.5 1160.3,927.6 1161.3,927.6 1162.3,927.5 1163.3,927.3 1164.3,927.1 1165.3,926.8 1166.3,926.6 1167.3,926.3 1168.3,926.0 1169.3,925.8 1170.3,925.5 1171.3,925.2 1172.3,925.0 1173.3,924.7 1174.3,924.5 1175.3,924.2 1176.3,924.0 1177.3,923.8 1178.3,923.6 1179.3,923.5 1180.3,923.5 1181.3,923.4 1182.3,923.4 1183.3,923.4 1184.3,923.4 1185.3,923.4 1186.3,923.4 1187.3,923.4 1188.3,923.3 1189.3,923.3 1190.3,923.3 1191.3,923.3 1192.3,923.3 1193.3,923.3 1194.3,923.2 1195.3,923.2 1196.3,923.1 1197.3,923.1 1198.3,923.0 1199.3,922.9 1200.3,922.8 1201.3,922.7 1202.3,922.6 1203.3,922.5 1204.3,922.4 1205.3,922.3 1206.3,922.2 1207.3,922.2 1208.3,922.1 1209.3,922.1 1210.3,922.0 1211.3,922.0 1212.3,921.9 1213.3,921.9 1214.3,921.8 1215.3,921.8 1216.3,921.7 1217.3,921.7 1218.3,921.6 1219.3,921.6 1220.3,921.5 1221.3,921.5 1222.3,921.4 1223.3,921.4 1224.3,921.4 1225.3,921.3 1226.3,921.3 1227.3,921.2 1228.3,921.2 1229.3,921.2 1230.3,921.1 1231.3,921.1 1232.3,921.1 1233.3,921.0 1234.3,920.8 1235.3,920.5 1236.3,920.1 1237.3,919.7 1238.3,919.2 1239.3,918.8 1240.3,918.3 1241.3,917.9 1242.3,917.4 1243.3,916.8 1244.3,916.2 1245.3,915.6 1246.3,915.0 1247.3,914.3 1248.3,913.6 1249.3,912.9 1250.3,912.2 1251.3,911.5 1252.3,910.7 1253.3,909.9 1254.3,909.0 1255.3,908.2 1256.3,907.4 1257.3,906.6 1258.3,906.0 1259.3,905.4 1260.3,904.9 1261.3,904.5 1262.3,904.1 1263.3,903.7 1264.3,903.4 1265.3,903.1 1266.3,902.8 1267.3,902.6 1268.3,902.4 1269.3,902.1 1270.3,901.9 1271.3,901.7 1272.3,901.5 1273.3,901.2 1274.3,901.0 1275.3,900.8 1276.3,900.5 1277.3,900.2 1278.3,899.8 1279.3,899.5 1280.3,899.2 1281.3,898.8 1282.3,898.5 1283.3,898.1 1284.3,897.8 1285.3,897.4 1286.3,897.0 1287.3,896.6 1288.3,896.2 1289.3,895.8 1290.3,895.6 1291.3,895.4 1292.3,895.3 1293.3,895.3 1294.3,895.4 1295.3,895.5 1296.3,895.5 1297.3,895.6 1298.3,895.8 1299.3,896.0 1300.3,896.3 1301.3,896.6 1302.3,896.9 1303.3,897.3 1304.3,897.6 1305.3,897.9 1306.3,898.2 1307.3,898.5 1308.3,898.8 1309.3,899.1 1310.3,899.3 1311.3,899.5 1312.3,899.7 1313.3,899.9 1314.3,900.1 1315.3,900.3 1316.3,900.4 1317.3,900.4 1318.3,900.4 1319.3,900.3 1320.3,900.1 1321.3,899.9 1322.3,899.7 1323.3,899.6 1324.3,899.5 1325.3,899.5 1326.3,899.5 1327.3,899.5 1328.3,899.5 1329.3,899.5 1330.3,899.6 1331.3,899.6 1332.3,899.6 1333.3,899.6 1334.3,899.6 1335.3,899.6 1336.3,899.7 1337.3,899.9 1338.3,900.1 1339.3,900.4 1340.3,900.7 1341.3,901.1 1342.3,901.4 1343.3,901.8 1344.3,902.1 1345.3,902.5 1346.3,902.8 1347.3,903.2 1348.3,903.6 1349.3,904.0 1350.3,904.4 1351.3,904.8 1352.3,905.2 1353.3,905.6 1354.3,905.9 1355.3,906.2 1356.3,906.5 1357.3,906.8 1358.3,907.0 1359.3,907.2 1360.3,907.5 1361.3,907.7 1362.3,907.9 1363.3,908.0 1364.3,908.1 1365.3,908.2 1366.3,908.2 1367.3,908.2 1368.3,908.2 1369.3,908.2 1370.3,908.1 1371.3,907.9 1372.3,907.6 1373.3,907.3 1374.3,906.8 1375.3,906.4 1376.3,906.0 1377.3,905.6 1378.3,905.1 1379.3,904.7 1380.3,904.3 1381.3,903.8 1382.3,903.3 1383.3,902.8 1384.3,902.3 1385.3,901.8 1386.3,901.3 1387.3,900.8 1388.3,900.2 1389.3,899.7 1390.3,899.1 1391.3,898.5 1392.3,898.0 1393.3,897.6 1394.3,897.2 1395.3,897.0 1396.3,896.7 1397.3,896.5 1398.3,896.2 1399.3,896.0 1400.3,895.7 1401.3,895.5 1402.3,895.3 1403.3,895.1 1404.3,894.9 1405.3,894.8 1406.3,894.6 1407.3,894.5 1408.3,894.3 1409.3,894.2 1410.3,894.0 1411.3,893.9 1412.3,893.9 1413.3,893.9 1414.3,894.1 1415.3,894.3 1416.3,894.5 1417.3,894.8 1418.3,895.0 1419.3,895.2 1420.3,895.4 1421.3,895.4 1422.3,895.4 1423.3,895.3 1424.3,895.1 1425.3,895.0 1426.3,894.8 1427.3,894.6 1428.3,894.4 1429.3,894.3 1430.3,894.0 1431.3,893.6 1432.3,893.0 1433.3,892.3 1434.3,891.5 1435.3,890.7 1436.3,889.9 1437.3,889.1 1438.3,888.4 1439.3,887.6 1440.3,887.0 1441.3,886.4 1442.3,885.8 1443.3,885.3 1444.3,884.8 1445.3,884.3 1446.3,883.8 1447.3,883.5 1448.3,883.1 1449.3,882.9 1450.3,882.7 1451.3,882.6 1452.3,882.4 1453.3,882.5 1454.3,882.6 1455.3,882.8 1456.3,883.2 1457.3,883.7 1458.3,884.2 1459.3,884.7 1460.3,885.3 1461.3,886.0 1462.3,886.7 1463.3,887.3 1464.3,888.0 1465.3,888.6 1466.3,889.2 1467.3,889.7 1468.3,890.1 1469.3,890.5 1470.3,890.9 1471.3,891.2 1472.3,891.6 1473.3,892.0 1474.3,892.4 1475.3,892.7 1476.3,893.0 1477.3,893.4 1478.3,893.7 1479.3,893.9 1480.3,894.2 1481.3,894.5 1482.3,894.7 1483.3,895.0 1484.3,895.3 1485.3,895.5 1486.3,895.8 1487.3,896.1 1488.3,896.5 1489.3,896.9 1490.3,897.3 1491.3,897.8 1492.3,898.2 1493.3,898.7 1494.3,899.1 1495.3,899.6 1496.3,900.0 1497.3,900.4 1498.3,900.9 1499.3,901.3 1500.3,901.6 1501.3,902.0 1502.3,902.4 1503.3,902.8 1504.3,903.2 1505.3,903.5 1506.3,903.9 1507.3,904.3 1508.3,904.6 1509.3,904.8 1510.3,905.0 1511.3,905.2 1512.3,905.3 1513.3,905.4 1514.3,905.5 1515.3,905.6 1516.3,905.8 1517.3,906.0 1518.3,906.2 1519.3,906.5 1520.3,906.8 1521.3,907.1 1522.3,907.3 1523.3,907.6 1524.3,907.9 1525.3,908.0 1526.3,908.1 1527.3,908.2 1528.3,908.2 1529.3,908.2 1530.3,908.2 1531.3,908.2 1532.3,908.2 1533.3,908.2 1534.3,908.2 1535.3,908.2 1536.3,908.2 1537.3,908.2 1538.3,908.2 1539.3,908.2 1540.3,908.2 1541.3,908.2 1542.3,908.1 1543.3,907.9 1544.3,907.6 1545.3,907.3 1546.3,906.9 1547.3,906.5 1548.3,906.2 1549.3,905.8 1550.3,905.4 1551.3,905.0 1552.3,904.6 1553.3,904.1 1554.3,903.6 1555.3,903.1 1556.3,902.5 1557.3,902.0 1558.3,901.4 1559.3,900.9 1560.3,900.3 1561.3,899.8 1562.3,899.2 1563.3,898.7 1564.3,898.1 1565.3,897.6 1566.3,897.1 1567.3,896.6 1568.3,896.1 1569.3,895.6 1570.3,895.1 1571.3,894.6 1572.3,894.1 1573.3,893.7 1574.3,893.4 1575.3,893.3 1576.3,893.2 1577.3,893.2 1578.3,893.2 1579.3,893.2 1580.3,893.2 1581.3,893.2 1582.3,893.2 1583.3,893.3 1584.3,893.5 1585.3,893.6 1586.3,893.8 1587.3,894.0 1588.3,894.2 1589.3,894.4 1590.3,894.6 1591.3,894.8 1592.3,895.0 1593.3,895.2 1594.3,895.5 1595.3,895.7 1596.3,895.9 1597.3,896.1 1598.3,896.4 1599.3,896.6 1600.3,896.8 1601.3,897.0 1602.3,897.3 1603.3,897.7 1604.3,898.0 1605.3,898.4 1606.3,898.9 1607.3,899.3 1608.3,899.8 1609.3,900.2 1610.3,900.7 1611.3,901.2 1612.3,901.6 1613.3,902.1 1614.3,902.6 1615.3,903.0 1616.3,903.5 1617.3,904.0 1618.3,904.5 1619.3,905.0 1620.3,905.4 1621.3,905.8 1622.3,906.0 1623.3,906.2 1624.3,906.3 1625.3,906.3 1626.3,906.3 1627.3,906.4 1628.3,906.4 1629.3,906.4 1630.3,906.3 1631.3,906.2 1632.3,906.0 1633.3,905.8 1634.3,905.5 1635.3,905.3 1636.3,905.0 1637.3,904.8 1638.3,904.5 1639.3,904.3 1640.3,904.0 1641.3,903.8 1642.3,903.5 1643.3,903.3 1644.3,903.0 1645.3,902.8 1646.3,902.5 1647.3,902.3 1648.3,902.0 1649.3,901.8 1650.3,901.6 1651.3,901.5 1652.3,901.5 1653.3,901.4 1654.3,901.4 1655.3,901.4 1656.3,901.4 1657.3,901.5 1658.3,901.6 1659.3,901.8 1660.3,902.0 1661.3,902.2 1662.3,902.3 1663.3,902.4 1664.3,902.4 1665.3,902.4 1666.3,902.4 1667.3,902.4 1668.3,902.4 1669.3,902.4 1670.3,902.4 1671.3,902.4 1672.3,902.4 1673.3,902.4 1674.3,902.4 1675.3,902.4 1676.3,902.4 1677.3,902.4 1678.3,902.4 1679.3,902.4 1680.3,902.3 1681.3,902.1 1682.3,901.9 1683.3,901.7 1684.3,901.7 1685.3,901.7 1686.3,901.8 1687.3,902.0 1688.3,902.1 1689.3,902.2 1690.3,902.4 1691.3,902.5 1692.3,902.5 1693.3,902.6 1694.3,902.7 1695.3,902.8 1696.3,902.8 1697.3,902.9 1698.3,903.0 1699.3,903.0 1700.3,903.1 1701.3,903.1"/>
<text x="1844" y="855.4" fill="#000">250.0</text>
<text x="1844" y="870.8" fill="#000">200.0</text>
<text x="1844" y="891.8" fill="#000">150.0</text>
<text x="1844" y="913.0" fill="#000">100.0</text>
<rect x="1838" y="896.5" width="77" height="13.5" fill="#000"/>
<line x1="1838" y1="903.5" x2="1841" y2="903.5" stroke="#fff"/>
<text x="1844" y="908" fill="#fff">111.3</text>
<text x="1545.5" y="907" fill="#000">100.000</text>
<rect x="5.5" y="844.5" width="68" height="14" fill="#fff" stroke="#000" shape-rendering="crispEdges"/>
<text x="8.2" y="855.8" fill="#000">TBI(38/200)</text>
<rect x="76.5" y="845.5" width="12" height="12" fill="#fff" stroke="#000" shape-rendering="crispEdges"/><path d="M78.5 851.5h8M82.5 847.5v8" stroke="#000" stroke-width="2"/>
<rect x="6" y="860" width="21" height="12" fill="#fff"/>
<text x="8.2" y="870.5" fill="#000">TBI</text>
<text x="87.2" y="944.5" text-anchor="end" fill="#000">04</text><text x="91.1" y="944.5" fill="#000">16</text>
<text x="129.2" y="944.5" text-anchor="end" fill="#000">07</text><text x="133.1" y="944.5" fill="#000">16</text>
<text x="171.2" y="944.5" text-anchor="end" fill="#000">10</text><text x="175.1" y="944.5" fill="#000">16</text>
<text x="214.2" y="944.5" text-anchor="end" fill="#000">01</text><text x="218.1" y="944.5" fill="#000">17</text>
<text x="254.2" y="944.5" text-anchor="end" fill="#000">04</text><text x="258.1" y="944.5" fill="#000">17</text>
<text x="294.2" y="944.5" text-anchor="end" fill="#000">07</text><text x="298.1" y="944.5" fill="#000">17</text>
<text x="336.2" y="944.5" text-anchor="end" fill="#000">10</text><text x="340.1" y="944.5" fill="#000">17</text>
<text x="378.2" y="944.5" text-anchor="end" fill="#000">01</text><text x="382.1" y="944.5" fill="#000">18</text>
<text x="421.2" y="944.5" text-anchor="end" fill="#000">04</text><text x="425.1" y="944.5" fill="#000">18</text>
<text x="463.2" y="944.5" text-anchor="end" fill="#000">07</text><text x="467.1" y="944.5" fill="#000">18</text>
<text x="506.2" y="944.5" text-anchor="end" fill="#000">10</text><text x="510.1" y="944.5" fill="#000">18</text>
<text x="549.2" y="944.5" text-anchor="end" fill="#000">01</text><text x="553.1" y="944.5" fill="#000">19</text>
<text x="591.2" y="944.5" text-anchor="end" fill="#000">04</text><text x="595.1" y="944.5" fill="#000">19</text>
<text x="633.2" y="944.5" text-anchor="end" fill="#000">07</text><text x="637.1" y="944.5" fill="#000">19</text>
<text x="676.2" y="944.5" text-anchor="end" fill="#000">10</text><text x="680.1" y="944.5" fill="#000">19</text>
<text x="719.2" y="944.5" text-anchor="end" fill="#000">01</text><text x="723.1" y="944.5" fill="#000">20</text>
<text x="762.2" y="944.5" text-anchor="end" fill="#000">04</text><text x="766.1" y="944.5" fill="#000">20</text>
<text x="804.2" y="944.5" text-anchor="end" fill="#000">07</text><text x="808.1" y="944.5" fill="#000">20</text>
<text x="848.2" y="944.5" text-anchor="end" fill="#000">10</text><text x="852.1" y="944.5" fill="#000">20</text>
<text x="891.2" y="944.5" text-anchor="end" fill="#000">01</text><text x="895.1" y="944.5" fill="#000">21</text>
<text x="933.2" y="944.5" text-anchor="end" fill="#000">04</text><text x="937.1" y="944.5" fill="#000">21</text>
<text x="976.2" y="944.5" text-anchor="end" fill="#000">07</text><text x="980.1" y="944.5" fill="#000">21</text>
<text x="1018.2" y="944.5" text-anchor="end" fill="#000">10</text><text x="1022.1" y="944.5" fill="#000">21</text>
<text x="1061.2" y="944.5" text-anchor="end" fill="#000">01</text><text x="1065.1" y="944.5" fill="#000">22</text>
<text x="1103.2" y="944.5" text-anchor="end" fill="#000">04</text><text x="1107.1" y="944.5" fill="#000">22</text>
<text x="1146.2" y="944.5" text-anchor="end" fill="#000">07</text><text x="1150.1" y="944.5" fill="#000">22</text>
<text x="1189.2" y="944.5" text-anchor="end" fill="#000">10</text><text x="1193.1" y="944.5" fill="#000">22</text>
<text x="1231.2" y="944.5" text-anchor="end" fill="#000">01</text><text x="1235.1" y="944.5" fill="#000">23</text>
<text x="1274.2" y="944.5" text-anchor="end" fill="#000">04</text><text x="1278.1" y="944.5" fill="#000">23</text>
<text x="1316.2" y="944.5" text-anchor="end" fill="#000">07</text><text x="1320.1" y="944.5" fill="#000">23</text>
<text x="1359.2" y="944.5" text-anchor="end" fill="#000">10</text><text x="1363.1" y="944.5" fill="#000">23</text>
<text x="1401.2" y="944.5" text-anchor="end" fill="#000">01</text><text x="1405.1" y="944.5" fill="#000">24</text>
<text x="1444.2" y="944.5" text-anchor="end" fill="#000">04</text><text x="1448.1" y="944.5" fill="#000">24</text>
<text x="1486.2" y="944.5" text-anchor="end" fill="#000">07</text><text x="1490.1" y="944.5" fill="#000">24</text>
<text x="1530.2" y="944.5" text-anchor="end" fill="#000">10</text><text x="1534.1" y="944.5" fill="#000">24</text>
<text x="1573.2" y="944.5" text-anchor="end" fill="#000">01</text><text x="1577.1" y="944.5" fill="#000">25</text>
<text x="1615.2" y="944.5" text-anchor="end" fill="#000">04</text><text x="1619.1" y="944.5" fill="#000">25</text>
<text x="1657.2" y="944.5" text-anchor="end" fill="#000">07</text><text x="1661.1" y="944.5" fill="#000">25</text>
<text x="1700.2" y="944.5" text-anchor="end" fill="#000">10</text><text x="1704.1" y="944.5" fill="#000">25</text>
<text x="1743.2" y="944.5" text-anchor="end" fill="#000">01</text><text x="1747.1" y="944.5" fill="#000">26</text>
<text x="1785.2" y="944.5" text-anchor="end" fill="#000">04</text><text x="1789.1" y="944.5" fill="#000">26</text>
<text x="1827" y="944" fill="#000">-</text>
<path d="M1697.6 1h7.8l-3.9 4.4z" fill="#22cc22"/>
<g fill="#000">
<rect x="0" y="0" width="1916" height="1"/>
<rect x="0" y="0" width="1.2" height="429"/>
<rect x="0" y="840" width="1.2" height="108"/>
<rect x="1915" y="0" width="1" height="948"/>
<rect x="0" y="947" width="1916" height="1"/>
</g>
</svg>
</body></html>
